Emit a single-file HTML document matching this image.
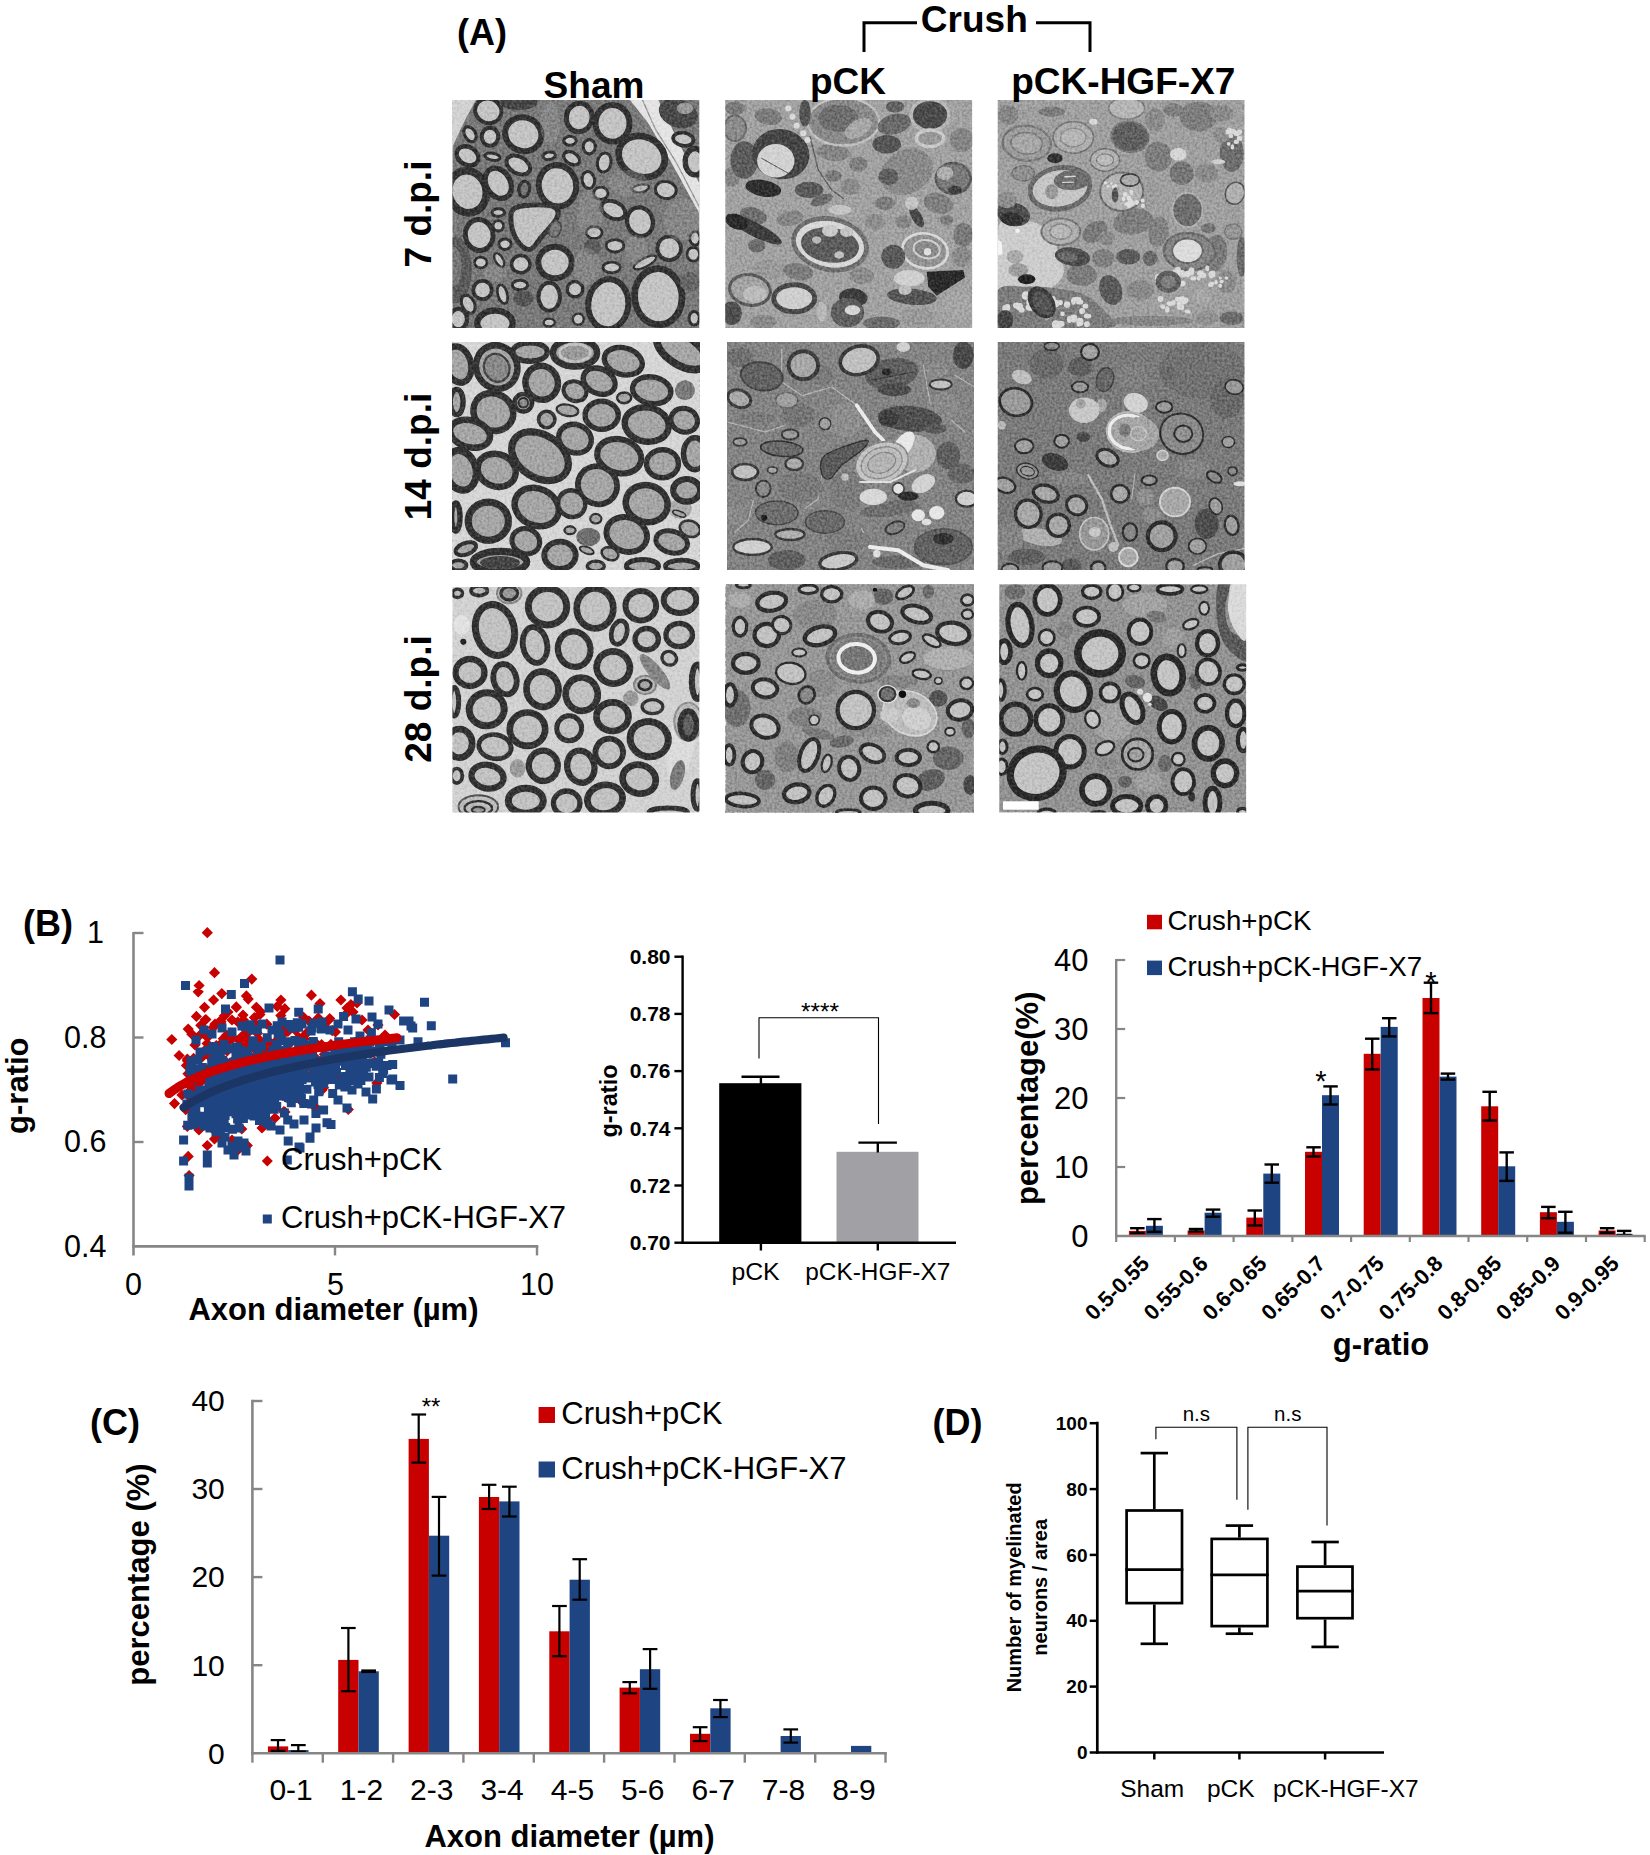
<!DOCTYPE html>
<html lang="en"><head><meta charset="utf-8"><title>Figure</title>
<style>
html,body{margin:0;padding:0;background:#fff;}
body{width:1650px;height:1855px;overflow:hidden;}
svg{display:block;font-family:"Liberation Sans", Arial, sans-serif;}
</style></head><body>
<svg width="1650" height="1855" viewBox="0 0 1650 1855">
<rect width="1650" height="1855" fill="#fff"/>
<g id="panelA">
<defs><filter id="soft" x="-5%" y="-5%" width="110%" height="110%"><feGaussianBlur stdDeviation="0.7"/></filter><filter id="grain" x="0" y="0" width="100%" height="100%" color-interpolation-filters="sRGB"><feTurbulence type="fractalNoise" baseFrequency="0.4" numOctaves="2" seed="3" result="n"/><feColorMatrix type="matrix" values="1.8 0 0 0 -0.4  1.8 0 0 0 -0.4  1.8 0 0 0 -0.4  0 0 0 0 1"/></filter></defs>
<clipPath id="cp1"><rect x="452.4" y="100.0" width="247.0" height="228.0"/></clipPath>
<g clip-path="url(#cp1)">
<rect x="452.4" y="100.0" width="247.0" height="228.0" fill="#7a7a7a"/>
<g filter="url(#soft)">
<path d="M452.5 100.0 L475.8 100.0 L465.0 120.0 L452.5 146.7Z" fill="#d2d2d2"/>
<path d="M656.7 100.0 L699.2 100.0 L699.2 190.0 L680.0 156.7Z" fill="#7a7a7a"/>
<path d="M630.0 100.0 L658.3 100.0 L680.0 145.0 L699.2 183.3 L699.2 213.3 L670.0 160.0 L648.3 123.3Z" fill="#e4e4e4"/>
<path d="M642.5 100.0 L655.0 128.3 L676.7 163.3 L699.2 206.7" fill="none" stroke="#9a9a9a" stroke-width="1.3" stroke-linecap="round" stroke-linejoin="round"/>
<ellipse cx="678.3" cy="113.3" rx="20.0" ry="14.2" fill="#4a4a4a" transform="rotate(20 678.3 113.3)"/>
<ellipse cx="685.0" cy="108.3" rx="8.3" ry="5.8" fill="#9a9a9a"/>
<ellipse cx="683.3" cy="139.2" rx="10.2" ry="6.5" fill="#c4c4c4" stroke="#303030" stroke-width="3.7" transform="rotate(10 683.3 139.2)"/>
<ellipse cx="695.0" cy="161.7" rx="9.8" ry="13.2" fill="#c4c4c4" stroke="#303030" stroke-width="5.3"/>
<ellipse cx="455.8" cy="270.0" rx="15.8" ry="33.3" fill="#5a5a5a"/>
<ellipse cx="453.3" cy="266.7" rx="8.3" ry="20.0" fill="#777"/>
<ellipse cx="523.3" cy="134.2" rx="18.3" ry="16.7" fill="#c4c4c4" stroke="#303030" stroke-width="6.0" transform="rotate(20 523.3 134.2)"/>
<ellipse cx="612.5" cy="123.3" rx="17.0" ry="18.3" fill="#c4c4c4" stroke="#303030" stroke-width="6.0"/>
<ellipse cx="641.7" cy="156.7" rx="23.7" ry="20.0" fill="#c4c4c4" stroke="#303030" stroke-width="6.7" transform="rotate(25 641.7 156.7)"/>
<ellipse cx="557.5" cy="185.8" rx="18.7" ry="20.7" fill="#c4c4c4" stroke="#303030" stroke-width="6.0" transform="rotate(-10 557.5 185.8)"/>
<ellipse cx="467.5" cy="191.7" rx="18.7" ry="21.2" fill="#c4c4c4" stroke="#303030" stroke-width="7.7" transform="rotate(-15 467.5 191.7)"/>
<path d="M513.3 209.2C516.9 205.6 526.4 205.3 533.3 205.0C540.3 204.7 551.1 205.3 555.0 207.5C558.9 209.7 558.9 213.5 556.7 218.3C554.4 223.2 546.0 231.5 541.7 236.7C537.4 241.8 534.4 247.9 530.8 249.2C527.2 250.4 523.2 247.9 520.0 244.2C516.8 240.4 512.8 232.5 511.7 226.7C510.6 220.8 509.7 212.8 513.3 209.2Z" fill="#c2c2c2" stroke="#343434" stroke-width="5.0" stroke-linejoin="round"/>
<ellipse cx="555.0" cy="262.5" rx="16.7" ry="15.7" fill="#c4c4c4" stroke="#303030" stroke-width="6.0"/>
<ellipse cx="608.3" cy="304.2" rx="20.0" ry="25.0" fill="#c4c4c4" stroke="#303030" stroke-width="6.0" transform="rotate(5 608.3 304.2)"/>
<ellipse cx="658.3" cy="296.7" rx="23.7" ry="28.0" fill="#c4c4c4" stroke="#303030" stroke-width="6.7" transform="rotate(-5 658.3 296.7)"/>
<ellipse cx="479.2" cy="235.0" rx="13.8" ry="15.5" fill="#c4c4c4" stroke="#303030" stroke-width="5.0" transform="rotate(-10 479.2 235.0)"/>
<ellipse cx="579.2" cy="117.5" rx="12.8" ry="14.2" fill="#c4c4c4" stroke="#303030" stroke-width="5.0" transform="rotate(10 579.2 117.5)"/>
<ellipse cx="640.0" cy="221.7" rx="12.8" ry="14.5" fill="#c4c4c4" stroke="#303030" stroke-width="4.3" transform="rotate(-20 640.0 221.7)"/>
<ellipse cx="669.2" cy="248.3" rx="11.8" ry="11.8" fill="#c4c4c4" stroke="#303030" stroke-width="3.7"/>
<ellipse cx="495.0" cy="323.3" rx="17.7" ry="12.7" fill="#c4c4c4" stroke="#303030" stroke-width="6.3"/>
<ellipse cx="458.3" cy="319.2" rx="8.7" ry="10.3" fill="#c4c4c4" stroke="#303030" stroke-width="4.3"/>
<ellipse cx="488.3" cy="110.8" rx="13.3" ry="12.2" fill="#c4c4c4" stroke="#303030" stroke-width="4.0" transform="rotate(20 488.3 110.8)"/>
<ellipse cx="518.3" cy="102.5" rx="19.2" ry="7.5" fill="#454545"/>
<ellipse cx="470.0" cy="134.2" rx="5.4" ry="8.1" fill="#c4c4c4" stroke="#303030" stroke-width="3.2" transform="rotate(-30 470.0 134.2)"/>
<ellipse cx="490.0" cy="136.7" rx="8.3" ry="9.0" fill="#c4c4c4" stroke="#303030" stroke-width="4.0"/>
<ellipse cx="467.5" cy="155.8" rx="11.5" ry="8.8" fill="#c4c4c4" stroke="#303030" stroke-width="4.3" transform="rotate(30 467.5 155.8)"/>
<ellipse cx="492.5" cy="156.7" rx="7.8" ry="3.5" fill="#c4c4c4" stroke="#303030" stroke-width="3.0" transform="rotate(10 492.5 156.7)"/>
<ellipse cx="518.3" cy="165.0" rx="12.7" ry="8.3" fill="#c4c4c4" stroke="#303030" stroke-width="4.0" transform="rotate(30 518.3 165.0)"/>
<ellipse cx="498.3" cy="183.3" rx="12.0" ry="16.0" fill="#c4c4c4" stroke="#303030" stroke-width="5.3" transform="rotate(-30 498.3 183.3)"/>
<ellipse cx="524.2" cy="189.2" rx="5.4" ry="7.8" fill="#777" stroke="#303030" stroke-width="3.2" transform="rotate(10 524.2 189.2)"/>
<ellipse cx="549.2" cy="155.8" rx="6.2" ry="3.8" fill="#c4c4c4" stroke="#303030" stroke-width="3.0" transform="rotate(-10 549.2 155.8)"/>
<ellipse cx="570.0" cy="140.8" rx="6.2" ry="4.5" fill="#c4c4c4" stroke="#303030" stroke-width="3.0"/>
<ellipse cx="571.7" cy="158.3" rx="8.7" ry="5.7" fill="#c4c4c4" stroke="#303030" stroke-width="3.3" transform="rotate(30 571.7 158.3)"/>
<ellipse cx="589.2" cy="146.7" rx="6.1" ry="7.1" fill="#c4c4c4" stroke="#303030" stroke-width="3.2"/>
<ellipse cx="604.2" cy="162.5" rx="6.8" ry="9.5" fill="#c4c4c4" stroke="#303030" stroke-width="3.0" transform="rotate(10 604.2 162.5)"/>
<ellipse cx="588.3" cy="180.0" rx="6.2" ry="8.5" fill="#c4c4c4" stroke="#303030" stroke-width="3.0" transform="rotate(-10 588.3 180.0)"/>
<ellipse cx="600.8" cy="193.3" rx="7.2" ry="6.1" fill="#c4c4c4" stroke="#303030" stroke-width="2.8"/>
<ellipse cx="613.3" cy="210.0" rx="12.7" ry="8.3" fill="#c4c4c4" stroke="#303030" stroke-width="4.0" transform="rotate(25 613.3 210.0)"/>
<ellipse cx="640.8" cy="188.3" rx="8.2" ry="3.8" fill="#c4c4c4" stroke="#303030" stroke-width="2.3" transform="rotate(-10 640.8 188.3)"/>
<ellipse cx="665.8" cy="190.0" rx="10.5" ry="8.5" fill="#c4c4c4" stroke="#303030" stroke-width="3.0" transform="rotate(10 665.8 190.0)"/>
<ellipse cx="498.3" cy="212.5" rx="6.2" ry="3.8" fill="#c4c4c4" stroke="#303030" stroke-width="3.0"/>
<ellipse cx="498.3" cy="225.8" rx="5.2" ry="5.2" fill="#c4c4c4" stroke="#303030" stroke-width="2.8"/>
<ellipse cx="505.0" cy="244.2" rx="6.2" ry="5.2" fill="#c4c4c4" stroke="#303030" stroke-width="3.0"/>
<ellipse cx="594.2" cy="232.5" rx="7.9" ry="6.2" fill="#c4c4c4" stroke="#303030" stroke-width="2.8"/>
<ellipse cx="615.0" cy="245.8" rx="8.9" ry="6.2" fill="#c4c4c4" stroke="#303030" stroke-width="2.8"/>
<ellipse cx="592.5" cy="246.7" rx="8.7" ry="8.0" fill="#5c5c5c"/>
<ellipse cx="555.0" cy="229.2" rx="6.7" ry="9.3" fill="#4a4a4a" transform="rotate(20 555.0 229.2)"/>
<ellipse cx="555.0" cy="229.2" rx="5.0" ry="7.7" fill="#7a7a7a" transform="rotate(20 555.0 229.2)"/>
<ellipse cx="480.8" cy="262.5" rx="6.3" ry="5.3" fill="#c4c4c4" stroke="#303030" stroke-width="2.7"/>
<ellipse cx="499.2" cy="260.0" rx="3.8" ry="7.5" fill="#c4c4c4" stroke="#303030" stroke-width="2.3" transform="rotate(-30 499.2 260.0)"/>
<ellipse cx="520.8" cy="264.2" rx="9.2" ry="8.6" fill="#c4c4c4" stroke="#303030" stroke-width="3.5"/>
<ellipse cx="611.7" cy="267.5" rx="8.7" ry="5.3" fill="#c4c4c4" stroke="#303030" stroke-width="2.7"/>
<ellipse cx="645.0" cy="262.5" rx="12.5" ry="4.2" fill="#c4c4c4" stroke="#303030" stroke-width="2.3" transform="rotate(-28 645.0 262.5)"/>
<ellipse cx="482.5" cy="290.0" rx="9.2" ry="9.2" fill="#c4c4c4" stroke="#303030" stroke-width="3.7"/>
<ellipse cx="502.5" cy="294.2" rx="4.7" ry="9.7" fill="#c4c4c4" stroke="#303030" stroke-width="2.7" transform="rotate(-15 502.5 294.2)"/>
<ellipse cx="520.0" cy="285.0" rx="7.8" ry="4.8" fill="#c4c4c4" stroke="#303030" stroke-width="3.0"/>
<ellipse cx="523.3" cy="298.3" rx="10.0" ry="8.3" fill="#555"/>
<ellipse cx="549.2" cy="296.7" rx="10.7" ry="14.0" fill="#c4c4c4" stroke="#303030" stroke-width="4.0"/>
<ellipse cx="575.0" cy="289.2" rx="7.7" ry="7.7" fill="#c4c4c4" stroke="#303030" stroke-width="3.3"/>
<ellipse cx="468.3" cy="304.2" rx="6.2" ry="9.5" fill="#c4c4c4" stroke="#303030" stroke-width="3.0" transform="rotate(-25 468.3 304.2)"/>
<ellipse cx="578.3" cy="319.2" rx="5.5" ry="5.5" fill="#c4c4c4" stroke="#303030" stroke-width="2.3"/>
<ellipse cx="549.2" cy="322.5" rx="5.5" ry="3.8" fill="#c4c4c4" stroke="#303030" stroke-width="2.3"/>
<ellipse cx="695.0" cy="238.3" rx="5.2" ry="6.9" fill="#c4c4c4" stroke="#303030" stroke-width="2.8"/>
<ellipse cx="693.3" cy="254.2" rx="6.2" ry="6.9" fill="#c4c4c4" stroke="#303030" stroke-width="2.8"/>
<ellipse cx="694.2" cy="318.3" rx="5.2" ry="6.8" fill="#c4c4c4" stroke="#303030" stroke-width="3.0"/>
<ellipse cx="690.0" cy="281.7" rx="10.0" ry="10.0" fill="#666"/>
<ellipse cx="550.0" cy="123.3" rx="10.0" ry="21.7" fill="#a0a0a0" fill-opacity="0.35"/>
<ellipse cx="590.0" cy="213.3" rx="13.3" ry="21.7" fill="#a0a0a0" fill-opacity="0.35"/>
<ellipse cx="586.7" cy="266.7" rx="13.3" ry="18.3" fill="#a0a0a0" fill-opacity="0.35"/>
<ellipse cx="628.3" cy="183.3" rx="20.0" ry="13.3" fill="#a0a0a0" fill-opacity="0.35"/>
<ellipse cx="681.7" cy="220.0" rx="18.3" ry="21.7" fill="#a0a0a0" fill-opacity="0.35"/>
<ellipse cx="636.7" cy="250.0" rx="11.7" ry="15.0" fill="#a0a0a0" fill-opacity="0.35"/>
<ellipse cx="495.0" cy="273.3" rx="11.7" ry="8.3" fill="#a0a0a0" fill-opacity="0.35"/>
</g>
<rect x="452.4" y="100.0" width="247.0" height="228.0" filter="url(#grain)" style="mix-blend-mode:soft-light" opacity="0.4"/>
</g>
<clipPath id="cp2"><rect x="725.2" y="100.0" width="247.0" height="228.0"/></clipPath>
<g clip-path="url(#cp2)">
<rect x="725.2" y="100.0" width="247.0" height="228.0" fill="#a2a2a2"/>
<g filter="url(#soft)">
<ellipse cx="768.3" cy="116.7" rx="13.7" ry="8.3" fill="#7c7c7c" transform="rotate(10 768.3 116.7)"/>
<ellipse cx="735.0" cy="108.3" rx="10.0" ry="6.7" fill="#7a7a7a"/>
<ellipse cx="833.3" cy="152.5" rx="16.7" ry="8.3" fill="#858585" transform="rotate(5 833.3 152.5)"/>
<ellipse cx="858.3" cy="164.2" rx="9.3" ry="7.5" fill="#808080"/>
<ellipse cx="833.3" cy="175.8" rx="8.3" ry="5.8" fill="#7a7a7a"/>
<ellipse cx="850.0" cy="186.7" rx="10.0" ry="8.3" fill="#8a8a8a"/>
<ellipse cx="790.0" cy="218.3" rx="13.7" ry="7.5" fill="#868686" transform="rotate(-10 790.0 218.3)"/>
<ellipse cx="753.3" cy="215.8" rx="13.7" ry="8.3" fill="#6e6e6e" transform="rotate(15 753.3 215.8)"/>
<ellipse cx="875.0" cy="221.7" rx="10.3" ry="8.3" fill="#8e8e8e"/>
<ellipse cx="885.0" cy="203.3" rx="10.3" ry="6.7" fill="#7e7e7e"/>
<ellipse cx="903.3" cy="221.7" rx="8.3" ry="6.7" fill="#868686"/>
<ellipse cx="938.3" cy="203.3" rx="15.0" ry="10.0" fill="#808080" transform="rotate(15 938.3 203.3)"/>
<ellipse cx="946.7" cy="220.0" rx="6.7" ry="5.0" fill="#7c7c7c"/>
<ellipse cx="963.3" cy="235.0" rx="10.0" ry="12.0" fill="#7a7a7a"/>
<ellipse cx="756.7" cy="245.8" rx="8.7" ry="6.7" fill="#6c6c6c"/>
<ellipse cx="768.3" cy="269.2" rx="16.7" ry="9.2" fill="#9a9a9a" transform="rotate(5 768.3 269.2)"/>
<ellipse cx="798.3" cy="271.7" rx="15.0" ry="8.3" fill="#7c7c7c" transform="rotate(10 798.3 271.7)"/>
<ellipse cx="861.7" cy="275.8" rx="12.0" ry="8.3" fill="#8c8c8c"/>
<ellipse cx="918.3" cy="317.5" rx="16.7" ry="10.0" fill="#9a9a9a"/>
<ellipse cx="958.3" cy="305.0" rx="13.3" ry="13.3" fill="#a6a6a6"/>
<ellipse cx="895.0" cy="106.7" rx="9.3" ry="5.8" fill="#646464"/>
<ellipse cx="961.7" cy="140.0" rx="12.0" ry="12.0" fill="#858585"/>
<ellipse cx="881.7" cy="323.3" rx="18.3" ry="6.7" fill="#6c6c6c"/>
<ellipse cx="731.7" cy="313.3" rx="10.3" ry="11.7" fill="#505050"/>
<ellipse cx="763.3" cy="321.7" rx="13.3" ry="6.7" fill="#8a8a8a"/>
<ellipse cx="731.7" cy="176.7" rx="8.3" ry="10.0" fill="#858585"/>
<ellipse cx="821.7" cy="200.0" rx="11.7" ry="5.0" fill="#6c6c6c" transform="rotate(-20 821.7 200.0)"/>
<ellipse cx="961.7" cy="256.7" rx="10.0" ry="10.0" fill="#8a8a8a"/>
<ellipse cx="735.0" cy="128.3" rx="11.0" ry="12.7" fill="#8c8c8c" stroke="#6c6c6c" stroke-width="2.0"/>
<ellipse cx="843.3" cy="121.7" rx="35.8" ry="23.8" fill="#8a8a8a" stroke="#c2c2c2" stroke-width="2.3"/>
<ellipse cx="838.3" cy="118.3" rx="20.0" ry="13.3" fill="#6e6e6e"/>
<ellipse cx="858.3" cy="128.3" rx="15.0" ry="8.3" fill="#a8a8a8" transform="rotate(-30 858.3 128.3)"/>
<ellipse cx="805.0" cy="113.3" rx="5.8" ry="13.3" fill="#555"/>
<ellipse cx="930.0" cy="115.0" rx="19.0" ry="15.7" fill="#4c4c4c" stroke="#b8b8b8" stroke-width="3.7"/>
<ellipse cx="894.2" cy="124.2" rx="17.0" ry="10.0" fill="#6a6a6a" transform="rotate(-15 894.2 124.2)"/>
<ellipse cx="886.7" cy="144.2" rx="14.3" ry="9.3" fill="#555"/>
<ellipse cx="930.0" cy="138.3" rx="13.7" ry="8.3" fill="#9a9a9a" stroke="#cacaca" stroke-width="3.3"/>
<ellipse cx="906.7" cy="171.7" rx="27.5" ry="21.7" fill="#8a8a8a" transform="rotate(-30 906.7 171.7)"/>
<ellipse cx="888.3" cy="176.7" rx="10.0" ry="8.3" fill="#5e5e5e"/>
<ellipse cx="953.3" cy="178.3" rx="17.3" ry="15.3" fill="#7a7a7a" stroke="#5e5e5e" stroke-width="2.7"/>
<ellipse cx="945.0" cy="173.3" rx="8.3" ry="6.7" fill="#c8c8c8" fill-opacity="0.7"/>
<ellipse cx="955.0" cy="190.0" rx="6.7" ry="4.2" fill="#3c3c3c"/>
<ellipse cx="744.2" cy="160.0" rx="13.7" ry="18.7" fill="#5c5c5c"/>
<ellipse cx="780.8" cy="154.2" rx="28.7" ry="25.0" fill="#454545" transform="rotate(10 780.8 154.2)"/>
<ellipse cx="775.8" cy="160.8" rx="18.7" ry="16.7" fill="#d2d2d2"/>
<path d="M761.7 158.3 L788.3 173.3" fill="none" stroke="#555" stroke-width="1.0" stroke-linecap="round" stroke-linejoin="round"/>
<ellipse cx="763.3" cy="188.3" rx="18.0" ry="8.3" fill="#2e2e2e" transform="rotate(10 763.3 188.3)"/>
<ellipse cx="809.2" cy="190.0" rx="14.3" ry="8.3" fill="#5a5a5a"/>
<ellipse cx="754.2" cy="229.2" rx="30.8" ry="7.0" fill="#3c3c3c" transform="rotate(27 754.2 229.2)"/>
<ellipse cx="736.7" cy="221.7" rx="11.7" ry="7.5" fill="#2c2c2c" transform="rotate(20 736.7 221.7)"/>
<path d="M810.0 136.7 L818.3 170.0 L831.7 190.0 L843.3 198.3" fill="none" stroke="#5e5e5e" stroke-width="1.3" stroke-linecap="round" stroke-linejoin="round"/>
<ellipse cx="788.3" cy="108.3" rx="3.0" ry="3.0" fill="#dcdcdc"/>
<ellipse cx="792.5" cy="116.7" rx="3.0" ry="3.0" fill="#dcdcdc"/>
<ellipse cx="796.7" cy="125.8" rx="3.0" ry="3.0" fill="#dcdcdc"/>
<ellipse cx="803.3" cy="133.3" rx="3.0" ry="3.0" fill="#dcdcdc"/>
<ellipse cx="807.5" cy="140.0" rx="3.0" ry="3.0" fill="#dcdcdc"/>
<ellipse cx="830.0" cy="244.2" rx="36.8" ry="25.2" fill="#d8d8d8" stroke="#707070" stroke-width="4.7" transform="rotate(12 830.0 244.2)"/>
<ellipse cx="830.0" cy="245.0" rx="29.2" ry="17.5" fill="#5c5c5c" transform="rotate(8 830.0 245.0)"/>
<ellipse cx="830.0" cy="230.8" rx="8.0" ry="6.0" fill="#cacaca"/>
<ellipse cx="846.7" cy="232.0" rx="6.7" ry="5.0" fill="#c4c4c4"/>
<ellipse cx="839.2" cy="255.0" rx="5.0" ry="3.7" fill="#c0c0c0"/>
<ellipse cx="816.7" cy="240.0" rx="4.7" ry="3.7" fill="#b8b8b8"/>
<ellipse cx="840.0" cy="210.0" rx="11.7" ry="5.0" fill="#c4c4c4"/>
<ellipse cx="925.0" cy="250.8" rx="22.8" ry="17.3" fill="#949494" stroke="#d8d8d8" stroke-width="2.7" transform="rotate(10 925.0 250.8)"/>
<ellipse cx="926.7" cy="249.2" rx="13.2" ry="9.0" fill="#8a8a8a" stroke="#d0d0d0" stroke-width="2.0" transform="rotate(10 926.7 249.2)"/>
<ellipse cx="927.5" cy="251.7" rx="3.7" ry="3.7" fill="#e0e0e0"/>
<ellipse cx="893.3" cy="256.7" rx="12.0" ry="12.0" fill="#5a5a5a"/>
<path d="M926.7 271.7 L963.3 270.0 L965.0 277.5 L936.7 295.8 L928.3 286.7Z" fill="#2a2a2a"/>
<ellipse cx="909.2" cy="278.3" rx="15.3" ry="8.3" fill="#d0d0d0"/>
<ellipse cx="911.7" cy="296.7" rx="25.0" ry="8.0" fill="#555" transform="rotate(5 911.7 296.7)"/>
<ellipse cx="905.0" cy="290.0" rx="6.7" ry="5.0" fill="#c0c0c0"/>
<ellipse cx="916.7" cy="216.7" rx="5.0" ry="12.0" fill="#4a4a4a" transform="rotate(-30 916.7 216.7)"/>
<ellipse cx="911.7" cy="203.3" rx="6.7" ry="6.7" fill="#cfcfcf" fill-opacity="0.8"/>
<ellipse cx="794.2" cy="298.3" rx="20.5" ry="13.5" fill="#cfcfcf" stroke="#4a4a4a" stroke-width="5.0"/>
<ellipse cx="750.0" cy="290.0" rx="20.5" ry="15.2" fill="#a4a4a4" stroke="#5a5a5a" stroke-width="3.0" transform="rotate(10 750.0 290.0)"/>
<ellipse cx="755.0" cy="294.2" rx="12.0" ry="8.3" fill="#bcbcbc"/>
<ellipse cx="853.3" cy="297.5" rx="14.3" ry="9.2" fill="#3c3c3c" transform="rotate(5 853.3 297.5)"/>
<ellipse cx="847.5" cy="312.5" rx="16.7" ry="14.7" fill="#5e5e5e"/>
<ellipse cx="852.5" cy="310.3" rx="7.7" ry="5.0" fill="#d6d6d6"/>
<ellipse cx="821.7" cy="311.7" rx="5.0" ry="10.0" fill="#c8c8c8" fill-opacity="0.6"/>
</g>
<rect x="725.2" y="100.0" width="247.0" height="228.0" filter="url(#grain)" style="mix-blend-mode:soft-light" opacity="0.4"/>
</g>
<clipPath id="cp3"><rect x="997.6" y="100.0" width="247.0" height="228.0"/></clipPath>
<g clip-path="url(#cp3)">
<rect x="997.6" y="100.0" width="247.0" height="228.0" fill="#a0a0a0"/>
<g filter="url(#soft)">
<ellipse cx="1008.3" cy="115.0" rx="10.3" ry="10.0" fill="#868686"/>
<ellipse cx="1078.3" cy="108.3" rx="11.7" ry="6.7" fill="#a2a2a2"/>
<ellipse cx="1051.7" cy="111.7" rx="13.3" ry="5.0" fill="#7c7c7c"/>
<ellipse cx="1198.3" cy="116.7" rx="18.7" ry="15.0" fill="#7e7e7e"/>
<ellipse cx="1221.7" cy="113.3" rx="11.7" ry="8.3" fill="#8a8a8a"/>
<ellipse cx="1231.7" cy="153.3" rx="12.0" ry="18.7" fill="#6e6e6e"/>
<ellipse cx="1190.0" cy="141.7" rx="9.2" ry="10.0" fill="#a0a0a0"/>
<ellipse cx="1158.3" cy="156.7" rx="13.7" ry="15.0" fill="#7e7e7e"/>
<ellipse cx="1181.7" cy="173.3" rx="12.0" ry="11.7" fill="#767676"/>
<ellipse cx="1206.7" cy="173.3" rx="11.7" ry="9.2" fill="#8a8a8a"/>
<ellipse cx="1211.7" cy="206.7" rx="10.0" ry="8.3" fill="#a2a2a2"/>
<ellipse cx="1241.7" cy="256.7" rx="5.0" ry="20.0" fill="#6a6a6a"/>
<ellipse cx="1095.0" cy="231.7" rx="13.7" ry="9.7" fill="#7a7a7a" transform="rotate(-35 1095.0 231.7)"/>
<ellipse cx="1081.7" cy="275.0" rx="15.3" ry="11.0" fill="#7c7c7c"/>
<ellipse cx="1128.3" cy="256.7" rx="12.0" ry="7.7" fill="#5c5c5c"/>
<ellipse cx="1103.3" cy="258.3" rx="11.0" ry="9.3" fill="#808080"/>
<ellipse cx="1133.3" cy="221.7" rx="20.3" ry="12.7" fill="#7e7e7e" transform="rotate(-10 1133.3 221.7)"/>
<ellipse cx="1158.3" cy="231.7" rx="10.0" ry="15.3" fill="#828282" transform="rotate(10 1158.3 231.7)"/>
<ellipse cx="1150.0" cy="258.3" rx="7.5" ry="7.5" fill="#6a6a6a"/>
<ellipse cx="1140.0" cy="290.0" rx="13.7" ry="10.0" fill="#8a8a8a"/>
<ellipse cx="1215.0" cy="253.3" rx="12.0" ry="18.7" fill="#7a7a7a" transform="rotate(10 1215.0 253.3)"/>
<ellipse cx="1201.7" cy="296.7" rx="8.7" ry="7.7" fill="#a8a8a8"/>
<ellipse cx="1231.7" cy="318.3" rx="12.0" ry="6.7" fill="#6c6c6c"/>
<ellipse cx="1151.7" cy="320.8" rx="41.7" ry="5.0" fill="#868686"/>
<ellipse cx="1155.0" cy="120.0" rx="10.0" ry="11.7" fill="#8c8c8c"/>
<ellipse cx="1173.3" cy="110.0" rx="10.0" ry="6.7" fill="#808080"/>
<ellipse cx="1221.7" cy="135.0" rx="9.2" ry="7.5" fill="#8e8e8e"/>
<ellipse cx="1151.7" cy="193.3" rx="7.5" ry="11.7" fill="#9c9c9c"/>
<ellipse cx="1106.7" cy="238.3" rx="8.3" ry="7.5" fill="#8a8a8a"/>
<ellipse cx="1208.3" cy="228.3" rx="7.5" ry="5.0" fill="#777"/>
<ellipse cx="1226.7" cy="281.7" rx="10.0" ry="11.7" fill="#8c8c8c"/>
<ellipse cx="1206.7" cy="318.3" rx="11.7" ry="6.7" fill="#909090"/>
<path d="M998.0 228.3C1001.4 214.2 1011.9 222.5 1018.3 221.7C1024.8 220.8 1031.1 220.8 1036.7 223.3C1042.2 225.8 1047.8 231.1 1051.7 236.7C1055.6 242.2 1058.1 250.3 1060.0 256.7C1061.9 263.1 1065.3 269.4 1063.3 275.0C1061.4 280.6 1054.4 286.7 1048.3 290.0C1042.2 293.3 1035.1 292.2 1026.7 295.0C1018.3 297.8 1002.8 317.8 998.0 306.7C993.2 295.6 994.6 242.5 998.0 228.3Z" fill="#cdcdcd"/>
<ellipse cx="1015.0" cy="256.7" rx="8.3" ry="6.7" fill="#9a9a9a" fill-opacity="0.7"/>
<ellipse cx="1018.3" cy="270.0" rx="10.0" ry="6.7" fill="#8a8a8a" fill-opacity="0.7"/>
<path d="M998.0 290.0C1002.8 283.1 1017.2 286.9 1026.7 286.7C1036.2 286.4 1045.3 286.9 1055.0 288.3C1064.7 289.7 1076.7 291.1 1085.0 295.0C1093.3 298.9 1101.1 306.2 1105.0 311.7C1108.9 317.2 1126.2 325.3 1108.3 328.0C1090.5 330.7 1016.4 334.3 998.0 328.0C979.6 321.7 993.2 296.9 998.0 290.0Z" fill="#7c7c7c"/>
<ellipse cx="1073.7" cy="318.5" rx="3.7" ry="3.9" fill="#dadada"/>
<ellipse cx="1078.7" cy="323.6" rx="2.4" ry="3.1" fill="#dadada"/>
<ellipse cx="1087.5" cy="315.9" rx="3.8" ry="2.5" fill="#dadada"/>
<ellipse cx="1067.0" cy="304.5" rx="3.2" ry="3.3" fill="#dadada"/>
<ellipse cx="1047.2" cy="303.6" rx="2.8" ry="3.9" fill="#dadada"/>
<ellipse cx="1079.8" cy="302.0" rx="3.7" ry="2.6" fill="#dadada"/>
<ellipse cx="1073.4" cy="301.1" rx="2.3" ry="3.8" fill="#dadada"/>
<ellipse cx="1055.7" cy="303.6" rx="4.0" ry="3.8" fill="#dadada"/>
<ellipse cx="1059.2" cy="324.7" rx="3.2" ry="3.5" fill="#dadada"/>
<ellipse cx="1055.5" cy="324.2" rx="3.5" ry="3.9" fill="#dadada"/>
<ellipse cx="1085.4" cy="306.0" rx="2.9" ry="2.6" fill="#dadada"/>
<ellipse cx="1053.0" cy="299.3" rx="2.8" ry="3.3" fill="#dadada"/>
<ellipse cx="1046.8" cy="316.7" rx="2.9" ry="2.8" fill="#dadada"/>
<ellipse cx="1082.1" cy="311.1" rx="2.9" ry="3.1" fill="#dadada"/>
<ellipse cx="1077.2" cy="299.1" rx="4.0" ry="2.4" fill="#dadada"/>
<ellipse cx="1079.2" cy="321.4" rx="2.4" ry="3.6" fill="#dadada"/>
<ellipse cx="1062.5" cy="313.9" rx="2.3" ry="2.4" fill="#dadada"/>
<ellipse cx="1054.5" cy="324.6" rx="2.7" ry="3.6" fill="#dadada"/>
<ellipse cx="1087.0" cy="324.2" rx="2.9" ry="2.9" fill="#dadada"/>
<ellipse cx="1069.4" cy="319.5" rx="2.5" ry="3.6" fill="#dadada"/>
<ellipse cx="1081.2" cy="321.9" rx="2.4" ry="3.9" fill="#dadada"/>
<ellipse cx="1050.6" cy="307.2" rx="3.4" ry="3.9" fill="#dadada"/>
<ellipse cx="1061.4" cy="323.7" rx="3.2" ry="2.9" fill="#dadada"/>
<ellipse cx="1060.4" cy="302.5" rx="2.5" ry="2.6" fill="#dadada"/>
<ellipse cx="1021.7" cy="309.9" rx="2.9" ry="2.7" fill="#dadada"/>
<ellipse cx="1029.6" cy="302.2" rx="3.3" ry="3.0" fill="#dadada"/>
<ellipse cx="1019.2" cy="307.1" rx="3.4" ry="3.3" fill="#dadada"/>
<ellipse cx="1004.8" cy="308.6" rx="2.6" ry="3.5" fill="#dadada"/>
<ellipse cx="1025.7" cy="295.5" rx="3.9" ry="4.3" fill="#dadada"/>
<ellipse cx="1020.1" cy="306.5" rx="2.8" ry="3.4" fill="#dadada"/>
<ellipse cx="1007.3" cy="307.4" rx="3.1" ry="3.4" fill="#dadada"/>
<ellipse cx="1030.0" cy="307.5" rx="4.4" ry="3.4" fill="#dadada"/>
<ellipse cx="1016.4" cy="305.5" rx="3.4" ry="3.1" fill="#dadada"/>
<ellipse cx="1013.3" cy="214.2" rx="17.0" ry="11.7" fill="#4e4e4e" transform="rotate(15 1013.3 214.2)"/>
<ellipse cx="1011.7" cy="219.2" rx="11.7" ry="6.7" fill="#333" transform="rotate(10 1011.7 219.2)"/>
<ellipse cx="1006.7" cy="200.0" rx="10.0" ry="8.3" fill="#8e8e8e"/>
<ellipse cx="1026.7" cy="279.2" rx="8.7" ry="5.0" fill="#222"/>
<ellipse cx="1041.7" cy="302.5" rx="12.0" ry="17.5" fill="#3a3a3a" transform="rotate(-35 1041.7 302.5)"/>
<ellipse cx="1042.5" cy="303.3" rx="8.3" ry="13.3" fill="#555" transform="rotate(-35 1042.5 303.3)"/>
<ellipse cx="1005.0" cy="320.0" rx="8.3" ry="10.0" fill="#444"/>
<ellipse cx="1026.7" cy="143.3" rx="24.2" ry="17.5" fill="#9c9c9c" stroke="#7a7a7a" stroke-width="2.3" transform="rotate(5 1026.7 143.3)"/>
<ellipse cx="1026.7" cy="143.3" rx="15.8" ry="10.8" fill="#a8a8a8" stroke="#808080" stroke-width="1.7" transform="rotate(5 1026.7 143.3)"/>
<ellipse cx="1073.3" cy="137.5" rx="20.2" ry="15.8" fill="#aeaeae" stroke="#787878" stroke-width="1.7"/>
<ellipse cx="1073.3" cy="137.5" rx="12.7" ry="9.3" fill="#b6b6b6" stroke="#8a8a8a" stroke-width="1.3"/>
<ellipse cx="1130.0" cy="136.7" rx="18.7" ry="15.3" fill="#5e5e5e" stroke="#7c7c7c" stroke-width="2.0" transform="rotate(10 1130.0 136.7)"/>
<ellipse cx="1105.0" cy="160.0" rx="14.6" ry="11.2" fill="#b2b2b2" stroke="#757575" stroke-width="1.5"/>
<ellipse cx="1105.0" cy="160.0" rx="8.6" ry="6.1" fill="#bcbcbc" stroke="#858585" stroke-width="1.2"/>
<ellipse cx="1126.7" cy="108.3" rx="17.9" ry="10.9" fill="#b6b6b6" stroke="#808080" stroke-width="1.5"/>
<ellipse cx="1023.3" cy="173.3" rx="11.3" ry="7.7" fill="#909090" stroke="#757575" stroke-width="1.3"/>
<ellipse cx="1055.0" cy="158.3" rx="7.7" ry="5.0" fill="#333"/>
<ellipse cx="1060.0" cy="188.3" rx="30.0" ry="20.5" fill="#c6c6c6" stroke="#6a6a6a" stroke-width="5.0" transform="rotate(-10 1060.0 188.3)"/>
<ellipse cx="1072.5" cy="180.0" rx="18.7" ry="10.0" fill="#6e6e6e" transform="rotate(-5 1072.5 180.0)"/>
<path d="M1065.0 176.7 L1075.0 176.3" fill="none" stroke="#dcdcdc" stroke-width="1.5" stroke-linecap="round" stroke-linejoin="round"/>
<path d="M1062.5 182.5 L1073.3 182.2" fill="none" stroke="#dcdcdc" stroke-width="1.2" stroke-linecap="round" stroke-linejoin="round"/>
<ellipse cx="1051.7" cy="191.7" rx="6.7" ry="7.5" fill="#9a9a9a"/>
<ellipse cx="1121.7" cy="191.7" rx="21.5" ry="19.3" fill="#b4b4b4" stroke="#6e6e6e" stroke-width="2.0"/>
<ellipse cx="1131.4" cy="192.4" rx="1.9" ry="2.6" fill="#dedede"/>
<ellipse cx="1142.5" cy="200.4" rx="2.1" ry="1.9" fill="#dedede"/>
<ellipse cx="1125.1" cy="194.5" rx="2.4" ry="2.5" fill="#dedede"/>
<ellipse cx="1130.6" cy="203.1" rx="2.4" ry="2.3" fill="#dedede"/>
<ellipse cx="1136.6" cy="202.7" rx="1.9" ry="2.3" fill="#dedede"/>
<ellipse cx="1129.0" cy="198.1" rx="2.4" ry="2.3" fill="#dedede"/>
<ellipse cx="1129.2" cy="205.8" rx="2.2" ry="2.1" fill="#dedede"/>
<ellipse cx="1123.6" cy="199.1" rx="1.8" ry="2.2" fill="#dedede"/>
<ellipse cx="1132.6" cy="203.6" rx="2.2" ry="2.4" fill="#dedede"/>
<ellipse cx="1130.3" cy="200.7" rx="2.3" ry="2.4" fill="#dedede"/>
<ellipse cx="1130.3" cy="204.0" rx="2.5" ry="2.3" fill="#dedede"/>
<ellipse cx="1142.9" cy="205.9" rx="2.1" ry="2.1" fill="#dedede"/>
<ellipse cx="1126.7" cy="203.9" rx="2.5" ry="2.0" fill="#dedede"/>
<ellipse cx="1137.2" cy="202.0" rx="2.3" ry="1.7" fill="#dedede"/>
<ellipse cx="1130.0" cy="180.0" rx="9.5" ry="6.2" fill="#ababab" stroke="#3a3a3a" stroke-width="1.7"/>
<ellipse cx="1115.0" cy="195.0" rx="3.3" ry="7.5" fill="#555"/>
<ellipse cx="1115.4" cy="185.5" rx="1.7" ry="1.5" fill="#dedede"/>
<ellipse cx="1113.3" cy="186.8" rx="1.7" ry="1.8" fill="#dedede"/>
<ellipse cx="1105.4" cy="182.7" rx="1.5" ry="1.7" fill="#dedede"/>
<ellipse cx="1107.9" cy="186.2" rx="1.7" ry="1.2" fill="#dedede"/>
<ellipse cx="1111.3" cy="183.2" rx="1.2" ry="1.3" fill="#dedede"/>
<ellipse cx="1187.5" cy="210.0" rx="15.0" ry="17.2" fill="#6e6e6e" stroke="#b2b2b2" stroke-width="1.7"/>
<ellipse cx="1235.0" cy="193.3" rx="9.6" ry="11.2" fill="#b0b0b0" stroke="#555" stroke-width="1.5" transform="rotate(20 1235.0 193.3)"/>
<ellipse cx="1233.3" cy="231.7" rx="8.7" ry="7.7" fill="#969696" stroke="#777" stroke-width="1.3"/>
<ellipse cx="1189.2" cy="251.7" rx="25.5" ry="18.5" fill="#858585" stroke="#6c6c6c" stroke-width="2.3" transform="rotate(5 1189.2 251.7)"/>
<ellipse cx="1187.5" cy="250.8" rx="15.3" ry="12.3" fill="#dcdcdc" stroke="#6a6a6a" stroke-width="2.0"/>
<ellipse cx="1174.6" cy="271.4" rx="2.3" ry="2.0" fill="#dadada"/>
<ellipse cx="1183.0" cy="274.7" rx="2.9" ry="2.8" fill="#dadada"/>
<ellipse cx="1170.1" cy="283.4" rx="2.0" ry="2.6" fill="#dadada"/>
<ellipse cx="1172.4" cy="275.2" rx="2.1" ry="3.2" fill="#dadada"/>
<ellipse cx="1177.9" cy="268.9" rx="2.9" ry="2.1" fill="#dadada"/>
<ellipse cx="1187.6" cy="274.0" rx="2.8" ry="3.3" fill="#dadada"/>
<ellipse cx="1203.0" cy="275.3" rx="3.1" ry="2.9" fill="#dadada"/>
<ellipse cx="1177.6" cy="270.7" rx="2.8" ry="2.8" fill="#dadada"/>
<ellipse cx="1210.9" cy="284.5" rx="2.8" ry="2.5" fill="#dadada"/>
<ellipse cx="1207.3" cy="268.3" rx="2.1" ry="2.8" fill="#dadada"/>
<ellipse cx="1191.5" cy="270.7" rx="2.9" ry="3.2" fill="#dadada"/>
<ellipse cx="1178.0" cy="275.5" rx="2.3" ry="2.4" fill="#dadada"/>
<ellipse cx="1211.8" cy="274.7" rx="3.3" ry="3.3" fill="#dadada"/>
<ellipse cx="1190.4" cy="272.7" rx="3.4" ry="2.7" fill="#dadada"/>
<ellipse cx="1180.2" cy="273.7" rx="3.4" ry="2.7" fill="#dadada"/>
<ellipse cx="1172.9" cy="276.3" rx="2.2" ry="2.9" fill="#dadada"/>
<ellipse cx="1181.8" cy="273.2" rx="3.1" ry="3.2" fill="#dadada"/>
<ellipse cx="1157.4" cy="277.2" rx="2.4" ry="3.3" fill="#dadada"/>
<ellipse cx="1201.0" cy="272.4" rx="2.4" ry="2.2" fill="#dadada"/>
<ellipse cx="1212.7" cy="273.2" rx="2.8" ry="2.7" fill="#dadada"/>
<ellipse cx="1193.2" cy="278.4" rx="3.0" ry="2.2" fill="#dadada"/>
<ellipse cx="1199.8" cy="273.3" rx="2.7" ry="2.5" fill="#dadada"/>
<ellipse cx="1173.5" cy="277.2" rx="2.6" ry="2.5" fill="#dadada"/>
<ellipse cx="1198.9" cy="278.2" rx="2.0" ry="2.3" fill="#dadada"/>
<ellipse cx="1182.5" cy="283.6" rx="3.2" ry="2.8" fill="#dadada"/>
<ellipse cx="1157.5" cy="281.3" rx="2.6" ry="2.8" fill="#dadada"/>
<ellipse cx="1179.6" cy="306.8" rx="2.7" ry="3.3" fill="#dadada"/>
<ellipse cx="1169.9" cy="303.6" rx="3.2" ry="2.3" fill="#dadada"/>
<ellipse cx="1167.2" cy="309.4" rx="2.1" ry="3.2" fill="#dadada"/>
<ellipse cx="1179.2" cy="304.1" rx="2.4" ry="3.1" fill="#dadada"/>
<ellipse cx="1185.7" cy="300.2" rx="2.7" ry="2.8" fill="#dadada"/>
<ellipse cx="1173.3" cy="302.7" rx="2.2" ry="2.8" fill="#dadada"/>
<ellipse cx="1182.7" cy="299.2" rx="2.3" ry="3.1" fill="#dadada"/>
<ellipse cx="1182.1" cy="307.2" rx="2.0" ry="3.0" fill="#dadada"/>
<ellipse cx="1187.7" cy="311.6" rx="3.0" ry="2.1" fill="#dadada"/>
<ellipse cx="1183.6" cy="301.3" rx="2.9" ry="3.3" fill="#dadada"/>
<ellipse cx="1179.7" cy="300.1" rx="2.4" ry="3.3" fill="#dadada"/>
<ellipse cx="1162.8" cy="306.5" rx="2.6" ry="2.2" fill="#dadada"/>
<ellipse cx="1177.0" cy="298.9" rx="2.1" ry="2.5" fill="#dadada"/>
<ellipse cx="1160.5" cy="299.1" rx="2.8" ry="3.0" fill="#dadada"/>
<ellipse cx="1226.3" cy="278.0" rx="1.8" ry="1.7" fill="#dadada"/>
<ellipse cx="1221.7" cy="281.6" rx="2.3" ry="1.8" fill="#dadada"/>
<ellipse cx="1212.6" cy="283.6" rx="1.6" ry="2.0" fill="#dadada"/>
<ellipse cx="1220.1" cy="285.8" rx="2.0" ry="2.0" fill="#dadada"/>
<ellipse cx="1216.1" cy="282.2" rx="1.7" ry="2.2" fill="#dadada"/>
<ellipse cx="1220.3" cy="278.0" rx="1.6" ry="1.8" fill="#dadada"/>
<ellipse cx="1238.6" cy="132.5" rx="2.6" ry="2.6" fill="#dadada"/>
<ellipse cx="1228.8" cy="143.9" rx="1.9" ry="1.9" fill="#dadada"/>
<ellipse cx="1236.4" cy="133.9" rx="2.8" ry="2.4" fill="#dadada"/>
<ellipse cx="1232.3" cy="146.9" rx="1.8" ry="2.7" fill="#dadada"/>
<ellipse cx="1228.3" cy="131.9" rx="2.9" ry="2.6" fill="#dadada"/>
<ellipse cx="1230.8" cy="131.0" rx="3.0" ry="2.6" fill="#dadada"/>
<ellipse cx="1239.8" cy="131.6" rx="2.5" ry="2.2" fill="#dadada"/>
<ellipse cx="1231.0" cy="136.1" rx="2.5" ry="2.2" fill="#dadada"/>
<ellipse cx="1233.3" cy="131.5" rx="2.8" ry="2.6" fill="#dadada"/>
<ellipse cx="1239.6" cy="138.4" rx="2.8" ry="2.4" fill="#dadada"/>
<ellipse cx="1236.4" cy="141.7" rx="2.7" ry="2.2" fill="#dadada"/>
<ellipse cx="1229.0" cy="129.1" rx="2.0" ry="1.8" fill="#dadada"/>
<ellipse cx="1168.3" cy="281.7" rx="12.7" ry="11.0" fill="#5e5e5e"/>
<ellipse cx="1168.3" cy="281.7" rx="7.5" ry="6.3" fill="#808080"/>
<ellipse cx="1110.8" cy="290.0" rx="11.0" ry="15.3" fill="#5a5a5a" transform="rotate(-20 1110.8 290.0)"/>
<ellipse cx="1072.5" cy="256.7" rx="17.7" ry="9.2" fill="#4e4e4e" transform="rotate(8 1072.5 256.7)"/>
<ellipse cx="1068.3" cy="256.7" rx="10.0" ry="5.0" fill="#6a6a6a" transform="rotate(8 1068.3 256.7)"/>
<ellipse cx="1060.8" cy="231.7" rx="19.3" ry="13.3" fill="#b0b0b0" stroke="#7a7a7a" stroke-width="2.0"/>
<ellipse cx="1060.8" cy="231.7" rx="10.9" ry="7.6" fill="#b8b8b8" stroke="#8a8a8a" stroke-width="1.5"/>
<ellipse cx="1178.3" cy="154.2" rx="8.3" ry="6.3" fill="#d6d6d6"/>
<ellipse cx="1218.3" cy="161.7" rx="7.0" ry="2.5" fill="#d0d0d0"/>
<ellipse cx="1093.3" cy="121.7" rx="4.2" ry="3.0" fill="#d8d8d8"/>
<ellipse cx="1017.5" cy="230.8" rx="2.3" ry="2.3" fill="#f0f0f0"/>
<path d="M998.0 240.0 L1001.7 241.7 L1002.5 254.2 L998.0 255.0Z" fill="#f5f5f5"/>
</g>
<rect x="997.6" y="100.0" width="247.0" height="228.0" filter="url(#grain)" style="mix-blend-mode:soft-light" opacity="0.4"/>
</g>
<clipPath id="cp4"><rect x="452.4" y="342.0" width="247.0" height="228.0"/></clipPath>
<g clip-path="url(#cp4)">
<rect x="452.4" y="342.0" width="247.0" height="228.0" fill="#d6d6d6"/>
<g filter="url(#soft)">
<ellipse cx="685.0" cy="390.3" rx="10.0" ry="10.0" fill="#7a7a7a"/>
<ellipse cx="588.3" cy="537.0" rx="12.0" ry="9.2" fill="#6e6e6e"/>
<ellipse cx="680.0" cy="508.7" rx="11.7" ry="10.0" fill="#9a9a9a" fill-opacity="0.7"/>
<ellipse cx="458.3" cy="364.5" rx="12.7" ry="18.5" fill="#a6a6a6" stroke="#303030" stroke-width="6.3" transform="rotate(-15 458.3 364.5)"/>
<ellipse cx="496.7" cy="367.0" rx="20.4" ry="22.1" fill="#a6a6a6" stroke="#303030" stroke-width="6.5" transform="rotate(-25 496.7 367.0)"/>
<ellipse cx="530.0" cy="352.0" rx="17.3" ry="9.3" fill="#a6a6a6" stroke="#303030" stroke-width="5.4"/>
<ellipse cx="575.0" cy="352.8" rx="22.1" ry="13.8" fill="#a6a6a6" stroke="#303030" stroke-width="6.5"/>
<ellipse cx="623.3" cy="361.2" rx="19.3" ry="13.3" fill="#a6a6a6" stroke="#303030" stroke-width="5.4" transform="rotate(15 623.3 361.2)"/>
<ellipse cx="681.7" cy="350.3" rx="27.9" ry="14.6" fill="#a6a6a6" stroke="#303030" stroke-width="7.6" transform="rotate(32 681.7 350.3)"/>
<ellipse cx="541.7" cy="382.8" rx="16.1" ry="17.1" fill="#a6a6a6" stroke="#303030" stroke-width="6.5" transform="rotate(-20 541.7 382.8)"/>
<ellipse cx="575.0" cy="391.2" rx="11.7" ry="9.7" fill="#a6a6a6" stroke="#303030" stroke-width="4.0" transform="rotate(20 575.0 391.2)"/>
<ellipse cx="599.2" cy="381.2" rx="16.6" ry="12.3" fill="#a6a6a6" stroke="#303030" stroke-width="5.4" transform="rotate(25 599.2 381.2)"/>
<ellipse cx="651.7" cy="390.3" rx="19.3" ry="13.3" fill="#a6a6a6" stroke="#303030" stroke-width="5.4" transform="rotate(10 651.7 390.3)"/>
<ellipse cx="624.2" cy="397.8" rx="7.1" ry="5.4" fill="#a6a6a6" stroke="#303030" stroke-width="2.5"/>
<ellipse cx="456.7" cy="402.0" rx="6.5" ry="12.6" fill="#a6a6a6" stroke="#303030" stroke-width="5.4"/>
<ellipse cx="493.3" cy="412.0" rx="20.4" ry="18.4" fill="#a6a6a6" stroke="#303030" stroke-width="6.5" transform="rotate(30 493.3 412.0)"/>
<ellipse cx="523.3" cy="402.8" rx="8.8" ry="8.8" fill="#a6a6a6" stroke="#303030" stroke-width="4.5"/>
<ellipse cx="546.7" cy="419.5" rx="8.2" ry="8.2" fill="#a6a6a6" stroke="#303030" stroke-width="3.6"/>
<ellipse cx="567.5" cy="410.3" rx="10.9" ry="5.6" fill="#a6a6a6" stroke="#303030" stroke-width="2.2" transform="rotate(10 567.5 410.3)"/>
<ellipse cx="601.7" cy="415.3" rx="16.6" ry="14.0" fill="#a6a6a6" stroke="#303030" stroke-width="5.4"/>
<ellipse cx="646.7" cy="424.5" rx="22.1" ry="17.1" fill="#a6a6a6" stroke="#303030" stroke-width="6.5" transform="rotate(10 646.7 424.5)"/>
<ellipse cx="684.2" cy="420.3" rx="13.5" ry="11.8" fill="#a6a6a6" stroke="#303030" stroke-width="5.0" transform="rotate(20 684.2 420.3)"/>
<ellipse cx="470.0" cy="433.7" rx="20.4" ry="13.4" fill="#a6a6a6" stroke="#303030" stroke-width="6.5" transform="rotate(15 470.0 433.7)"/>
<ellipse cx="540.0" cy="456.2" rx="30.6" ry="21.4" fill="#a6a6a6" stroke="#303030" stroke-width="7.2" transform="rotate(32 540.0 456.2)"/>
<ellipse cx="575.0" cy="438.7" rx="16.6" ry="14.0" fill="#a6a6a6" stroke="#303030" stroke-width="5.4" transform="rotate(20 575.0 438.7)"/>
<ellipse cx="619.2" cy="456.2" rx="22.3" ry="16.9" fill="#a6a6a6" stroke="#303030" stroke-width="6.1" transform="rotate(15 619.2 456.2)"/>
<ellipse cx="662.5" cy="463.7" rx="16.0" ry="14.0" fill="#a6a6a6" stroke="#303030" stroke-width="5.4"/>
<ellipse cx="695.0" cy="453.7" rx="11.5" ry="16.0" fill="#a6a6a6" stroke="#303030" stroke-width="5.4"/>
<ellipse cx="460.8" cy="470.3" rx="15.1" ry="20.1" fill="#a6a6a6" stroke="#303030" stroke-width="7.2" transform="rotate(-15 460.8 470.3)"/>
<ellipse cx="496.7" cy="470.3" rx="19.4" ry="16.1" fill="#a6a6a6" stroke="#303030" stroke-width="6.5" transform="rotate(20 496.7 470.3)"/>
<ellipse cx="597.5" cy="485.3" rx="19.8" ry="18.8" fill="#a6a6a6" stroke="#303030" stroke-width="5.8" transform="rotate(30 597.5 485.3)"/>
<ellipse cx="686.7" cy="490.3" rx="13.6" ry="11.3" fill="#a6a6a6" stroke="#303030" stroke-width="6.1"/>
<ellipse cx="646.7" cy="503.7" rx="21.1" ry="18.4" fill="#a6a6a6" stroke="#303030" stroke-width="6.5" transform="rotate(15 646.7 503.7)"/>
<ellipse cx="536.7" cy="507.0" rx="22.8" ry="18.4" fill="#a6a6a6" stroke="#303030" stroke-width="6.5" transform="rotate(25 536.7 507.0)"/>
<ellipse cx="571.7" cy="503.7" rx="13.8" ry="13.1" fill="#a6a6a6" stroke="#303030" stroke-width="4.5" transform="rotate(35 571.7 503.7)"/>
<ellipse cx="488.3" cy="521.2" rx="20.1" ry="19.1" fill="#a6a6a6" stroke="#303030" stroke-width="7.2"/>
<ellipse cx="455.8" cy="517.0" rx="4.3" ry="14.0" fill="#a6a6a6" stroke="#303030" stroke-width="5.4"/>
<ellipse cx="595.8" cy="518.7" rx="5.6" ry="4.8" fill="#a6a6a6" stroke="#303030" stroke-width="2.2"/>
<ellipse cx="570.0" cy="530.3" rx="5.6" ry="3.9" fill="#a6a6a6" stroke="#303030" stroke-width="2.2"/>
<ellipse cx="626.7" cy="534.5" rx="20.7" ry="17.0" fill="#a6a6a6" stroke="#303030" stroke-width="5.9" transform="rotate(20 626.7 534.5)"/>
<ellipse cx="525.8" cy="541.2" rx="14.1" ry="12.5" fill="#a6a6a6" stroke="#303030" stroke-width="5.0" transform="rotate(20 525.8 541.2)"/>
<ellipse cx="671.7" cy="542.0" rx="16.1" ry="10.8" fill="#a6a6a6" stroke="#303030" stroke-width="5.0" transform="rotate(15 671.7 542.0)"/>
<ellipse cx="690.0" cy="528.7" rx="10.4" ry="7.9" fill="#a6a6a6" stroke="#303030" stroke-width="2.5" transform="rotate(20 690.0 528.7)"/>
<ellipse cx="679.2" cy="513.7" rx="6.8" ry="2.6" fill="#a6a6a6" stroke="#303030" stroke-width="1.4" transform="rotate(20 679.2 513.7)"/>
<ellipse cx="465.8" cy="548.7" rx="10.7" ry="5.7" fill="#a6a6a6" stroke="#303030" stroke-width="4.0" transform="rotate(-20 465.8 548.7)"/>
<ellipse cx="560.0" cy="555.3" rx="15.7" ry="13.7" fill="#a6a6a6" stroke="#303030" stroke-width="5.9"/>
<ellipse cx="500.0" cy="562.0" rx="26.7" ry="10.6" fill="#a6a6a6" stroke="#303030" stroke-width="7.2"/>
<ellipse cx="586.7" cy="550.3" rx="7.4" ry="3.3" fill="#a6a6a6" stroke="#303030" stroke-width="1.8" transform="rotate(20 586.7 550.3)"/>
<ellipse cx="610.0" cy="553.7" rx="8.7" ry="6.2" fill="#a6a6a6" stroke="#303030" stroke-width="2.5" transform="rotate(20 610.0 553.7)"/>
<ellipse cx="595.8" cy="566.2" rx="8.4" ry="5.0" fill="#a6a6a6" stroke="#303030" stroke-width="3.2"/>
<ellipse cx="642.5" cy="566.2" rx="16.1" ry="6.8" fill="#a6a6a6" stroke="#303030" stroke-width="5.0"/>
<ellipse cx="681.7" cy="566.2" rx="16.3" ry="6.0" fill="#a6a6a6" stroke="#303030" stroke-width="4.7"/>
<ellipse cx="458.3" cy="565.3" rx="8.2" ry="4.9" fill="#a6a6a6" stroke="#303030" stroke-width="3.6"/>
<ellipse cx="496.7" cy="367.8" rx="12.5" ry="14.2" fill="#8a8a8a" stroke="#444" stroke-width="2.3" transform="rotate(-25 496.7 367.8)"/>
<ellipse cx="496.7" cy="367.8" rx="15.8" ry="17.5" fill="#c8c8c8" fill-opacity="0.0001" transform="rotate(-25 496.7 367.8)"/>
<ellipse cx="575.0" cy="352.8" rx="15.3" ry="8.7" fill="#9a9a9a" stroke="#c4c4c4" stroke-width="2.7"/>
<ellipse cx="523.3" cy="402.8" rx="4.8" ry="4.8" fill="#8c8c8c" stroke="#303030" stroke-width="2.0"/>
<ellipse cx="500.0" cy="562.8" rx="20.0" ry="6.7" fill="#444"/>
</g>
<rect x="452.4" y="342.0" width="247.0" height="228.0" filter="url(#grain)" style="mix-blend-mode:soft-light" opacity="0.4"/>
</g>
<clipPath id="cp5"><rect x="727.0" y="342.0" width="247.0" height="228.0"/></clipPath>
<g clip-path="url(#cp5)">
<rect x="727.0" y="342.0" width="247.0" height="228.0" fill="#848484"/>
<g filter="url(#soft)">
<path d="M727.5 422.0 L765.0 432.0 L785.0 425.3" fill="none" stroke="#b4b4b4" stroke-width="1.2" stroke-linecap="round" stroke-linejoin="round"/>
<path d="M753.3 500.3 L748.3 520.3 L735.0 532.0" fill="none" stroke="#b4b4b4" stroke-width="1.2" stroke-linecap="round" stroke-linejoin="round"/>
<path d="M803.3 395.3 L831.7 387.0 L856.7 405.3" fill="none" stroke="#b4b4b4" stroke-width="1.2" stroke-linecap="round" stroke-linejoin="round"/>
<path d="M821.7 475.3 L818.3 498.7 L805.0 508.7" fill="none" stroke="#b4b4b4" stroke-width="1.2" stroke-linecap="round" stroke-linejoin="round"/>
<path d="M923.3 365.3 L930.0 402.0 L965.0 432.0" fill="none" stroke="#b4b4b4" stroke-width="1.2" stroke-linecap="round" stroke-linejoin="round"/>
<path d="M870.0 547.0 L861.7 528.7" fill="none" stroke="#b4b4b4" stroke-width="1.2" stroke-linecap="round" stroke-linejoin="round"/>
<path d="M781.7 348.7 L781.7 382.0 L801.7 395.3" fill="none" stroke="#b4b4b4" stroke-width="1.2" stroke-linecap="round" stroke-linejoin="round"/>
<path d="M955.0 375.3 L974.2 387.0" fill="none" stroke="#b4b4b4" stroke-width="1.2" stroke-linecap="round" stroke-linejoin="round"/>
<ellipse cx="800.0" cy="487.0" rx="22.5" ry="15.0" fill="#7a7a7a"/>
<ellipse cx="786.7" cy="560.3" rx="18.7" ry="10.3" fill="#5e5e5e"/>
<ellipse cx="963.3" cy="355.3" rx="10.3" ry="13.7" fill="#4a4a4a"/>
<ellipse cx="961.7" cy="473.7" rx="13.7" ry="10.0" fill="#666"/>
<ellipse cx="948.3" cy="455.3" rx="12.0" ry="13.7" fill="#5e5e5e"/>
<ellipse cx="845.0" cy="420.3" rx="18.7" ry="16.7" fill="#8e8e8e"/>
<ellipse cx="798.3" cy="415.3" rx="16.7" ry="11.7" fill="#747474"/>
<ellipse cx="945.0" cy="407.0" rx="15.0" ry="15.0" fill="#8a8a8a"/>
<ellipse cx="936.7" cy="370.3" rx="11.7" ry="6.7" fill="#8c8c8c"/>
<ellipse cx="848.3" cy="490.3" rx="18.3" ry="20.0" fill="#7c7c7c"/>
<ellipse cx="890.0" cy="508.7" rx="30.0" ry="7.5" fill="#707070" transform="rotate(-8 890.0 508.7)"/>
<ellipse cx="848.3" cy="540.3" rx="23.3" ry="10.0" fill="#7e7e7e"/>
<ellipse cx="735.0" cy="515.3" rx="10.0" ry="10.0" fill="#8a8a8a"/>
<ellipse cx="821.7" cy="375.3" rx="11.7" ry="10.0" fill="#7a7a7a"/>
<ellipse cx="755.0" cy="418.7" rx="20.0" ry="6.7" fill="#7c7c7c"/>
<ellipse cx="898.3" cy="562.0" rx="26.7" ry="6.7" fill="#6a6a6a"/>
<ellipse cx="740.0" cy="357.0" rx="13.3" ry="10.0" fill="#707070"/>
<ellipse cx="761.7" cy="376.2" rx="21.0" ry="14.0" fill="#626262" stroke="#444" stroke-width="2.0" transform="rotate(10 761.7 376.2)"/>
<ellipse cx="891.7" cy="373.7" rx="27.0" ry="15.3" fill="#5e5e5e" transform="rotate(-10 891.7 373.7)"/>
<ellipse cx="894.2" cy="389.5" rx="16.7" ry="6.7" fill="#4e4e4e"/>
<ellipse cx="886.7" cy="372.0" rx="5.0" ry="3.7" fill="#2a2a2a"/>
<path d="M870.0 380.3 L913.3 372.0" fill="none" stroke="#3c3c3c" stroke-width="1.2" stroke-linecap="round" stroke-linejoin="round"/>
<ellipse cx="910.0" cy="418.7" rx="32.0" ry="12.7" fill="#505050" transform="rotate(5 910.0 418.7)"/>
<ellipse cx="888.3" cy="418.7" rx="10.0" ry="8.3" fill="#3c3c3c"/>
<ellipse cx="935.0" cy="428.7" rx="11.7" ry="5.0" fill="#5a5a5a"/>
<path d="M825.0 455.3C832.2 449.8 858.6 441.4 865.0 440.3C871.4 439.2 867.2 444.5 863.3 448.7C859.4 452.8 847.2 460.3 841.7 465.3C836.1 470.3 833.3 477.3 830.0 478.7C826.7 480.1 822.5 477.6 821.7 473.7C820.8 469.8 817.8 460.9 825.0 455.3Z" fill="#5a5a5a" stroke="#333" stroke-width="1.3" stroke-linejoin="round"/>
<ellipse cx="943.3" cy="547.0" rx="28.7" ry="17.7" fill="#646464" stroke="#555" stroke-width="2.0"/>
<ellipse cx="943.3" cy="538.7" rx="10.3" ry="6.0" fill="#333"/>
<ellipse cx="776.7" cy="512.8" rx="21.2" ry="11.9" fill="#6e6e6e" stroke="#444" stroke-width="1.5"/>
<ellipse cx="764.2" cy="517.8" rx="3.0" ry="3.0" fill="#1e1e1e"/>
<ellipse cx="825.0" cy="522.0" rx="19.6" ry="11.2" fill="#6a6a6a" stroke="#4a4a4a" stroke-width="1.5"/>
<ellipse cx="781.7" cy="448.7" rx="21.2" ry="7.6" fill="#6a6a6a" stroke="#333" stroke-width="1.5" transform="rotate(5 781.7 448.7)"/>
<ellipse cx="786.7" cy="400.3" rx="11.0" ry="7.7" fill="#a0a0a0" stroke="#666" stroke-width="1.3"/>
<ellipse cx="803.3" cy="365.3" rx="14.7" ry="14.0" fill="#a8a8a8" stroke="#3a3a3a" stroke-width="4.0"/>
<ellipse cx="859.2" cy="360.3" rx="19.2" ry="14.0" fill="#c0c0c0" stroke="#3a3a3a" stroke-width="3.7" transform="rotate(-15 859.2 360.3)"/>
<ellipse cx="739.2" cy="398.7" rx="11.8" ry="8.5" fill="#aaaaaa" stroke="#3a3a3a" stroke-width="3.0" transform="rotate(20 739.2 398.7)"/>
<ellipse cx="940.8" cy="384.5" rx="11.0" ry="5.0" fill="#c0c0c0" stroke="#3a3a3a" stroke-width="2.0"/>
<ellipse cx="790.0" cy="434.5" rx="8.3" ry="5.0" fill="#999" stroke="#3a3a3a" stroke-width="2.0"/>
<ellipse cx="740.0" cy="442.0" rx="6.8" ry="3.8" fill="#999" stroke="#3a3a3a" stroke-width="1.7"/>
<ellipse cx="745.0" cy="472.0" rx="13.0" ry="8.0" fill="#c0c0c0" stroke="#3a3a3a" stroke-width="2.7"/>
<ellipse cx="794.2" cy="463.7" rx="8.8" ry="6.5" fill="#aaa" stroke="#3a3a3a" stroke-width="2.3"/>
<ellipse cx="772.5" cy="470.3" rx="5.0" ry="3.3" fill="#aaa" stroke="#3a3a3a" stroke-width="1.7"/>
<ellipse cx="763.3" cy="488.7" rx="7.3" ry="8.3" fill="#8a8a8a" stroke="#3a3a3a" stroke-width="2.0"/>
<ellipse cx="752.5" cy="547.0" rx="19.2" ry="8.0" fill="#d0d0d0" stroke="#3a3a3a" stroke-width="2.3"/>
<ellipse cx="790.0" cy="534.5" rx="14.7" ry="5.5" fill="#b0b0b0" stroke="#3a3a3a" stroke-width="2.3"/>
<ellipse cx="838.3" cy="561.2" rx="18.7" ry="8.3" fill="#c8c8c8" stroke="#3a3a3a" stroke-width="3.3" transform="rotate(-10 838.3 561.2)"/>
<ellipse cx="966.7" cy="498.7" rx="10.8" ry="8.0" fill="#d0d0d0" stroke="#3a3a3a" stroke-width="2.3"/>
<ellipse cx="895.0" cy="527.8" rx="10.0" ry="5.7" fill="#808080" stroke="#3a3a3a" stroke-width="2.0" transform="rotate(-20 895.0 527.8)"/>
<ellipse cx="825.0" cy="423.7" rx="5.9" ry="5.9" fill="#a0a0a0" stroke="#3a3a3a" stroke-width="1.5"/>
<ellipse cx="915.0" cy="453.7" rx="20.8" ry="18.7" fill="#b0b0b0"/>
<path d="M856.7 405.3 L875.0 432.0 L883.3 440.3" fill="none" stroke="#ececec" stroke-width="3.7" stroke-linecap="round" stroke-linejoin="round"/>
<ellipse cx="903.3" cy="445.3" rx="8.3" ry="15.8" fill="#e8e8e8" transform="rotate(35 903.3 445.3)"/>
<ellipse cx="881.7" cy="462.8" rx="27.2" ry="20.2" fill="#c4c4c4" stroke="#8a8a8a" stroke-width="1.7" transform="rotate(-20 881.7 462.8)"/>
<ellipse cx="881.7" cy="462.8" rx="21.0" ry="15.2" fill="#bcbcbc" stroke="#909090" stroke-width="1.3" transform="rotate(-20 881.7 462.8)"/>
<ellipse cx="881.7" cy="462.8" rx="14.4" ry="9.8" fill="#b4b4b4" stroke="#8a8a8a" stroke-width="1.2" transform="rotate(-20 881.7 462.8)"/>
<path d="M860.0 482.0 L890.0 482.0 L915.0 470.3" fill="none" stroke="#e0e0e0" stroke-width="2.0" stroke-linecap="round" stroke-linejoin="round"/>
<ellipse cx="873.3" cy="497.0" rx="13.7" ry="8.3" fill="#d8d8d8"/>
<ellipse cx="923.3" cy="483.7" rx="12.7" ry="8.3" fill="#d2d2d2" transform="rotate(-30 923.3 483.7)"/>
<ellipse cx="898.3" cy="488.7" rx="5.8" ry="5.8" fill="#e4e4e4" stroke="#444" stroke-width="1.7"/>
<ellipse cx="908.3" cy="496.2" rx="10.3" ry="4.7" fill="#2e2e2e"/>
<ellipse cx="918.3" cy="515.3" rx="6.7" ry="6.0" fill="#e6e6e6"/>
<ellipse cx="936.7" cy="512.8" rx="7.7" ry="6.7" fill="#e6e6e6"/>
<ellipse cx="926.7" cy="522.0" rx="5.0" ry="3.3" fill="#e0e0e0"/>
<ellipse cx="845.0" cy="477.0" rx="3.7" ry="3.7" fill="#c0c0c0"/>
<path d="M870.0 547.0 L898.3 550.3 L923.3 565.3 L948.3 570.3" fill="none" stroke="#ececec" stroke-width="4.0" stroke-linecap="round" stroke-linejoin="round"/>
<ellipse cx="876.7" cy="553.7" rx="3.7" ry="3.7" fill="#e0e0e0"/>
<ellipse cx="903.3" cy="347.0" rx="6.7" ry="5.0" fill="#d0d0d0"/>
</g>
<rect x="727.0" y="342.0" width="247.0" height="228.0" filter="url(#grain)" style="mix-blend-mode:soft-light" opacity="0.4"/>
</g>
<clipPath id="cp6"><rect x="997.6" y="342.0" width="247.0" height="228.0"/></clipPath>
<g clip-path="url(#cp6)">
<rect x="997.6" y="342.0" width="247.0" height="228.0" fill="#7b7b7b"/>
<g filter="url(#soft)">
<ellipse cx="1201.7" cy="370.3" rx="43.3" ry="28.3" fill="#727272"/>
<ellipse cx="1226.7" cy="398.7" rx="16.7" ry="20.0" fill="#696969"/>
<ellipse cx="1046.7" cy="363.7" rx="17.0" ry="15.3" fill="#6a6a6a"/>
<ellipse cx="1080.0" cy="367.0" rx="11.7" ry="10.0" fill="#5e5e5e"/>
<ellipse cx="1083.3" cy="437.0" rx="6.7" ry="5.0" fill="#4a4a4a"/>
<ellipse cx="1206.7" cy="523.7" rx="12.0" ry="15.3" fill="#4e4e4e"/>
<ellipse cx="1055.0" cy="462.0" rx="13.7" ry="8.3" fill="#3e3e3e" transform="rotate(20 1055.0 462.0)"/>
<ellipse cx="1021.7" cy="377.0" rx="10.3" ry="6.7" fill="#c0c0c0" transform="rotate(20 1021.7 377.0)"/>
<ellipse cx="1040.0" cy="537.0" rx="22.5" ry="8.3" fill="#b0b0b0" transform="rotate(10 1040.0 537.0)"/>
<ellipse cx="1131.7" cy="375.3" rx="16.7" ry="13.3" fill="#808080"/>
<ellipse cx="1010.0" cy="540.3" rx="13.3" ry="18.3" fill="#858585"/>
<ellipse cx="1026.7" cy="557.0" rx="18.3" ry="8.3" fill="#5e5e5e"/>
<ellipse cx="1151.7" cy="515.3" rx="10.0" ry="8.3" fill="#8c8c8c"/>
<ellipse cx="1145.0" cy="497.0" rx="9.2" ry="8.3" fill="#909090"/>
<ellipse cx="1068.3" cy="478.7" rx="20.0" ry="6.7" fill="#858585"/>
<ellipse cx="1193.3" cy="468.7" rx="16.7" ry="10.0" fill="#858585"/>
<ellipse cx="1240.0" cy="483.7" rx="6.7" ry="2.5" fill="#e0e0e0"/>
<ellipse cx="1001.7" cy="425.3" rx="4.2" ry="4.2" fill="#b8b8b8"/>
<ellipse cx="1101.7" cy="405.3" rx="5.0" ry="6.7" fill="#a8a8a8"/>
<ellipse cx="1168.3" cy="373.7" rx="6.7" ry="8.3" fill="#6a6a6a"/>
<ellipse cx="1071.7" cy="565.3" rx="10.0" ry="6.7" fill="#5a5a5a"/>
<ellipse cx="1105.0" cy="379.5" rx="8.6" ry="11.9" fill="#686868" stroke="#444" stroke-width="1.5" transform="rotate(15 1105.0 379.5)"/>
<path d="M1088.3 475.3 L1101.7 498.7 L1110.0 523.7 L1118.3 545.3" fill="none" stroke="#c0c0c0" stroke-width="2.3" stroke-linecap="round" stroke-linejoin="round"/>
<path d="M1135.0 473.7 L1131.7 498.7" fill="none" stroke="#b0b0b0" stroke-width="1.3" stroke-linecap="round" stroke-linejoin="round"/>
<path d="M1193.3 565.3 L1218.3 553.7 L1244.2 548.7" fill="none" stroke="#b8b8b8" stroke-width="1.3" stroke-linecap="round" stroke-linejoin="round"/>
<ellipse cx="1084.2" cy="410.3" rx="15.3" ry="12.7" fill="#c8c8c8"/>
<ellipse cx="1080.8" cy="403.7" rx="4.7" ry="4.7" fill="#a0a0a0"/>
<ellipse cx="1135.8" cy="402.8" rx="12.3" ry="9.7" fill="#d2d2d2" transform="rotate(20 1135.8 402.8)"/>
<ellipse cx="1130.0" cy="432.0" rx="23.3" ry="20.0" fill="#9a9a9a" stroke="#b8b8b8" stroke-width="1.7" transform="rotate(10 1130.0 432.0)"/>
<ellipse cx="1129.2" cy="432.0" rx="20.0" ry="16.7" fill="#a6a6a6" stroke="#ededed" stroke-width="3.3" transform="rotate(10 1129.2 432.0)"/>
<ellipse cx="1140.0" cy="433.7" rx="19.2" ry="16.7" fill="#a6a6a6" transform="rotate(10 1140.0 433.7)"/>
<ellipse cx="1138.3" cy="433.7" rx="8.0" ry="7.0" fill="#aaaaaa" stroke="#c8c8c8" stroke-width="1.3"/>
<ellipse cx="1125.0" cy="430.3" rx="5.8" ry="6.7" fill="#7a7a7a"/>
<ellipse cx="1162.5" cy="455.3" rx="5.5" ry="5.0" fill="#aaa" stroke="#d0d0d0" stroke-width="1.7"/>
<ellipse cx="1175.0" cy="502.0" rx="15.0" ry="14.3" fill="#a8a8a8" stroke="#d2d2d2" stroke-width="2.0"/>
<ellipse cx="1094.2" cy="533.7" rx="14.5" ry="16.2" fill="#989898" stroke="#c2c2c2" stroke-width="1.7"/>
<ellipse cx="1095.0" cy="532.0" rx="6.0" ry="5.0" fill="#c8c8c8"/>
<ellipse cx="1128.3" cy="557.0" rx="9.3" ry="9.3" fill="#aaa" stroke="#d8d8d8" stroke-width="2.0"/>
<ellipse cx="1113.3" cy="547.0" rx="5.0" ry="5.0" fill="#c0c0c0"/>
<ellipse cx="1015.8" cy="402.0" rx="16.3" ry="13.7" fill="#9a9a9a" stroke="#2e2e2e" stroke-width="2.7" transform="rotate(15 1015.8 402.0)"/>
<ellipse cx="1090.0" cy="352.0" rx="8.9" ry="8.1" fill="#a2a2a2" stroke="#2e2e2e" stroke-width="2.2"/>
<ellipse cx="1051.7" cy="346.2" rx="7.5" ry="4.2" fill="#888" stroke="#2e2e2e" stroke-width="1.7"/>
<ellipse cx="1080.0" cy="387.0" rx="8.2" ry="5.4" fill="#999" stroke="#2e2e2e" stroke-width="1.8"/>
<ellipse cx="1164.2" cy="407.0" rx="8.3" ry="5.7" fill="#999" stroke="#2e2e2e" stroke-width="2.0"/>
<ellipse cx="1234.2" cy="387.0" rx="9.2" ry="7.2" fill="#999" stroke="#2e2e2e" stroke-width="1.7" transform="rotate(10 1234.2 387.0)"/>
<ellipse cx="1181.7" cy="433.7" rx="21.7" ry="20.0" fill="#8a8a8a" stroke="#2e2e2e" stroke-width="2.0" transform="rotate(20 1181.7 433.7)"/>
<ellipse cx="1183.3" cy="433.7" rx="9.0" ry="8.2" fill="#929292" stroke="#2e2e2e" stroke-width="2.0"/>
<ellipse cx="1228.3" cy="442.0" rx="6.2" ry="5.6" fill="#a0a0a0" stroke="#2e2e2e" stroke-width="1.5"/>
<ellipse cx="1024.2" cy="446.2" rx="9.3" ry="7.0" fill="#a0a0a0" stroke="#2e2e2e" stroke-width="2.0"/>
<ellipse cx="1061.7" cy="441.2" rx="7.3" ry="6.5" fill="#a0a0a0" stroke="#2e2e2e" stroke-width="2.0"/>
<ellipse cx="1107.5" cy="457.8" rx="11.2" ry="7.7" fill="#a8a8a8" stroke="#2e2e2e" stroke-width="3.0" transform="rotate(25 1107.5 457.8)"/>
<ellipse cx="1027.5" cy="471.2" rx="11.0" ry="7.7" fill="#909090" stroke="#2e2e2e" stroke-width="1.3" transform="rotate(15 1027.5 471.2)"/>
<ellipse cx="1027.5" cy="471.2" rx="7.0" ry="4.5" fill="#9a9a9a" stroke="#2e2e2e" stroke-width="1.0" transform="rotate(15 1027.5 471.2)"/>
<ellipse cx="1149.2" cy="480.3" rx="7.6" ry="4.8" fill="#999" stroke="#2e2e2e" stroke-width="2.2"/>
<ellipse cx="1214.2" cy="477.0" rx="8.2" ry="4.8" fill="#8a8a8a" stroke="#2e2e2e" stroke-width="2.0" transform="rotate(30 1214.2 477.0)"/>
<ellipse cx="1232.5" cy="471.2" rx="4.5" ry="4.2" fill="#888" stroke="#2e2e2e" stroke-width="1.7"/>
<ellipse cx="1005.0" cy="485.3" rx="10.5" ry="7.2" fill="#a0a0a0" stroke="#2e2e2e" stroke-width="2.3" transform="rotate(20 1005.0 485.3)"/>
<ellipse cx="1045.8" cy="493.7" rx="12.7" ry="8.3" fill="#a8a8a8" stroke="#2e2e2e" stroke-width="3.3" transform="rotate(15 1045.8 493.7)"/>
<ellipse cx="1120.0" cy="493.7" rx="9.0" ry="8.7" fill="#a8a8a8" stroke="#2e2e2e" stroke-width="2.7"/>
<ellipse cx="1076.7" cy="505.3" rx="10.2" ry="9.3" fill="#a8a8a8" stroke="#2e2e2e" stroke-width="3.0" transform="rotate(25 1076.7 505.3)"/>
<ellipse cx="1215.8" cy="506.2" rx="6.2" ry="8.3" fill="#a0a0a0" stroke="#2e2e2e" stroke-width="1.7" transform="rotate(-20 1215.8 506.2)"/>
<ellipse cx="1028.3" cy="513.7" rx="12.7" ry="13.7" fill="#a8a8a8" stroke="#2e2e2e" stroke-width="3.3" transform="rotate(-15 1028.3 513.7)"/>
<ellipse cx="1058.3" cy="525.3" rx="11.0" ry="11.0" fill="#a8a8a8" stroke="#2e2e2e" stroke-width="3.3" transform="rotate(20 1058.3 525.3)"/>
<ellipse cx="1130.0" cy="532.0" rx="7.2" ry="8.8" fill="#888" stroke="#2e2e2e" stroke-width="2.3"/>
<ellipse cx="1161.7" cy="536.2" rx="13.9" ry="13.9" fill="#a0a0a0" stroke="#2e2e2e" stroke-width="4.2"/>
<ellipse cx="1231.7" cy="525.3" rx="6.8" ry="9.7" fill="#a0a0a0" stroke="#2e2e2e" stroke-width="2.3" transform="rotate(-10 1231.7 525.3)"/>
<ellipse cx="1197.5" cy="546.2" rx="8.8" ry="7.8" fill="#a0a0a0" stroke="#2e2e2e" stroke-width="1.7"/>
<ellipse cx="1233.3" cy="564.5" rx="13.5" ry="12.5" fill="#a0a0a0" stroke="#2e2e2e" stroke-width="3.7"/>
<ellipse cx="1175.0" cy="566.2" rx="8.8" ry="7.2" fill="#a0a0a0" stroke="#2e2e2e" stroke-width="2.3"/>
<ellipse cx="1098.3" cy="567.8" rx="7.2" ry="6.3" fill="#a0a0a0" stroke="#2e2e2e" stroke-width="2.3"/>
<ellipse cx="1052.5" cy="567.8" rx="10.0" ry="6.5" fill="#999" stroke="#2e2e2e" stroke-width="2.0"/>
<ellipse cx="1010.0" cy="569.5" rx="8.3" ry="5.7" fill="#999" stroke="#2e2e2e" stroke-width="2.0"/>
<ellipse cx="1205.0" cy="569.5" rx="7.3" ry="2.3" fill="#999" stroke="#2e2e2e" stroke-width="2.0"/>
</g>
<rect x="997.6" y="342.0" width="247.0" height="228.0" filter="url(#grain)" style="mix-blend-mode:soft-light" opacity="0.4"/>
</g>
<clipPath id="cp7"><rect x="452.4" y="587.0" width="247.0" height="225.5"/></clipPath>
<g clip-path="url(#cp7)">
<rect x="452.4" y="587.0" width="247.0" height="225.5" fill="#d2d2d2"/>
<g filter="url(#soft)">
<ellipse cx="681.7" cy="741.7" rx="13.3" ry="41.7" fill="#dcdcdc" transform="rotate(10 681.7 741.7)"/>
<ellipse cx="655.0" cy="671.7" rx="22.5" ry="6.7" fill="#858585" transform="rotate(50 655.0 671.7)"/>
<ellipse cx="677.5" cy="775.0" rx="6.7" ry="15.3" fill="#7a7a7a" transform="rotate(15 677.5 775.0)"/>
<ellipse cx="630.8" cy="698.3" rx="7.7" ry="7.7" fill="#9a9a9a"/>
<ellipse cx="517.5" cy="768.3" rx="7.7" ry="9.3" fill="#9c9c9c"/>
<ellipse cx="461.7" cy="625.0" rx="8.3" ry="10.0" fill="#e2e2e2"/>
<ellipse cx="463.3" cy="641.7" rx="3.0" ry="3.0" fill="#222"/>
<ellipse cx="509.2" cy="593.3" rx="12.3" ry="10.0" fill="#bdbdbd" stroke="#8a8a8a" stroke-width="2.0"/>
<ellipse cx="645.0" cy="685.0" rx="11.0" ry="9.3" fill="#b4b4b4" stroke="#8a8a8a" stroke-width="2.0"/>
<ellipse cx="688.3" cy="721.7" rx="14.0" ry="19.0" fill="#bdbdbd" stroke="#909090" stroke-width="2.0"/>
<ellipse cx="457.5" cy="593.3" rx="5.0" ry="4.2" fill="#bbb" stroke="#323232" stroke-width="3.3"/>
<ellipse cx="479.2" cy="590.8" rx="8.2" ry="4.8" fill="#bbb" stroke="#323232" stroke-width="3.7"/>
<ellipse cx="509.2" cy="593.3" rx="8.3" ry="6.7" fill="#999" stroke="#323232" stroke-width="3.3"/>
<ellipse cx="547.5" cy="606.7" rx="19.2" ry="18.2" fill="#c2c2c2" stroke="#323232" stroke-width="7.0"/>
<ellipse cx="595.0" cy="608.3" rx="18.3" ry="20.0" fill="#c2c2c2" stroke="#323232" stroke-width="6.7"/>
<ellipse cx="640.8" cy="605.8" rx="15.3" ry="14.7" fill="#c2c2c2" stroke="#323232" stroke-width="6.0"/>
<ellipse cx="680.0" cy="600.0" rx="16.3" ry="13.0" fill="#c2c2c2" stroke="#323232" stroke-width="6.0"/>
<ellipse cx="495.0" cy="630.0" rx="19.2" ry="25.8" fill="#c2c2c2" stroke="#323232" stroke-width="7.0" transform="rotate(-15 495.0 630.0)"/>
<ellipse cx="535.0" cy="645.0" rx="12.1" ry="18.1" fill="#c2c2c2" stroke="#323232" stroke-width="5.8" transform="rotate(-10 535.0 645.0)"/>
<ellipse cx="574.2" cy="649.2" rx="16.2" ry="17.8" fill="#c2c2c2" stroke="#323232" stroke-width="6.3" transform="rotate(-15 574.2 649.2)"/>
<ellipse cx="619.2" cy="632.5" rx="7.7" ry="12.0" fill="#c2c2c2" stroke="#323232" stroke-width="4.7" transform="rotate(15 619.2 632.5)"/>
<ellipse cx="646.7" cy="639.2" rx="11.7" ry="10.7" fill="#c2c2c2" stroke="#323232" stroke-width="5.3"/>
<ellipse cx="679.2" cy="635.0" rx="13.3" ry="11.7" fill="#c2c2c2" stroke="#323232" stroke-width="5.3"/>
<ellipse cx="669.2" cy="658.3" rx="7.5" ry="6.7" fill="#c2c2c2" stroke="#323232" stroke-width="3.3" transform="rotate(30 669.2 658.3)"/>
<ellipse cx="613.3" cy="667.5" rx="16.7" ry="16.0" fill="#c2c2c2" stroke="#323232" stroke-width="6.7" transform="rotate(20 613.3 667.5)"/>
<ellipse cx="470.0" cy="672.5" rx="14.5" ry="13.5" fill="#c2c2c2" stroke="#323232" stroke-width="6.3"/>
<ellipse cx="505.0" cy="679.2" rx="11.4" ry="15.4" fill="#c2c2c2" stroke="#323232" stroke-width="5.8" transform="rotate(-15 505.0 679.2)"/>
<ellipse cx="542.5" cy="689.2" rx="16.0" ry="17.7" fill="#c2c2c2" stroke="#323232" stroke-width="6.7" transform="rotate(-10 542.5 689.2)"/>
<ellipse cx="581.7" cy="694.2" rx="16.0" ry="16.7" fill="#c2c2c2" stroke="#323232" stroke-width="6.7" transform="rotate(-15 581.7 694.2)"/>
<ellipse cx="645.0" cy="685.0" rx="6.2" ry="5.0" fill="#aaa" stroke="#323232" stroke-width="2.7"/>
<ellipse cx="652.5" cy="706.7" rx="10.3" ry="7.0" fill="#c2c2c2" stroke="#323232" stroke-width="3.3"/>
<ellipse cx="697.5" cy="681.7" rx="5.7" ry="17.3" fill="#c2c2c2" stroke="#323232" stroke-width="6.0"/>
<ellipse cx="486.7" cy="709.2" rx="17.5" ry="16.5" fill="#c2c2c2" stroke="#323232" stroke-width="7.0" transform="rotate(-10 486.7 709.2)"/>
<ellipse cx="454.2" cy="701.7" rx="4.5" ry="14.2" fill="#c2c2c2" stroke="#323232" stroke-width="5.0"/>
<ellipse cx="612.5" cy="716.7" rx="16.0" ry="14.3" fill="#c2c2c2" stroke="#323232" stroke-width="6.7"/>
<ellipse cx="527.5" cy="729.2" rx="17.7" ry="16.7" fill="#c2c2c2" stroke="#323232" stroke-width="6.7"/>
<ellipse cx="569.2" cy="728.3" rx="12.5" ry="12.5" fill="#c2c2c2" stroke="#323232" stroke-width="5.0"/>
<ellipse cx="688.3" cy="725.0" rx="8.2" ry="13.8" fill="#606060" stroke="#323232" stroke-width="5.7"/>
<ellipse cx="649.2" cy="739.2" rx="19.2" ry="17.5" fill="#c2c2c2" stroke="#323232" stroke-width="7.0" transform="rotate(15 649.2 739.2)"/>
<ellipse cx="459.2" cy="743.3" rx="13.0" ry="14.3" fill="#c2c2c2" stroke="#323232" stroke-width="6.7"/>
<ellipse cx="495.0" cy="746.7" rx="16.3" ry="12.0" fill="#c2c2c2" stroke="#323232" stroke-width="4.7" transform="rotate(10 495.0 746.7)"/>
<ellipse cx="609.2" cy="752.5" rx="13.8" ry="13.8" fill="#c2c2c2" stroke="#323232" stroke-width="5.8" transform="rotate(25 609.2 752.5)"/>
<ellipse cx="543.3" cy="765.8" rx="14.5" ry="15.2" fill="#c2c2c2" stroke="#323232" stroke-width="6.3" transform="rotate(-10 543.3 765.8)"/>
<ellipse cx="580.8" cy="766.7" rx="13.5" ry="16.2" fill="#c2c2c2" stroke="#323232" stroke-width="6.3" transform="rotate(-15 580.8 766.7)"/>
<ellipse cx="487.5" cy="776.7" rx="16.2" ry="11.8" fill="#c2c2c2" stroke="#323232" stroke-width="6.3" transform="rotate(10 487.5 776.7)"/>
<ellipse cx="639.2" cy="779.2" rx="16.7" ry="14.3" fill="#c2c2c2" stroke="#323232" stroke-width="6.7" transform="rotate(15 639.2 779.2)"/>
<ellipse cx="456.7" cy="775.8" rx="5.7" ry="7.3" fill="#c2c2c2" stroke="#323232" stroke-width="3.7"/>
<ellipse cx="525.8" cy="800.8" rx="17.5" ry="12.5" fill="#c2c2c2" stroke="#323232" stroke-width="7.0"/>
<ellipse cx="566.7" cy="803.3" rx="13.3" ry="12.3" fill="#c2c2c2" stroke="#323232" stroke-width="5.3"/>
<ellipse cx="605.0" cy="799.2" rx="17.7" ry="14.3" fill="#c2c2c2" stroke="#323232" stroke-width="6.7" transform="rotate(-10 605.0 799.2)"/>
<ellipse cx="668.3" cy="812.5" rx="19.2" ry="4.5" fill="#c2c2c2" stroke="#323232" stroke-width="5.0"/>
<ellipse cx="697.5" cy="795.0" rx="4.5" ry="14.2" fill="#c2c2c2" stroke="#323232" stroke-width="5.0"/>
<ellipse cx="478.3" cy="806.7" rx="19.8" ry="11.5" fill="#bdbdbd" stroke="#555" stroke-width="2.0"/>
<ellipse cx="478.3" cy="808.3" rx="13.8" ry="7.2" fill="#bdbdbd" stroke="#333" stroke-width="2.3"/>
<ellipse cx="478.3" cy="810.0" rx="6.5" ry="3.2" fill="#999" stroke="#333" stroke-width="2.0"/>
</g>
<rect x="452.4" y="587.0" width="247.0" height="225.5" filter="url(#grain)" style="mix-blend-mode:soft-light" opacity="0.4"/>
</g>
<clipPath id="cp8"><rect x="725.8" y="584.2" width="248" height="228.3"/></clipPath>
<g clip-path="url(#cp8)">
<rect x="725.8" y="584.2" width="248" height="228.3" fill="#989898"/>
<g filter="url(#soft)">
<ellipse cx="815.0" cy="615.0" rx="22.0" ry="15.3" fill="#8a8a8a"/>
<ellipse cx="821.7" cy="683.3" rx="15.3" ry="13.7" fill="#8c8c8c"/>
<ellipse cx="736.7" cy="708.3" rx="13.7" ry="18.7" fill="#707070"/>
<ellipse cx="786.7" cy="756.7" rx="12.0" ry="15.3" fill="#808080"/>
<ellipse cx="841.7" cy="741.7" rx="12.0" ry="5.8" fill="#6a6a6a" transform="rotate(-10 841.7 741.7)"/>
<ellipse cx="765.0" cy="780.0" rx="10.3" ry="10.0" fill="#666"/>
<ellipse cx="930.0" cy="780.0" rx="15.3" ry="10.0" fill="#5e5e5e" transform="rotate(-20 930.0 780.0)"/>
<ellipse cx="948.3" cy="758.3" rx="15.3" ry="11.7" fill="#666"/>
<ellipse cx="938.3" cy="698.3" rx="9.3" ry="8.3" fill="#555"/>
<ellipse cx="883.3" cy="596.7" rx="10.3" ry="8.3" fill="#666"/>
<ellipse cx="928.3" cy="591.7" rx="5.8" ry="6.7" fill="#6a6a6a"/>
<ellipse cx="970.0" cy="785.0" rx="6.7" ry="10.0" fill="#4a4a4a"/>
<ellipse cx="968.3" cy="728.3" rx="6.7" ry="10.3" fill="#666"/>
<ellipse cx="805.0" cy="716.7" rx="16.7" ry="10.0" fill="#808080"/>
<ellipse cx="818.3" cy="733.3" rx="16.7" ry="5.0" fill="#7a7a7a" transform="rotate(15 818.3 733.3)"/>
<ellipse cx="948.3" cy="658.3" rx="25.0" ry="11.7" fill="#b0b0b0"/>
<ellipse cx="861.7" cy="600.0" rx="13.3" ry="10.0" fill="#acacac"/>
<ellipse cx="740.0" cy="600.0" rx="11.7" ry="8.3" fill="#acacac"/>
<ellipse cx="898.3" cy="681.7" rx="20.0" ry="6.7" fill="#858585"/>
<ellipse cx="865.0" cy="730.0" rx="26.7" ry="6.7" fill="#8e8e8e"/>
<ellipse cx="875.0" cy="589.7" rx="2.3" ry="2.0" fill="#111"/>
<ellipse cx="858.3" cy="658.3" rx="33.0" ry="25.3" fill="#727272" transform="rotate(5 858.3 658.3)"/>
<ellipse cx="858.3" cy="658.3" rx="28.3" ry="20.8" fill="#7e7e7e" stroke="#8e8e8e" stroke-width="1.7" transform="rotate(5 858.3 658.3)"/>
<ellipse cx="856.7" cy="658.3" rx="18.3" ry="14.3" fill="#777777" stroke="#efefef" stroke-width="4.0" transform="rotate(5 856.7 658.3)"/>
<ellipse cx="910.0" cy="713.3" rx="27.8" ry="21.2" fill="#bdbdbd" stroke="#d6d6d6" stroke-width="1.7" transform="rotate(25 910.0 713.3)"/>
<ellipse cx="916.7" cy="718.3" rx="15.0" ry="11.7" fill="#cfcfcf" transform="rotate(20 916.7 718.3)"/>
<ellipse cx="890.0" cy="715.0" rx="10.0" ry="7.7" fill="#cacaca"/>
<ellipse cx="913.3" cy="703.3" rx="6.7" ry="5.0" fill="#8a8a8a"/>
<ellipse cx="887.5" cy="694.2" rx="9.7" ry="8.7" fill="#6a6a6a" stroke="#e0e0e0" stroke-width="1.3"/>
<ellipse cx="887.5" cy="694.2" rx="7.8" ry="7.0" fill="#707070" stroke="#333" stroke-width="1.7"/>
<ellipse cx="902.5" cy="694.2" rx="3.7" ry="3.7" fill="#0e0e0e"/>
<ellipse cx="771.7" cy="601.7" rx="14.6" ry="8.9" fill="#c2c2c2" stroke="#2e2e2e" stroke-width="4.2" transform="rotate(-10 771.7 601.7)"/>
<ellipse cx="808.3" cy="589.2" rx="9.3" ry="4.3" fill="#c2c2c2" stroke="#2e2e2e" stroke-width="3.0"/>
<ellipse cx="831.7" cy="594.2" rx="10.0" ry="7.7" fill="#c2c2c2" stroke="#2e2e2e" stroke-width="3.3"/>
<ellipse cx="905.0" cy="592.5" rx="9.5" ry="5.3" fill="#c2c2c2" stroke="#2e2e2e" stroke-width="2.7" transform="rotate(-30 905.0 592.5)"/>
<ellipse cx="967.5" cy="600.0" rx="6.2" ry="5.3" fill="#c2c2c2" stroke="#2e2e2e" stroke-width="2.7"/>
<ellipse cx="967.5" cy="614.2" rx="5.5" ry="4.7" fill="#c2c2c2" stroke="#2e2e2e" stroke-width="2.3"/>
<ellipse cx="916.7" cy="614.2" rx="14.7" ry="8.0" fill="#c2c2c2" stroke="#2e2e2e" stroke-width="4.0" transform="rotate(15 916.7 614.2)"/>
<ellipse cx="880.0" cy="621.7" rx="12.3" ry="9.7" fill="#c2c2c2" stroke="#2e2e2e" stroke-width="4.0" transform="rotate(20 880.0 621.7)"/>
<ellipse cx="953.3" cy="633.3" rx="16.2" ry="10.5" fill="#c2c2c2" stroke="#2e2e2e" stroke-width="4.3" transform="rotate(10 953.3 633.3)"/>
<ellipse cx="740.0" cy="626.7" rx="6.7" ry="9.3" fill="#c2c2c2" stroke="#2e2e2e" stroke-width="3.3"/>
<ellipse cx="766.7" cy="635.0" rx="12.2" ry="11.2" fill="#c2c2c2" stroke="#2e2e2e" stroke-width="4.2"/>
<ellipse cx="781.7" cy="625.0" rx="9.3" ry="8.5" fill="#c2c2c2" stroke="#2e2e2e" stroke-width="3.0" transform="rotate(20 781.7 625.0)"/>
<ellipse cx="820.0" cy="635.8" rx="15.5" ry="8.8" fill="#c2c2c2" stroke="#2e2e2e" stroke-width="4.3" transform="rotate(-15 820.0 635.8)"/>
<ellipse cx="900.0" cy="637.5" rx="10.5" ry="6.0" fill="#c2c2c2" stroke="#2e2e2e" stroke-width="3.0" transform="rotate(-10 900.0 637.5)"/>
<ellipse cx="931.7" cy="640.8" rx="9.7" ry="4.7" fill="#c2c2c2" stroke="#2e2e2e" stroke-width="2.3" transform="rotate(30 931.7 640.8)"/>
<ellipse cx="799.2" cy="652.5" rx="7.0" ry="4.0" fill="#c2c2c2" stroke="#2e2e2e" stroke-width="2.0"/>
<ellipse cx="907.5" cy="657.5" rx="8.0" ry="4.7" fill="#c2c2c2" stroke="#2e2e2e" stroke-width="2.3" transform="rotate(-25 907.5 657.5)"/>
<ellipse cx="745.8" cy="663.3" rx="12.8" ry="9.5" fill="#c2c2c2" stroke="#2e2e2e" stroke-width="4.3"/>
<ellipse cx="790.8" cy="673.3" rx="14.8" ry="10.5" fill="#c2c2c2" stroke="#2e2e2e" stroke-width="2.3" transform="rotate(10 790.8 673.3)"/>
<ellipse cx="921.7" cy="674.2" rx="9.2" ry="4.7" fill="#c2c2c2" stroke="#2e2e2e" stroke-width="2.3" transform="rotate(10 921.7 674.2)"/>
<ellipse cx="938.3" cy="680.8" rx="3.8" ry="3.3" fill="#c2c2c2" stroke="#2e2e2e" stroke-width="1.7"/>
<ellipse cx="966.7" cy="683.3" rx="6.3" ry="5.8" fill="#c2c2c2" stroke="#2e2e2e" stroke-width="2.3"/>
<ellipse cx="765.0" cy="688.3" rx="12.3" ry="9.0" fill="#c2c2c2" stroke="#2e2e2e" stroke-width="4.0" transform="rotate(10 765.0 688.3)"/>
<ellipse cx="855.8" cy="710.0" rx="18.2" ry="18.2" fill="#c2c2c2" stroke="#2e2e2e" stroke-width="4.3"/>
<ellipse cx="960.0" cy="710.0" rx="12.3" ry="9.7" fill="#c2c2c2" stroke="#2e2e2e" stroke-width="4.0" transform="rotate(-10 960.0 710.0)"/>
<ellipse cx="765.0" cy="726.7" rx="14.0" ry="10.7" fill="#c2c2c2" stroke="#2e2e2e" stroke-width="4.0" transform="rotate(20 765.0 726.7)"/>
<ellipse cx="814.2" cy="720.0" rx="5.0" ry="5.0" fill="#c2c2c2" stroke="#2e2e2e" stroke-width="1.7"/>
<ellipse cx="730.0" cy="695.0" rx="6.0" ry="10.7" fill="#c2c2c2" stroke="#2e2e2e" stroke-width="4.0"/>
<ellipse cx="809.2" cy="755.0" rx="8.8" ry="16.7" fill="#c2c2c2" stroke="#2e2e2e" stroke-width="4.0" transform="rotate(20 809.2 755.0)"/>
<ellipse cx="826.7" cy="763.3" rx="4.7" ry="8.8" fill="#c2c2c2" stroke="#2e2e2e" stroke-width="2.3" transform="rotate(15 826.7 763.3)"/>
<ellipse cx="872.5" cy="753.3" rx="12.5" ry="8.2" fill="#c2c2c2" stroke="#2e2e2e" stroke-width="3.7" transform="rotate(25 872.5 753.3)"/>
<ellipse cx="908.3" cy="757.5" rx="11.7" ry="7.7" fill="#c2c2c2" stroke="#2e2e2e" stroke-width="4.0"/>
<ellipse cx="933.3" cy="746.7" rx="5.8" ry="5.5" fill="#c2c2c2" stroke="#2e2e2e" stroke-width="2.3"/>
<ellipse cx="849.2" cy="768.3" rx="10.0" ry="11.7" fill="#c2c2c2" stroke="#2e2e2e" stroke-width="4.0" transform="rotate(-15 849.2 768.3)"/>
<ellipse cx="752.5" cy="761.7" rx="9.7" ry="10.7" fill="#c2c2c2" stroke="#2e2e2e" stroke-width="4.0" transform="rotate(20 752.5 761.7)"/>
<ellipse cx="729.2" cy="755.0" rx="5.2" ry="9.8" fill="#c2c2c2" stroke="#2e2e2e" stroke-width="3.7"/>
<ellipse cx="907.5" cy="785.8" rx="13.0" ry="10.7" fill="#c2c2c2" stroke="#2e2e2e" stroke-width="4.0" transform="rotate(10 907.5 785.8)"/>
<ellipse cx="796.7" cy="793.3" rx="12.8" ry="8.8" fill="#c2c2c2" stroke="#2e2e2e" stroke-width="4.3" transform="rotate(-10 796.7 793.3)"/>
<ellipse cx="825.8" cy="795.8" rx="8.3" ry="11.0" fill="#c2c2c2" stroke="#2e2e2e" stroke-width="3.3" transform="rotate(30 825.8 795.8)"/>
<ellipse cx="742.5" cy="800.0" rx="16.5" ry="6.5" fill="#c2c2c2" stroke="#2e2e2e" stroke-width="3.7" transform="rotate(5 742.5 800.0)"/>
<ellipse cx="873.3" cy="798.3" rx="12.3" ry="10.7" fill="#c2c2c2" stroke="#2e2e2e" stroke-width="4.0"/>
<ellipse cx="931.7" cy="810.8" rx="16.2" ry="7.5" fill="#c2c2c2" stroke="#2e2e2e" stroke-width="5.0"/>
<ellipse cx="950.0" cy="731.7" rx="4.8" ry="4.0" fill="#c2c2c2" stroke="#2e2e2e" stroke-width="2.0"/>
<ellipse cx="848.3" cy="812.5" rx="12.0" ry="2.8" fill="#c2c2c2" stroke="#2e2e2e" stroke-width="2.7"/>
<ellipse cx="743.3" cy="585.0" rx="7.0" ry="2.8" fill="#c2c2c2" stroke="#2e2e2e" stroke-width="2.7"/>
<ellipse cx="806.7" cy="695.0" rx="7.8" ry="8.7" fill="#888" stroke="#2e2e2e" stroke-width="2.7" transform="rotate(30 806.7 695.0)"/>
</g>
<rect x="725.8" y="584.2" width="248" height="228.3" filter="url(#grain)" style="mix-blend-mode:soft-light" opacity="0.4"/>
</g>
<clipPath id="cp9"><rect x="999.2" y="584.2" width="247" height="228.3"/></clipPath>
<g clip-path="url(#cp9)">
<rect x="999.2" y="584.2" width="247" height="228.3" fill="#939393"/>
<g filter="url(#soft)">
<ellipse cx="1113.3" cy="721.7" rx="20.3" ry="18.7" fill="#aaaaaa" fill-opacity="0.7"/>
<ellipse cx="1145.0" cy="605.0" rx="22.0" ry="12.0" fill="#aaaaaa" fill-opacity="0.7"/>
<ellipse cx="1135.0" cy="681.7" rx="10.3" ry="6.7" fill="#666" transform="rotate(10 1135.0 681.7)"/>
<ellipse cx="1158.3" cy="703.3" rx="10.3" ry="6.7" fill="#4a4a4a" transform="rotate(30 1158.3 703.3)"/>
<ellipse cx="1165.0" cy="763.3" rx="6.7" ry="8.7" fill="#6a6a6a"/>
<ellipse cx="1156.7" cy="616.7" rx="10.3" ry="5.8" fill="#777" transform="rotate(10 1156.7 616.7)"/>
<ellipse cx="1125.0" cy="781.7" rx="7.0" ry="6.0" fill="#666"/>
<ellipse cx="1015.0" cy="591.7" rx="10.3" ry="7.7" fill="#6e6e6e"/>
<ellipse cx="1191.7" cy="796.7" rx="3.3" ry="4.7" fill="#333"/>
<ellipse cx="1148.3" cy="781.7" rx="13.3" ry="10.0" fill="#a8a8a8" fill-opacity="0.6"/>
<ellipse cx="1173.3" cy="638.3" rx="10.0" ry="10.0" fill="#a6a6a6" fill-opacity="0.6"/>
<ellipse cx="1065.0" cy="630.0" rx="8.3" ry="8.3" fill="#858585"/>
<ellipse cx="1195.0" cy="681.7" rx="5.8" ry="8.3" fill="#666" transform="rotate(-20 1195.0 681.7)"/>
<ellipse cx="1106.7" cy="763.3" rx="10.0" ry="5.8" fill="#8a8a8a"/>
<ellipse cx="1147.5" cy="697.5" rx="4.7" ry="4.7" fill="#e2e2e2"/>
<ellipse cx="1140.0" cy="691.7" rx="3.0" ry="3.0" fill="#dcdcdc"/>
<ellipse cx="1150.0" cy="704.2" rx="1.7" ry="1.7" fill="#dcdcdc"/>
<path d="M1218.3 584.2C1220.6 578.8 1228.9 580.1 1230.0 584.2C1231.1 588.2 1225.0 600.7 1225.0 608.3C1225.0 616.0 1226.5 624.4 1230.0 630.0C1233.5 635.6 1243.5 636.4 1246.2 641.7C1248.9 646.9 1249.7 661.1 1246.2 661.7C1242.6 662.2 1229.9 652.5 1225.0 645.0C1220.1 637.5 1217.8 626.8 1216.7 616.7C1215.6 606.5 1216.1 589.6 1218.3 584.2Z" fill="#5a5a5a"/>
<path d="M1231.7 584.2C1234.5 582.4 1243.8 575.1 1246.2 584.2C1248.6 593.2 1248.0 630.7 1246.2 638.3C1244.3 646.0 1238.0 634.4 1235.0 630.0C1232.0 625.6 1229.3 617.5 1228.3 611.7C1227.4 605.8 1228.6 599.6 1229.2 595.0C1229.7 590.4 1228.8 586.0 1231.7 584.2Z" fill="#dadada"/>
<ellipse cx="1020.0" cy="625.0" rx="11.7" ry="20.7" fill="#c4c4c4" stroke="#2c2c2c" stroke-width="5.3" transform="rotate(-10 1020.0 625.0)"/>
<ellipse cx="1047.5" cy="600.0" rx="12.7" ry="14.3" fill="#c4c4c4" stroke="#2c2c2c" stroke-width="4.7"/>
<ellipse cx="1091.7" cy="591.7" rx="9.2" ry="6.7" fill="#c4c4c4" stroke="#2c2c2c" stroke-width="3.3"/>
<ellipse cx="1115.0" cy="591.7" rx="7.8" ry="8.7" fill="#c4c4c4" stroke="#2c2c2c" stroke-width="2.7"/>
<ellipse cx="1134.2" cy="587.5" rx="6.3" ry="3.8" fill="#c4c4c4" stroke="#2c2c2c" stroke-width="2.3"/>
<ellipse cx="1170.0" cy="589.2" rx="12.5" ry="4.8" fill="#c4c4c4" stroke="#2c2c2c" stroke-width="3.7"/>
<ellipse cx="1199.2" cy="589.2" rx="8.0" ry="3.8" fill="#c4c4c4" stroke="#2c2c2c" stroke-width="2.3"/>
<ellipse cx="1086.7" cy="616.7" rx="12.5" ry="9.2" fill="#c4c4c4" stroke="#2c2c2c" stroke-width="3.7"/>
<ellipse cx="1204.2" cy="608.3" rx="4.8" ry="6.5" fill="#c4c4c4" stroke="#2c2c2c" stroke-width="2.0"/>
<ellipse cx="1190.8" cy="624.2" rx="8.0" ry="4.7" fill="#c4c4c4" stroke="#2c2c2c" stroke-width="2.3" transform="rotate(-20 1190.8 624.2)"/>
<ellipse cx="1140.0" cy="631.7" rx="11.3" ry="12.3" fill="#c4c4c4" stroke="#2c2c2c" stroke-width="4.0"/>
<ellipse cx="1046.7" cy="637.5" rx="7.8" ry="7.8" fill="#c4c4c4" stroke="#2c2c2c" stroke-width="2.7"/>
<ellipse cx="1207.5" cy="643.3" rx="10.5" ry="12.2" fill="#c4c4c4" stroke="#2c2c2c" stroke-width="4.3"/>
<ellipse cx="1100.0" cy="653.3" rx="22.2" ry="20.5" fill="#c4c4c4" stroke="#2c2c2c" stroke-width="7.7"/>
<ellipse cx="1004.2" cy="651.7" rx="6.3" ry="11.0" fill="#c4c4c4" stroke="#2c2c2c" stroke-width="4.7"/>
<ellipse cx="1049.2" cy="663.3" rx="11.7" ry="12.3" fill="#c4c4c4" stroke="#2c2c2c" stroke-width="5.3"/>
<ellipse cx="1141.7" cy="660.8" rx="7.8" ry="7.0" fill="#c4c4c4" stroke="#2c2c2c" stroke-width="2.7"/>
<ellipse cx="1181.7" cy="650.8" rx="4.0" ry="6.5" fill="#c4c4c4" stroke="#2c2c2c" stroke-width="2.0"/>
<ellipse cx="1168.3" cy="675.0" rx="14.3" ry="18.3" fill="#c4c4c4" stroke="#2c2c2c" stroke-width="6.7" transform="rotate(-10 1168.3 675.0)"/>
<ellipse cx="1208.3" cy="671.7" rx="11.5" ry="12.5" fill="#c4c4c4" stroke="#2c2c2c" stroke-width="3.7" transform="rotate(-20 1208.3 671.7)"/>
<ellipse cx="1021.7" cy="670.8" rx="4.7" ry="8.8" fill="#c4c4c4" stroke="#2c2c2c" stroke-width="2.3"/>
<ellipse cx="1234.2" cy="684.2" rx="10.0" ry="9.3" fill="#c4c4c4" stroke="#2c2c2c" stroke-width="3.3"/>
<ellipse cx="1242.5" cy="667.5" rx="5.2" ry="2.7" fill="#c4c4c4" stroke="#2c2c2c" stroke-width="3.0"/>
<ellipse cx="1073.3" cy="691.7" rx="16.2" ry="18.5" fill="#c4c4c4" stroke="#2c2c2c" stroke-width="6.3" transform="rotate(-20 1073.3 691.7)"/>
<ellipse cx="1110.0" cy="692.5" rx="9.5" ry="9.2" fill="#c4c4c4" stroke="#2c2c2c" stroke-width="3.7"/>
<ellipse cx="1035.0" cy="694.2" rx="7.8" ry="6.2" fill="#c4c4c4" stroke="#2c2c2c" stroke-width="2.7"/>
<ellipse cx="1000.8" cy="690.0" rx="4.2" ry="9.8" fill="#c4c4c4" stroke="#2c2c2c" stroke-width="3.7"/>
<ellipse cx="1132.5" cy="708.3" rx="9.2" ry="15.2" fill="#c4c4c4" stroke="#2c2c2c" stroke-width="5.0" transform="rotate(-25 1132.5 708.3)"/>
<ellipse cx="1205.0" cy="703.3" rx="9.5" ry="8.5" fill="#c4c4c4" stroke="#2c2c2c" stroke-width="3.7"/>
<ellipse cx="1235.8" cy="713.3" rx="8.8" ry="12.8" fill="#c4c4c4" stroke="#2c2c2c" stroke-width="4.3"/>
<ellipse cx="1049.2" cy="720.0" rx="13.5" ry="14.2" fill="#c4c4c4" stroke="#2c2c2c" stroke-width="5.0"/>
<ellipse cx="1092.5" cy="719.2" rx="7.2" ry="8.8" fill="#c4c4c4" stroke="#2c2c2c" stroke-width="2.3" transform="rotate(-20 1092.5 719.2)"/>
<ellipse cx="1171.7" cy="726.7" rx="12.5" ry="15.2" fill="#c4c4c4" stroke="#2c2c2c" stroke-width="5.0"/>
<ellipse cx="1208.3" cy="743.3" rx="13.8" ry="15.5" fill="#c4c4c4" stroke="#2c2c2c" stroke-width="5.7"/>
<ellipse cx="1243.3" cy="740.0" rx="5.5" ry="11.2" fill="#c4c4c4" stroke="#2c2c2c" stroke-width="4.3"/>
<ellipse cx="1070.0" cy="751.7" rx="14.2" ry="15.2" fill="#c4c4c4" stroke="#2c2c2c" stroke-width="5.0"/>
<ellipse cx="1105.0" cy="748.3" rx="9.7" ry="6.3" fill="#c4c4c4" stroke="#2c2c2c" stroke-width="2.3" transform="rotate(-25 1105.0 748.3)"/>
<ellipse cx="1178.3" cy="759.2" rx="6.3" ry="6.3" fill="#c4c4c4" stroke="#2c2c2c" stroke-width="2.3"/>
<ellipse cx="1002.5" cy="746.7" rx="4.5" ry="6.8" fill="#c4c4c4" stroke="#2c2c2c" stroke-width="3.0"/>
<ellipse cx="1001.7" cy="766.7" rx="5.5" ry="7.7" fill="#c4c4c4" stroke="#2c2c2c" stroke-width="3.0"/>
<ellipse cx="1036.7" cy="773.3" rx="26.7" ry="24.0" fill="#c4c4c4" stroke="#2c2c2c" stroke-width="7.3" transform="rotate(-20 1036.7 773.3)"/>
<ellipse cx="1225.0" cy="773.3" rx="11.7" ry="12.3" fill="#c4c4c4" stroke="#2c2c2c" stroke-width="5.3"/>
<ellipse cx="1183.3" cy="781.7" rx="10.8" ry="12.5" fill="#c4c4c4" stroke="#2c2c2c" stroke-width="3.7"/>
<ellipse cx="1095.8" cy="790.0" rx="13.8" ry="13.8" fill="#c4c4c4" stroke="#2c2c2c" stroke-width="5.7"/>
<ellipse cx="1126.7" cy="805.8" rx="14.2" ry="9.2" fill="#c4c4c4" stroke="#2c2c2c" stroke-width="5.0"/>
<ellipse cx="1156.7" cy="805.8" rx="9.3" ry="9.3" fill="#c4c4c4" stroke="#2c2c2c" stroke-width="4.7"/>
<ellipse cx="1212.5" cy="802.5" rx="7.5" ry="14.2" fill="#c4c4c4" stroke="#2c2c2c" stroke-width="5.0"/>
<ellipse cx="1046.7" cy="812.5" rx="8.3" ry="3.3" fill="#c4c4c4" stroke="#2c2c2c" stroke-width="3.3"/>
<ellipse cx="1098.3" cy="813.3" rx="6.8" ry="1.8" fill="#c4c4c4" stroke="#2c2c2c" stroke-width="3.0"/>
<ellipse cx="1242.5" cy="811.7" rx="5.0" ry="3.3" fill="#c4c4c4" stroke="#2c2c2c" stroke-width="3.3"/>
<ellipse cx="1015.8" cy="719.2" rx="15.0" ry="15.0" fill="#9a9a9a" stroke="#2c2c2c" stroke-width="5.3"/>
<ellipse cx="1137.5" cy="754.2" rx="15.3" ry="15.3" fill="#a8a8a8" stroke="#2c2c2c" stroke-width="2.7"/>
<ellipse cx="1135.8" cy="754.7" rx="7.7" ry="6.7" fill="#a0a0a0" stroke="#2c2c2c" stroke-width="2.0"/>
</g>
<rect x="999.2" y="584.2" width="247" height="228.3" filter="url(#grain)" style="mix-blend-mode:soft-light" opacity="0.4"/>
<rect x="1003" y="801.3" width="35.7" height="8.4" fill="#fff"/>
</g>
<text x="457.0" y="45.3" font-size="36" font-weight="bold" text-anchor="start" fill="#000">(A)</text>
<text x="594.0" y="98.3" font-size="37" font-weight="bold" text-anchor="middle" fill="#000">Sham</text>
<text x="848.0" y="94.0" font-size="37" font-weight="bold" text-anchor="middle" fill="#000">pCK</text>
<text x="1123.3" y="94.0" font-size="37" font-weight="bold" text-anchor="middle" fill="#000">pCK-HGF-X7</text>
<text x="974.3" y="31.6" font-size="37" font-weight="bold" text-anchor="middle" fill="#000">Crush</text>
<path d="M864 52 V22.8 H917 M1036 22.8 H1090 V52" fill="none" stroke="#000" stroke-width="3"/>
<text x="430.7" y="214.0" font-size="37" font-weight="bold" text-anchor="middle" fill="#000" transform="rotate(-90 430.7 214.0)">7 d.p.i</text>
<text x="430.7" y="456.5" font-size="37" font-weight="bold" text-anchor="middle" fill="#000" transform="rotate(-90 430.7 456.5)">14 d.p.i</text>
<text x="430.7" y="699.0" font-size="37" font-weight="bold" text-anchor="middle" fill="#000" transform="rotate(-90 430.7 699.0)">28 d.p.i</text>
</g>
<g id="scatter">
<path d="M225.2 1056.1l5.6 5.6l-5.6 5.6l-5.6 -5.6zM247.5 1047.9l5.6 5.6l-5.6 5.6l-5.6 -5.6zM185.5 1102.2l5.6 5.6l-5.6 5.6l-5.6 -5.6zM209.5 1072.7l5.6 5.6l-5.6 5.6l-5.6 -5.6zM206.5 1027.3l5.6 5.6l-5.6 5.6l-5.6 -5.6zM254.4 1012.0l5.6 5.6l-5.6 5.6l-5.6 -5.6zM298.4 1052.6l5.6 5.6l-5.6 5.6l-5.6 -5.6zM191.5 1083.7l5.6 5.6l-5.6 5.6l-5.6 -5.6zM264.1 1043.5l5.6 5.6l-5.6 5.6l-5.6 -5.6zM202.4 1066.9l5.6 5.6l-5.6 5.6l-5.6 -5.6zM274.6 1037.1l5.6 5.6l-5.6 5.6l-5.6 -5.6zM236.5 1087.6l5.6 5.6l-5.6 5.6l-5.6 -5.6zM377.0 1035.6l5.6 5.6l-5.6 5.6l-5.6 -5.6zM262.0 1083.5l5.6 5.6l-5.6 5.6l-5.6 -5.6zM275.4 1061.3l5.6 5.6l-5.6 5.6l-5.6 -5.6zM215.9 1063.0l5.6 5.6l-5.6 5.6l-5.6 -5.6zM195.6 1107.0l5.6 5.6l-5.6 5.6l-5.6 -5.6zM314.7 1051.3l5.6 5.6l-5.6 5.6l-5.6 -5.6zM304.2 1033.4l5.6 5.6l-5.6 5.6l-5.6 -5.6zM256.3 1023.1l5.6 5.6l-5.6 5.6l-5.6 -5.6zM235.6 1093.2l5.6 5.6l-5.6 5.6l-5.6 -5.6zM291.1 1060.4l5.6 5.6l-5.6 5.6l-5.6 -5.6zM215.4 1091.1l5.6 5.6l-5.6 5.6l-5.6 -5.6zM213.3 1069.2l5.6 5.6l-5.6 5.6l-5.6 -5.6zM206.0 1030.4l5.6 5.6l-5.6 5.6l-5.6 -5.6zM191.6 1105.0l5.6 5.6l-5.6 5.6l-5.6 -5.6zM287.8 1067.3l5.6 5.6l-5.6 5.6l-5.6 -5.6zM213.1 1022.0l5.6 5.6l-5.6 5.6l-5.6 -5.6zM210.4 1069.3l5.6 5.6l-5.6 5.6l-5.6 -5.6zM253.7 1081.5l5.6 5.6l-5.6 5.6l-5.6 -5.6zM187.4 1055.2l5.6 5.6l-5.6 5.6l-5.6 -5.6zM246.0 1078.6l5.6 5.6l-5.6 5.6l-5.6 -5.6zM260.3 1086.2l5.6 5.6l-5.6 5.6l-5.6 -5.6zM227.4 1036.2l5.6 5.6l-5.6 5.6l-5.6 -5.6zM215.2 1060.5l5.6 5.6l-5.6 5.6l-5.6 -5.6zM198.5 1077.8l5.6 5.6l-5.6 5.6l-5.6 -5.6zM255.0 1053.4l5.6 5.6l-5.6 5.6l-5.6 -5.6zM229.3 1082.5l5.6 5.6l-5.6 5.6l-5.6 -5.6zM236.6 1067.9l5.6 5.6l-5.6 5.6l-5.6 -5.6zM224.7 1067.4l5.6 5.6l-5.6 5.6l-5.6 -5.6zM283.8 1106.1l5.6 5.6l-5.6 5.6l-5.6 -5.6zM245.3 1064.6l5.6 5.6l-5.6 5.6l-5.6 -5.6zM246.4 990.3l5.6 5.6l-5.6 5.6l-5.6 -5.6zM213.3 1053.7l5.6 5.6l-5.6 5.6l-5.6 -5.6zM256.4 1045.2l5.6 5.6l-5.6 5.6l-5.6 -5.6zM201.7 1084.7l5.6 5.6l-5.6 5.6l-5.6 -5.6zM229.8 1079.3l5.6 5.6l-5.6 5.6l-5.6 -5.6zM190.6 1078.1l5.6 5.6l-5.6 5.6l-5.6 -5.6zM348.3 1103.8l5.6 5.6l-5.6 5.6l-5.6 -5.6zM329.7 1012.9l5.6 5.6l-5.6 5.6l-5.6 -5.6zM214.3 1070.4l5.6 5.6l-5.6 5.6l-5.6 -5.6zM319.9 1057.1l5.6 5.6l-5.6 5.6l-5.6 -5.6zM337.5 1069.7l5.6 5.6l-5.6 5.6l-5.6 -5.6zM295.0 1063.7l5.6 5.6l-5.6 5.6l-5.6 -5.6zM187.9 1099.7l5.6 5.6l-5.6 5.6l-5.6 -5.6zM269.5 1046.3l5.6 5.6l-5.6 5.6l-5.6 -5.6zM209.3 1102.8l5.6 5.6l-5.6 5.6l-5.6 -5.6zM216.3 1039.9l5.6 5.6l-5.6 5.6l-5.6 -5.6zM284.8 1003.1l5.6 5.6l-5.6 5.6l-5.6 -5.6zM286.4 1067.0l5.6 5.6l-5.6 5.6l-5.6 -5.6zM215.0 1066.7l5.6 5.6l-5.6 5.6l-5.6 -5.6zM210.9 1098.1l5.6 5.6l-5.6 5.6l-5.6 -5.6zM220.6 1017.9l5.6 5.6l-5.6 5.6l-5.6 -5.6zM242.6 1030.7l5.6 5.6l-5.6 5.6l-5.6 -5.6zM244.5 1042.0l5.6 5.6l-5.6 5.6l-5.6 -5.6zM198.7 1076.6l5.6 5.6l-5.6 5.6l-5.6 -5.6zM298.8 1031.8l5.6 5.6l-5.6 5.6l-5.6 -5.6zM268.0 1076.7l5.6 5.6l-5.6 5.6l-5.6 -5.6zM185.5 1077.5l5.6 5.6l-5.6 5.6l-5.6 -5.6zM305.1 1063.5l5.6 5.6l-5.6 5.6l-5.6 -5.6zM268.0 1073.0l5.6 5.6l-5.6 5.6l-5.6 -5.6zM264.7 1038.0l5.6 5.6l-5.6 5.6l-5.6 -5.6zM245.9 1027.6l5.6 5.6l-5.6 5.6l-5.6 -5.6zM213.4 1074.1l5.6 5.6l-5.6 5.6l-5.6 -5.6zM311.4 989.6l5.6 5.6l-5.6 5.6l-5.6 -5.6zM284.0 1026.8l5.6 5.6l-5.6 5.6l-5.6 -5.6zM195.7 1088.3l5.6 5.6l-5.6 5.6l-5.6 -5.6zM260.4 1060.3l5.6 5.6l-5.6 5.6l-5.6 -5.6zM225.9 1106.6l5.6 5.6l-5.6 5.6l-5.6 -5.6zM200.1 1067.5l5.6 5.6l-5.6 5.6l-5.6 -5.6zM244.4 1063.3l5.6 5.6l-5.6 5.6l-5.6 -5.6zM251.3 1074.4l5.6 5.6l-5.6 5.6l-5.6 -5.6zM193.6 1052.8l5.6 5.6l-5.6 5.6l-5.6 -5.6zM203.4 1048.9l5.6 5.6l-5.6 5.6l-5.6 -5.6zM221.1 1016.2l5.6 5.6l-5.6 5.6l-5.6 -5.6zM288.6 1071.7l5.6 5.6l-5.6 5.6l-5.6 -5.6zM265.6 1058.4l5.6 5.6l-5.6 5.6l-5.6 -5.6zM276.0 1053.7l5.6 5.6l-5.6 5.6l-5.6 -5.6zM323.6 1082.1l5.6 5.6l-5.6 5.6l-5.6 -5.6zM236.2 1082.1l5.6 5.6l-5.6 5.6l-5.6 -5.6zM330.9 1038.8l5.6 5.6l-5.6 5.6l-5.6 -5.6zM245.5 1068.5l5.6 5.6l-5.6 5.6l-5.6 -5.6zM207.6 1082.8l5.6 5.6l-5.6 5.6l-5.6 -5.6zM220.6 1068.0l5.6 5.6l-5.6 5.6l-5.6 -5.6zM280.5 1033.4l5.6 5.6l-5.6 5.6l-5.6 -5.6zM229.2 1060.3l5.6 5.6l-5.6 5.6l-5.6 -5.6zM300.4 1055.0l5.6 5.6l-5.6 5.6l-5.6 -5.6zM306.3 1069.2l5.6 5.6l-5.6 5.6l-5.6 -5.6zM239.6 1035.1l5.6 5.6l-5.6 5.6l-5.6 -5.6zM307.2 1061.5l5.6 5.6l-5.6 5.6l-5.6 -5.6zM230.0 1072.1l5.6 5.6l-5.6 5.6l-5.6 -5.6zM219.0 1067.7l5.6 5.6l-5.6 5.6l-5.6 -5.6zM219.4 1056.3l5.6 5.6l-5.6 5.6l-5.6 -5.6zM198.9 1096.6l5.6 5.6l-5.6 5.6l-5.6 -5.6zM218.8 1087.1l5.6 5.6l-5.6 5.6l-5.6 -5.6zM237.8 1058.1l5.6 5.6l-5.6 5.6l-5.6 -5.6zM199.7 1089.4l5.6 5.6l-5.6 5.6l-5.6 -5.6zM195.5 1073.0l5.6 5.6l-5.6 5.6l-5.6 -5.6zM221.7 1037.3l5.6 5.6l-5.6 5.6l-5.6 -5.6zM332.2 1025.0l5.6 5.6l-5.6 5.6l-5.6 -5.6zM228.6 1074.1l5.6 5.6l-5.6 5.6l-5.6 -5.6zM316.0 1041.1l5.6 5.6l-5.6 5.6l-5.6 -5.6zM191.8 1028.6l5.6 5.6l-5.6 5.6l-5.6 -5.6zM341.1 1037.6l5.6 5.6l-5.6 5.6l-5.6 -5.6zM311.3 1043.9l5.6 5.6l-5.6 5.6l-5.6 -5.6zM201.3 1075.9l5.6 5.6l-5.6 5.6l-5.6 -5.6zM257.4 1027.7l5.6 5.6l-5.6 5.6l-5.6 -5.6zM241.4 1031.2l5.6 5.6l-5.6 5.6l-5.6 -5.6zM242.9 1051.9l5.6 5.6l-5.6 5.6l-5.6 -5.6zM274.7 1042.1l5.6 5.6l-5.6 5.6l-5.6 -5.6zM201.0 1067.9l5.6 5.6l-5.6 5.6l-5.6 -5.6zM241.4 1040.9l5.6 5.6l-5.6 5.6l-5.6 -5.6zM236.5 1061.8l5.6 5.6l-5.6 5.6l-5.6 -5.6zM257.1 1020.2l5.6 5.6l-5.6 5.6l-5.6 -5.6zM207.2 1066.7l5.6 5.6l-5.6 5.6l-5.6 -5.6zM248.6 1034.8l5.6 5.6l-5.6 5.6l-5.6 -5.6zM199.8 1053.2l5.6 5.6l-5.6 5.6l-5.6 -5.6zM266.9 1018.6l5.6 5.6l-5.6 5.6l-5.6 -5.6zM245.1 1044.3l5.6 5.6l-5.6 5.6l-5.6 -5.6zM296.6 1048.1l5.6 5.6l-5.6 5.6l-5.6 -5.6zM185.7 1104.0l5.6 5.6l-5.6 5.6l-5.6 -5.6zM236.3 1001.3l5.6 5.6l-5.6 5.6l-5.6 -5.6zM195.1 1091.0l5.6 5.6l-5.6 5.6l-5.6 -5.6zM319.6 1064.6l5.6 5.6l-5.6 5.6l-5.6 -5.6zM241.0 1085.0l5.6 5.6l-5.6 5.6l-5.6 -5.6zM236.2 1059.0l5.6 5.6l-5.6 5.6l-5.6 -5.6zM202.8 1050.8l5.6 5.6l-5.6 5.6l-5.6 -5.6zM282.9 1090.0l5.6 5.6l-5.6 5.6l-5.6 -5.6zM306.8 1027.2l5.6 5.6l-5.6 5.6l-5.6 -5.6zM222.5 1079.6l5.6 5.6l-5.6 5.6l-5.6 -5.6zM223.1 1098.7l5.6 5.6l-5.6 5.6l-5.6 -5.6zM215.6 1091.8l5.6 5.6l-5.6 5.6l-5.6 -5.6zM243.5 1014.5l5.6 5.6l-5.6 5.6l-5.6 -5.6zM376.9 1077.3l5.6 5.6l-5.6 5.6l-5.6 -5.6zM265.1 1048.6l5.6 5.6l-5.6 5.6l-5.6 -5.6zM328.9 1014.4l5.6 5.6l-5.6 5.6l-5.6 -5.6zM223.9 1073.2l5.6 5.6l-5.6 5.6l-5.6 -5.6zM238.6 1052.2l5.6 5.6l-5.6 5.6l-5.6 -5.6zM191.0 1093.0l5.6 5.6l-5.6 5.6l-5.6 -5.6zM264.3 1048.9l5.6 5.6l-5.6 5.6l-5.6 -5.6zM251.1 1061.7l5.6 5.6l-5.6 5.6l-5.6 -5.6zM242.0 1069.2l5.6 5.6l-5.6 5.6l-5.6 -5.6zM237.2 1061.8l5.6 5.6l-5.6 5.6l-5.6 -5.6zM227.8 1070.6l5.6 5.6l-5.6 5.6l-5.6 -5.6zM214.9 1019.4l5.6 5.6l-5.6 5.6l-5.6 -5.6zM287.9 1025.8l5.6 5.6l-5.6 5.6l-5.6 -5.6zM227.2 1045.3l5.6 5.6l-5.6 5.6l-5.6 -5.6zM199.6 1085.9l5.6 5.6l-5.6 5.6l-5.6 -5.6zM243.1 1067.5l5.6 5.6l-5.6 5.6l-5.6 -5.6zM218.2 1051.1l5.6 5.6l-5.6 5.6l-5.6 -5.6zM227.3 1105.6l5.6 5.6l-5.6 5.6l-5.6 -5.6zM335.5 1026.3l5.6 5.6l-5.6 5.6l-5.6 -5.6zM207.9 1031.4l5.6 5.6l-5.6 5.6l-5.6 -5.6zM315.8 1037.4l5.6 5.6l-5.6 5.6l-5.6 -5.6zM234.1 1099.6l5.6 5.6l-5.6 5.6l-5.6 -5.6zM262.7 1062.3l5.6 5.6l-5.6 5.6l-5.6 -5.6zM205.8 1043.8l5.6 5.6l-5.6 5.6l-5.6 -5.6zM247.7 1027.4l5.6 5.6l-5.6 5.6l-5.6 -5.6zM230.1 1057.3l5.6 5.6l-5.6 5.6l-5.6 -5.6zM213.9 1063.1l5.6 5.6l-5.6 5.6l-5.6 -5.6zM332.2 1041.8l5.6 5.6l-5.6 5.6l-5.6 -5.6zM241.8 1074.9l5.6 5.6l-5.6 5.6l-5.6 -5.6zM233.1 1032.1l5.6 5.6l-5.6 5.6l-5.6 -5.6zM219.9 1015.7l5.6 5.6l-5.6 5.6l-5.6 -5.6zM264.7 1063.0l5.6 5.6l-5.6 5.6l-5.6 -5.6zM242.9 1019.0l5.6 5.6l-5.6 5.6l-5.6 -5.6zM324.4 1048.6l5.6 5.6l-5.6 5.6l-5.6 -5.6zM241.8 1041.2l5.6 5.6l-5.6 5.6l-5.6 -5.6zM207.1 1038.0l5.6 5.6l-5.6 5.6l-5.6 -5.6zM200.8 1019.7l5.6 5.6l-5.6 5.6l-5.6 -5.6zM193.4 1113.3l5.6 5.6l-5.6 5.6l-5.6 -5.6zM318.3 1012.3l5.6 5.6l-5.6 5.6l-5.6 -5.6zM268.8 1035.6l5.6 5.6l-5.6 5.6l-5.6 -5.6zM215.8 1079.9l5.6 5.6l-5.6 5.6l-5.6 -5.6zM189.6 1086.3l5.6 5.6l-5.6 5.6l-5.6 -5.6zM187.3 1053.4l5.6 5.6l-5.6 5.6l-5.6 -5.6zM206.6 1072.6l5.6 5.6l-5.6 5.6l-5.6 -5.6zM207.1 1064.1l5.6 5.6l-5.6 5.6l-5.6 -5.6zM306.8 1043.0l5.6 5.6l-5.6 5.6l-5.6 -5.6zM224.2 1010.5l5.6 5.6l-5.6 5.6l-5.6 -5.6zM188.0 1068.2l5.6 5.6l-5.6 5.6l-5.6 -5.6zM205.2 1086.0l5.6 5.6l-5.6 5.6l-5.6 -5.6zM229.5 1034.9l5.6 5.6l-5.6 5.6l-5.6 -5.6zM301.0 1056.7l5.6 5.6l-5.6 5.6l-5.6 -5.6zM257.6 1043.5l5.6 5.6l-5.6 5.6l-5.6 -5.6zM273.5 1070.4l5.6 5.6l-5.6 5.6l-5.6 -5.6zM220.6 1092.7l5.6 5.6l-5.6 5.6l-5.6 -5.6zM221.6 1069.1l5.6 5.6l-5.6 5.6l-5.6 -5.6zM189.6 1068.7l5.6 5.6l-5.6 5.6l-5.6 -5.6zM208.3 1041.9l5.6 5.6l-5.6 5.6l-5.6 -5.6zM281.0 1047.7l5.6 5.6l-5.6 5.6l-5.6 -5.6zM260.4 1006.0l5.6 5.6l-5.6 5.6l-5.6 -5.6zM295.4 1024.6l5.6 5.6l-5.6 5.6l-5.6 -5.6zM272.5 1040.5l5.6 5.6l-5.6 5.6l-5.6 -5.6zM216.1 1092.9l5.6 5.6l-5.6 5.6l-5.6 -5.6zM253.2 1095.0l5.6 5.6l-5.6 5.6l-5.6 -5.6zM243.2 1069.1l5.6 5.6l-5.6 5.6l-5.6 -5.6zM230.5 1027.4l5.6 5.6l-5.6 5.6l-5.6 -5.6zM197.2 1083.1l5.6 5.6l-5.6 5.6l-5.6 -5.6zM324.8 1051.7l5.6 5.6l-5.6 5.6l-5.6 -5.6zM321.6 1039.0l5.6 5.6l-5.6 5.6l-5.6 -5.6zM267.5 1092.5l5.6 5.6l-5.6 5.6l-5.6 -5.6zM208.8 1077.3l5.6 5.6l-5.6 5.6l-5.6 -5.6zM199.2 1083.4l5.6 5.6l-5.6 5.6l-5.6 -5.6zM260.8 1073.7l5.6 5.6l-5.6 5.6l-5.6 -5.6zM263.8 1053.3l5.6 5.6l-5.6 5.6l-5.6 -5.6zM223.1 1070.7l5.6 5.6l-5.6 5.6l-5.6 -5.6zM223.3 1033.1l5.6 5.6l-5.6 5.6l-5.6 -5.6zM256.9 1072.4l5.6 5.6l-5.6 5.6l-5.6 -5.6zM231.6 1091.4l5.6 5.6l-5.6 5.6l-5.6 -5.6zM209.7 1051.2l5.6 5.6l-5.6 5.6l-5.6 -5.6zM228.1 1080.1l5.6 5.6l-5.6 5.6l-5.6 -5.6zM271.2 1101.9l5.6 5.6l-5.6 5.6l-5.6 -5.6zM210.2 1068.4l5.6 5.6l-5.6 5.6l-5.6 -5.6zM189.8 1061.2l5.6 5.6l-5.6 5.6l-5.6 -5.6zM221.3 1066.2l5.6 5.6l-5.6 5.6l-5.6 -5.6zM205.9 1013.9l5.6 5.6l-5.6 5.6l-5.6 -5.6zM191.3 1067.1l5.6 5.6l-5.6 5.6l-5.6 -5.6zM215.3 1126.0l5.6 5.6l-5.6 5.6l-5.6 -5.6zM240.7 1034.3l5.6 5.6l-5.6 5.6l-5.6 -5.6zM326.5 1068.4l5.6 5.6l-5.6 5.6l-5.6 -5.6zM283.1 1029.0l5.6 5.6l-5.6 5.6l-5.6 -5.6zM280.8 1010.0l5.6 5.6l-5.6 5.6l-5.6 -5.6zM285.1 1073.8l5.6 5.6l-5.6 5.6l-5.6 -5.6zM207.4 1044.1l5.6 5.6l-5.6 5.6l-5.6 -5.6zM205.5 1065.6l5.6 5.6l-5.6 5.6l-5.6 -5.6zM282.7 1023.4l5.6 5.6l-5.6 5.6l-5.6 -5.6zM260.0 1034.8l5.6 5.6l-5.6 5.6l-5.6 -5.6zM226.4 1029.7l5.6 5.6l-5.6 5.6l-5.6 -5.6zM234.1 1074.8l5.6 5.6l-5.6 5.6l-5.6 -5.6zM241.1 1060.7l5.6 5.6l-5.6 5.6l-5.6 -5.6zM237.8 1016.3l5.6 5.6l-5.6 5.6l-5.6 -5.6zM239.7 1075.1l5.6 5.6l-5.6 5.6l-5.6 -5.6zM193.1 1091.9l5.6 5.6l-5.6 5.6l-5.6 -5.6zM243.3 1050.0l5.6 5.6l-5.6 5.6l-5.6 -5.6zM243.4 1049.0l5.6 5.6l-5.6 5.6l-5.6 -5.6zM242.9 1069.0l5.6 5.6l-5.6 5.6l-5.6 -5.6zM226.7 1057.1l5.6 5.6l-5.6 5.6l-5.6 -5.6zM196.2 1072.7l5.6 5.6l-5.6 5.6l-5.6 -5.6zM304.2 1030.2l5.6 5.6l-5.6 5.6l-5.6 -5.6zM280.9 994.4l5.6 5.6l-5.6 5.6l-5.6 -5.6zM212.1 1065.1l5.6 5.6l-5.6 5.6l-5.6 -5.6zM243.1 1071.4l5.6 5.6l-5.6 5.6l-5.6 -5.6zM188.9 1079.1l5.6 5.6l-5.6 5.6l-5.6 -5.6zM263.2 1073.2l5.6 5.6l-5.6 5.6l-5.6 -5.6zM324.2 1019.3l5.6 5.6l-5.6 5.6l-5.6 -5.6zM263.3 1057.4l5.6 5.6l-5.6 5.6l-5.6 -5.6zM200.2 1052.4l5.6 5.6l-5.6 5.6l-5.6 -5.6zM236.2 1058.1l5.6 5.6l-5.6 5.6l-5.6 -5.6zM288.4 1039.4l5.6 5.6l-5.6 5.6l-5.6 -5.6zM207.3 927.1l5.6 5.6l-5.6 5.6l-5.6 -5.6zM214.5 967.1l5.6 5.6l-5.6 5.6l-5.6 -5.6zM251.8 973.5l5.6 5.6l-5.6 5.6l-5.6 -5.6zM199.1 979.9l5.6 5.6l-5.6 5.6l-5.6 -5.6zM198.2 986.2l5.6 5.6l-5.6 5.6l-5.6 -5.6zM221.8 988.0l5.6 5.6l-5.6 5.6l-5.6 -5.6zM213.6 994.4l5.6 5.6l-5.6 5.6l-5.6 -5.6zM248.2 993.5l5.6 5.6l-5.6 5.6l-5.6 -5.6zM204.5 1001.7l5.6 5.6l-5.6 5.6l-5.6 -5.6zM277.3 1000.8l5.6 5.6l-5.6 5.6l-5.6 -5.6zM236.4 1001.7l5.6 5.6l-5.6 5.6l-5.6 -5.6zM256.4 1001.7l5.6 5.6l-5.6 5.6l-5.6 -5.6zM260.0 1008.9l5.6 5.6l-5.6 5.6l-5.6 -5.6zM196.4 1010.8l5.6 5.6l-5.6 5.6l-5.6 -5.6zM188.2 1023.5l5.6 5.6l-5.6 5.6l-5.6 -5.6zM171.8 1033.9l5.6 5.6l-5.6 5.6l-5.6 -5.6zM179.1 1049.9l5.6 5.6l-5.6 5.6l-5.6 -5.6zM186.4 1059.9l5.6 5.6l-5.6 5.6l-5.6 -5.6zM174.5 1098.0l5.6 5.6l-5.6 5.6l-5.6 -5.6zM187.3 1120.8l5.6 5.6l-5.6 5.6l-5.6 -5.6zM207.3 1139.9l5.6 5.6l-5.6 5.6l-5.6 -5.6zM214.5 1133.4l5.6 5.6l-5.6 5.6l-5.6 -5.6zM247.3 1139.9l5.6 5.6l-5.6 5.6l-5.6 -5.6zM241.8 1123.4l5.6 5.6l-5.6 5.6l-5.6 -5.6zM188.2 1150.8l5.6 5.6l-5.6 5.6l-5.6 -5.6zM189.1 1169.9l5.6 5.6l-5.6 5.6l-5.6 -5.6zM320.0 998.0l5.6 5.6l-5.6 5.6l-5.6 -5.6zM340.9 994.4l5.6 5.6l-5.6 5.6l-5.6 -5.6zM350.9 998.9l5.6 5.6l-5.6 5.6l-5.6 -5.6zM335.5 1071.7l5.6 5.6l-5.6 5.6l-5.6 -5.6zM374.5 1056.2l5.6 5.6l-5.6 5.6l-5.6 -5.6zM314.5 1100.8l5.6 5.6l-5.6 5.6l-5.6 -5.6zM394.5 1008.9l5.6 5.6l-5.6 5.6l-5.6 -5.6zM303.6 1011.7l5.6 5.6l-5.6 5.6l-5.6 -5.6zM276.4 1022.6l5.6 5.6l-5.6 5.6l-5.6 -5.6zM309.0 1015.4l5.6 5.6l-5.6 5.6l-5.6 -5.6zM314.5 1016.2l5.6 5.6l-5.6 5.6l-5.6 -5.6zM347.0 1002.4l5.6 5.6l-5.6 5.6l-5.6 -5.6zM353.0 1006.4l5.6 5.6l-5.6 5.6l-5.6 -5.6zM357.0 997.4l5.6 5.6l-5.6 5.6l-5.6 -5.6zM345.0 1009.4l5.6 5.6l-5.6 5.6l-5.6 -5.6zM228.0 1006.4l5.6 5.6l-5.6 5.6l-5.6 -5.6zM243.0 1009.4l5.6 5.6l-5.6 5.6l-5.6 -5.6zM205.0 1014.4l5.6 5.6l-5.6 5.6l-5.6 -5.6zM215.0 1018.4l5.6 5.6l-5.6 5.6l-5.6 -5.6zM232.0 1014.4l5.6 5.6l-5.6 5.6l-5.6 -5.6zM200.0 1029.4l5.6 5.6l-5.6 5.6l-5.6 -5.6zM195.0 1039.4l5.6 5.6l-5.6 5.6l-5.6 -5.6zM190.0 1079.4l5.6 5.6l-5.6 5.6l-5.6 -5.6zM182.0 1089.4l5.6 5.6l-5.6 5.6l-5.6 -5.6zM199.0 1124.4l5.6 5.6l-5.6 5.6l-5.6 -5.6zM208.0 1114.4l5.6 5.6l-5.6 5.6l-5.6 -5.6zM220.0 1129.4l5.6 5.6l-5.6 5.6l-5.6 -5.6zM232.0 1134.4l5.6 5.6l-5.6 5.6l-5.6 -5.6zM238.0 1144.4l5.6 5.6l-5.6 5.6l-5.6 -5.6zM225.0 1119.4l5.6 5.6l-5.6 5.6l-5.6 -5.6zM262.0 1122.4l5.6 5.6l-5.6 5.6l-5.6 -5.6zM275.0 1112.4l5.6 5.6l-5.6 5.6l-5.6 -5.6zM285.0 1106.4l5.6 5.6l-5.6 5.6l-5.6 -5.6zM300.0 1094.4l5.6 5.6l-5.6 5.6l-5.6 -5.6zM322.0 1084.4l5.6 5.6l-5.6 5.6l-5.6 -5.6zM330.0 1059.4l5.6 5.6l-5.6 5.6l-5.6 -5.6zM362.0 1014.4l5.6 5.6l-5.6 5.6l-5.6 -5.6zM368.0 1024.4l5.6 5.6l-5.6 5.6l-5.6 -5.6zM378.0 1019.4l5.6 5.6l-5.6 5.6l-5.6 -5.6zM385.0 1029.4l5.6 5.6l-5.6 5.6l-5.6 -5.6z" fill="#c80000"/>
<path d="M273.1 1071.6h9v9h-9zM268.1 1074.6h9v9h-9zM260.4 1086.0h9v9h-9zM263.6 1086.2h9v9h-9zM268.0 1086.2h9v9h-9zM199.5 1085.4h9v9h-9zM308.7 1066.3h9v9h-9zM296.1 1066.7h9v9h-9zM280.7 1073.7h9v9h-9zM219.5 1039.8h9v9h-9zM278.6 1088.7h9v9h-9zM254.4 1077.6h9v9h-9zM347.4 1062.8h9v9h-9zM218.0 1068.6h9v9h-9zM332.5 1048.9h9v9h-9zM216.5 1087.4h9v9h-9zM239.2 1088.1h9v9h-9zM244.9 1092.4h9v9h-9zM204.1 1104.7h9v9h-9zM341.1 1072.0h9v9h-9zM213.4 1062.2h9v9h-9zM227.3 1068.4h9v9h-9zM188.6 1100.4h9v9h-9zM284.4 1083.8h9v9h-9zM290.9 1054.6h9v9h-9zM235.1 1068.8h9v9h-9zM232.4 1042.6h9v9h-9zM258.6 1083.1h9v9h-9zM235.8 1112.4h9v9h-9zM302.5 1053.9h9v9h-9zM187.4 1069.7h9v9h-9zM225.3 1044.2h9v9h-9zM346.1 1067.5h9v9h-9zM231.8 1056.2h9v9h-9zM218.8 1084.6h9v9h-9zM224.8 1088.5h9v9h-9zM281.8 1045.7h9v9h-9zM260.5 1055.2h9v9h-9zM290.1 1080.5h9v9h-9zM292.8 1076.8h9v9h-9zM284.2 1049.2h9v9h-9zM293.5 1068.2h9v9h-9zM314.0 1070.9h9v9h-9zM249.7 1111.6h9v9h-9zM262.9 1082.7h9v9h-9zM334.2 1037.3h9v9h-9zM231.5 1047.6h9v9h-9zM250.1 1106.7h9v9h-9zM299.5 1040.0h9v9h-9zM374.2 1058.1h9v9h-9zM270.0 1067.0h9v9h-9zM371.7 1061.7h9v9h-9zM276.7 1036.1h9v9h-9zM257.7 1090.3h9v9h-9zM225.4 1087.3h9v9h-9zM205.4 1108.6h9v9h-9zM288.8 1077.8h9v9h-9zM223.2 1100.7h9v9h-9zM214.5 1112.6h9v9h-9zM243.4 1073.4h9v9h-9zM216.0 1081.8h9v9h-9zM272.2 1039.6h9v9h-9zM194.0 1070.0h9v9h-9zM326.6 1075.0h9v9h-9zM277.0 1057.3h9v9h-9zM355.3 1061.5h9v9h-9zM273.4 1060.1h9v9h-9zM366.6 1046.9h9v9h-9zM238.8 1069.5h9v9h-9zM268.2 1050.4h9v9h-9zM193.4 1055.0h9v9h-9zM294.2 1007.8h9v9h-9zM251.7 1053.2h9v9h-9zM293.1 1055.2h9v9h-9zM340.4 1043.5h9v9h-9zM277.9 1067.9h9v9h-9zM277.5 1091.6h9v9h-9zM208.5 1090.9h9v9h-9zM241.8 1060.7h9v9h-9zM278.1 1082.2h9v9h-9zM227.2 1082.7h9v9h-9zM252.8 1025.3h9v9h-9zM298.9 1069.1h9v9h-9zM272.8 1083.4h9v9h-9zM256.7 1096.3h9v9h-9zM333.5 1056.8h9v9h-9zM310.8 1056.4h9v9h-9zM236.9 1069.6h9v9h-9zM228.1 1091.5h9v9h-9zM222.1 1059.2h9v9h-9zM272.5 1085.9h9v9h-9zM268.4 1077.2h9v9h-9zM182.4 1099.6h9v9h-9zM282.8 1080.3h9v9h-9zM368.9 1058.7h9v9h-9zM290.5 1036.1h9v9h-9zM289.3 1067.2h9v9h-9zM347.1 1041.6h9v9h-9zM226.9 1102.1h9v9h-9zM248.5 1036.2h9v9h-9zM244.0 1069.2h9v9h-9zM375.3 1042.4h9v9h-9zM285.6 1085.5h9v9h-9zM251.6 1082.4h9v9h-9zM309.3 1060.8h9v9h-9zM183.3 1089.6h9v9h-9zM259.5 1094.2h9v9h-9zM214.1 1065.8h9v9h-9zM295.0 1080.3h9v9h-9zM305.3 1047.6h9v9h-9zM273.2 1071.7h9v9h-9zM330.3 1054.1h9v9h-9zM215.6 1106.7h9v9h-9zM314.6 1086.6h9v9h-9zM345.4 1063.9h9v9h-9zM206.7 1107.9h9v9h-9zM331.1 1060.7h9v9h-9zM378.5 1037.3h9v9h-9zM297.8 1045.9h9v9h-9zM270.6 1060.6h9v9h-9zM276.8 1050.1h9v9h-9zM272.2 1089.4h9v9h-9zM257.0 1041.5h9v9h-9zM224.6 1076.7h9v9h-9zM357.2 1053.7h9v9h-9zM229.0 1086.1h9v9h-9zM246.5 1104.6h9v9h-9zM224.8 1105.3h9v9h-9zM268.6 1082.5h9v9h-9zM290.8 1066.1h9v9h-9zM191.3 1104.1h9v9h-9zM272.6 1078.8h9v9h-9zM292.8 1018.2h9v9h-9zM203.9 1107.5h9v9h-9zM248.7 1059.2h9v9h-9zM235.1 1104.1h9v9h-9zM221.8 1071.8h9v9h-9zM212.8 1074.4h9v9h-9zM219.2 1110.6h9v9h-9zM262.7 1033.3h9v9h-9zM221.4 1107.6h9v9h-9zM365.8 1059.1h9v9h-9zM235.3 1066.0h9v9h-9zM258.4 1099.6h9v9h-9zM236.8 1050.2h9v9h-9zM274.0 1083.1h9v9h-9zM307.0 1099.6h9v9h-9zM280.8 1055.7h9v9h-9zM190.5 1105.1h9v9h-9zM246.3 1092.5h9v9h-9zM207.2 1058.0h9v9h-9zM253.4 1065.2h9v9h-9zM222.4 1079.7h9v9h-9zM279.1 1050.2h9v9h-9zM251.6 1069.0h9v9h-9zM238.8 1055.6h9v9h-9zM196.3 1070.0h9v9h-9zM225.9 1091.7h9v9h-9zM247.3 1079.8h9v9h-9zM186.6 1056.5h9v9h-9zM314.2 1087.3h9v9h-9zM189.3 1119.3h9v9h-9zM264.2 1056.7h9v9h-9zM211.5 1056.7h9v9h-9zM275.5 1029.0h9v9h-9zM222.4 1072.7h9v9h-9zM366.9 1028.3h9v9h-9zM272.7 1021.3h9v9h-9zM285.7 1084.6h9v9h-9zM228.9 1096.9h9v9h-9zM248.0 1079.7h9v9h-9zM274.5 1084.0h9v9h-9zM356.4 1075.9h9v9h-9zM244.1 1091.1h9v9h-9zM263.0 1052.2h9v9h-9zM296.9 1094.1h9v9h-9zM221.1 1122.9h9v9h-9zM216.4 1100.2h9v9h-9zM206.3 1077.1h9v9h-9zM269.0 1055.3h9v9h-9zM227.2 1088.1h9v9h-9zM211.0 1097.8h9v9h-9zM279.6 1066.0h9v9h-9zM295.4 1068.0h9v9h-9zM324.7 1062.2h9v9h-9zM211.5 1104.7h9v9h-9zM257.0 1068.2h9v9h-9zM273.9 1080.2h9v9h-9zM269.1 1077.6h9v9h-9zM228.4 1058.8h9v9h-9zM330.9 1045.1h9v9h-9zM287.3 1067.5h9v9h-9zM295.6 1059.8h9v9h-9zM249.3 1099.6h9v9h-9zM300.2 1052.7h9v9h-9zM237.4 1061.7h9v9h-9zM241.0 1102.4h9v9h-9zM208.0 1066.1h9v9h-9zM353.0 1073.7h9v9h-9zM252.3 1073.2h9v9h-9zM223.8 1085.7h9v9h-9zM272.2 1101.9h9v9h-9zM264.0 1077.7h9v9h-9zM270.2 1096.7h9v9h-9zM248.8 1053.0h9v9h-9zM230.8 1074.4h9v9h-9zM319.3 1067.0h9v9h-9zM197.6 1097.8h9v9h-9zM326.6 1052.1h9v9h-9zM215.0 1068.3h9v9h-9zM233.5 1079.8h9v9h-9zM227.9 1124.7h9v9h-9zM289.4 1063.7h9v9h-9zM308.8 1036.9h9v9h-9zM228.2 1099.8h9v9h-9zM200.8 1091.9h9v9h-9zM324.2 1061.4h9v9h-9zM202.3 1091.7h9v9h-9zM213.6 1117.9h9v9h-9zM227.0 1078.9h9v9h-9zM251.5 1068.9h9v9h-9zM244.1 1086.7h9v9h-9zM213.5 1099.8h9v9h-9zM239.5 1081.8h9v9h-9zM276.4 1080.8h9v9h-9zM273.1 1063.5h9v9h-9zM287.0 1057.0h9v9h-9zM260.6 1056.7h9v9h-9zM225.3 1089.9h9v9h-9zM251.6 1074.9h9v9h-9zM259.5 1061.5h9v9h-9zM319.5 1076.1h9v9h-9zM232.4 1092.0h9v9h-9zM214.5 1125.2h9v9h-9zM213.6 1081.6h9v9h-9zM217.5 1057.2h9v9h-9zM320.0 1042.8h9v9h-9zM357.9 1057.0h9v9h-9zM365.5 1037.8h9v9h-9zM316.8 1024.4h9v9h-9zM260.6 1076.0h9v9h-9zM265.1 1050.9h9v9h-9zM279.1 1077.9h9v9h-9zM231.1 1069.6h9v9h-9zM249.8 1091.1h9v9h-9zM217.6 1106.8h9v9h-9zM257.6 1098.9h9v9h-9zM314.2 1086.6h9v9h-9zM197.8 1063.0h9v9h-9zM261.1 1108.4h9v9h-9zM252.9 1059.2h9v9h-9zM277.9 1052.5h9v9h-9zM285.0 1092.4h9v9h-9zM206.9 1070.7h9v9h-9zM313.5 1080.0h9v9h-9zM354.0 1037.1h9v9h-9zM332.0 1067.9h9v9h-9zM264.3 1083.5h9v9h-9zM251.1 1094.8h9v9h-9zM320.5 1069.1h9v9h-9zM251.9 1092.8h9v9h-9zM222.1 1066.9h9v9h-9zM262.3 1053.0h9v9h-9zM219.8 1076.5h9v9h-9zM342.2 1080.0h9v9h-9zM268.6 1045.3h9v9h-9zM205.7 1094.5h9v9h-9zM260.9 1084.5h9v9h-9zM276.6 1080.2h9v9h-9zM215.8 1049.3h9v9h-9zM309.5 1058.5h9v9h-9zM288.0 1064.3h9v9h-9zM217.7 1069.0h9v9h-9zM260.8 1054.6h9v9h-9zM237.4 1088.8h9v9h-9zM294.1 1022.8h9v9h-9zM242.8 1046.8h9v9h-9zM219.5 1085.3h9v9h-9zM243.8 1064.8h9v9h-9zM226.7 1076.8h9v9h-9zM319.8 1069.8h9v9h-9zM255.8 1055.4h9v9h-9zM241.6 1076.2h9v9h-9zM234.6 1089.5h9v9h-9zM272.5 1089.0h9v9h-9zM183.2 1120.8h9v9h-9zM205.4 1103.9h9v9h-9zM213.2 1087.2h9v9h-9zM354.9 1042.1h9v9h-9zM214.9 1113.6h9v9h-9zM262.0 1100.2h9v9h-9zM206.5 1104.2h9v9h-9zM254.8 1079.8h9v9h-9zM284.2 1048.0h9v9h-9zM226.7 1097.5h9v9h-9zM301.4 1072.9h9v9h-9zM266.0 1054.6h9v9h-9zM249.9 1070.3h9v9h-9zM207.4 1095.0h9v9h-9zM277.7 1082.3h9v9h-9zM187.4 1110.8h9v9h-9zM214.3 1045.4h9v9h-9zM272.7 1044.7h9v9h-9zM274.0 1088.8h9v9h-9zM303.5 1055.8h9v9h-9zM340.4 1051.9h9v9h-9zM219.5 1081.3h9v9h-9zM205.4 1114.6h9v9h-9zM264.7 1089.5h9v9h-9zM276.6 1047.1h9v9h-9zM234.0 1082.6h9v9h-9zM232.7 1084.4h9v9h-9zM353.5 1067.4h9v9h-9zM274.8 1076.5h9v9h-9zM279.7 1069.9h9v9h-9zM231.5 1042.7h9v9h-9zM334.8 1080.5h9v9h-9zM271.0 1058.3h9v9h-9zM238.3 1092.1h9v9h-9zM376.4 1049.8h9v9h-9zM213.2 1121.6h9v9h-9zM254.9 1070.9h9v9h-9zM204.5 1082.2h9v9h-9zM233.0 1091.3h9v9h-9zM315.0 1064.1h9v9h-9zM252.2 1093.9h9v9h-9zM320.7 1052.6h9v9h-9zM194.1 1064.3h9v9h-9zM190.2 1090.9h9v9h-9zM266.1 1078.1h9v9h-9zM212.3 1050.0h9v9h-9zM236.2 1099.1h9v9h-9zM210.6 1071.5h9v9h-9zM274.8 1075.8h9v9h-9zM256.0 1053.1h9v9h-9zM204.9 1096.2h9v9h-9zM286.8 1098.3h9v9h-9zM225.4 1073.5h9v9h-9zM230.8 1056.7h9v9h-9zM283.8 1037.2h9v9h-9zM228.4 1065.0h9v9h-9zM292.0 1061.2h9v9h-9zM187.4 1075.4h9v9h-9zM350.1 1037.2h9v9h-9zM249.9 1069.4h9v9h-9zM208.9 1120.4h9v9h-9zM299.3 1099.1h9v9h-9zM206.9 1070.7h9v9h-9zM228.3 1083.0h9v9h-9zM361.8 1062.8h9v9h-9zM223.0 1079.6h9v9h-9zM258.2 1079.0h9v9h-9zM225.6 1094.8h9v9h-9zM293.8 1059.1h9v9h-9zM348.9 1076.0h9v9h-9zM268.7 1047.9h9v9h-9zM279.9 1108.6h9v9h-9zM227.0 1062.2h9v9h-9zM259.1 1089.2h9v9h-9zM216.5 1110.9h9v9h-9zM229.3 1067.1h9v9h-9zM253.4 1049.4h9v9h-9zM206.9 1095.5h9v9h-9zM199.1 1089.7h9v9h-9zM241.9 1075.9h9v9h-9zM218.2 1055.8h9v9h-9zM276.5 1060.4h9v9h-9zM239.6 1108.8h9v9h-9zM279.4 1063.6h9v9h-9zM219.7 1117.7h9v9h-9zM220.3 1090.9h9v9h-9zM283.9 1093.1h9v9h-9zM345.9 1044.4h9v9h-9zM205.3 1076.9h9v9h-9zM209.0 1055.4h9v9h-9zM270.8 1064.7h9v9h-9zM272.3 1066.2h9v9h-9zM271.1 1081.0h9v9h-9zM339.5 1074.2h9v9h-9zM203.5 1086.8h9v9h-9zM238.9 1114.1h9v9h-9zM340.3 1048.7h9v9h-9zM235.4 1045.6h9v9h-9zM251.1 1079.8h9v9h-9zM277.1 1065.6h9v9h-9zM247.5 1091.3h9v9h-9zM362.4 1042.9h9v9h-9zM207.3 1103.2h9v9h-9zM213.8 1062.4h9v9h-9zM236.3 1088.2h9v9h-9zM271.1 1068.8h9v9h-9zM211.8 1117.1h9v9h-9zM318.4 1066.5h9v9h-9zM274.0 1071.6h9v9h-9zM284.2 1057.9h9v9h-9zM197.5 1111.7h9v9h-9zM251.9 1061.3h9v9h-9zM241.9 1103.1h9v9h-9zM231.5 1109.2h9v9h-9zM236.2 1080.6h9v9h-9zM220.4 1089.8h9v9h-9zM321.6 1063.4h9v9h-9zM239.9 1077.0h9v9h-9zM208.0 1105.8h9v9h-9zM203.8 1045.9h9v9h-9zM257.7 1059.7h9v9h-9zM200.5 1117.2h9v9h-9zM212.2 1089.7h9v9h-9zM199.6 1086.6h9v9h-9zM216.6 1098.7h9v9h-9zM374.9 1072.9h9v9h-9zM307.8 1057.8h9v9h-9zM217.9 1045.3h9v9h-9zM219.2 1078.2h9v9h-9zM325.8 1042.5h9v9h-9zM236.4 1101.0h9v9h-9zM242.7 1066.5h9v9h-9zM248.7 1064.4h9v9h-9zM281.1 1074.5h9v9h-9zM236.9 1058.5h9v9h-9zM287.5 1054.0h9v9h-9zM206.2 1092.2h9v9h-9zM349.1 1054.1h9v9h-9zM291.4 1083.8h9v9h-9zM275.7 1070.5h9v9h-9zM195.0 1086.3h9v9h-9zM323.5 1058.4h9v9h-9zM219.2 1084.7h9v9h-9zM284.5 1020.0h9v9h-9zM363.0 1046.2h9v9h-9zM306.1 1049.7h9v9h-9zM264.3 1084.8h9v9h-9zM225.0 1071.7h9v9h-9zM268.0 1079.8h9v9h-9zM256.9 1105.2h9v9h-9zM192.6 1067.0h9v9h-9zM293.6 1055.0h9v9h-9zM295.5 1089.2h9v9h-9zM294.1 1039.7h9v9h-9zM297.6 1075.1h9v9h-9zM311.4 1072.1h9v9h-9zM273.7 1028.9h9v9h-9zM188.1 1120.2h9v9h-9zM267.4 1084.3h9v9h-9zM250.4 1068.7h9v9h-9zM242.9 1075.4h9v9h-9zM296.7 1055.4h9v9h-9zM209.1 1043.3h9v9h-9zM235.0 1084.0h9v9h-9zM279.4 1078.3h9v9h-9zM251.1 1093.4h9v9h-9zM257.5 1109.6h9v9h-9zM281.2 1072.5h9v9h-9zM263.7 1119.0h9v9h-9zM284.0 1064.6h9v9h-9zM226.5 1107.2h9v9h-9zM234.8 1079.2h9v9h-9zM308.0 1048.1h9v9h-9zM225.8 1072.3h9v9h-9zM215.0 1071.9h9v9h-9zM252.0 1071.9h9v9h-9zM299.9 1041.0h9v9h-9zM232.6 1107.6h9v9h-9zM282.7 1056.3h9v9h-9zM254.6 1104.8h9v9h-9zM263.3 1095.5h9v9h-9zM295.2 1053.6h9v9h-9zM247.4 1110.6h9v9h-9zM255.0 1116.0h9v9h-9zM262.8 1075.7h9v9h-9zM311.0 1077.5h9v9h-9zM340.4 1082.5h9v9h-9zM201.9 1068.6h9v9h-9zM218.1 1088.8h9v9h-9zM245.7 1020.2h9v9h-9zM283.2 1115.5h9v9h-9zM241.3 1081.5h9v9h-9zM276.0 1058.9h9v9h-9zM252.2 1063.8h9v9h-9zM240.3 1095.7h9v9h-9zM204.0 1107.8h9v9h-9zM277.6 1075.9h9v9h-9zM232.1 1088.7h9v9h-9zM363.4 1049.5h9v9h-9zM213.8 1098.7h9v9h-9zM239.3 1052.0h9v9h-9zM242.6 1076.1h9v9h-9zM230.0 1066.6h9v9h-9zM297.1 1045.0h9v9h-9zM302.4 1084.8h9v9h-9zM222.0 1083.4h9v9h-9zM289.5 1075.8h9v9h-9zM254.2 1107.1h9v9h-9zM244.3 1058.4h9v9h-9zM309.0 1018.7h9v9h-9zM240.5 1088.7h9v9h-9zM255.6 1059.3h9v9h-9zM241.7 1049.0h9v9h-9zM288.4 1073.1h9v9h-9zM215.4 1052.6h9v9h-9zM309.2 1095.6h9v9h-9zM289.0 1079.8h9v9h-9zM234.6 1123.5h9v9h-9zM292.0 1067.3h9v9h-9zM227.0 1088.1h9v9h-9zM230.8 1102.0h9v9h-9zM251.5 1056.1h9v9h-9zM206.6 1120.2h9v9h-9zM297.1 1037.4h9v9h-9zM254.9 1052.0h9v9h-9zM261.4 1080.8h9v9h-9zM285.6 1093.7h9v9h-9zM206.2 1080.3h9v9h-9zM254.6 1059.1h9v9h-9zM264.8 1096.1h9v9h-9zM235.6 1073.2h9v9h-9zM311.4 1108.9h9v9h-9zM303.5 1061.2h9v9h-9zM287.7 1083.3h9v9h-9zM302.6 1073.6h9v9h-9zM230.8 1090.1h9v9h-9zM269.6 1104.8h9v9h-9zM229.5 1096.5h9v9h-9zM260.3 1063.6h9v9h-9zM312.7 1058.9h9v9h-9zM288.4 1087.4h9v9h-9zM240.9 1022.3h9v9h-9zM225.1 1090.9h9v9h-9zM233.1 1114.6h9v9h-9zM253.0 1104.6h9v9h-9zM208.6 1042.1h9v9h-9zM199.3 1098.3h9v9h-9zM268.9 1083.4h9v9h-9zM293.3 1073.9h9v9h-9zM264.4 1062.3h9v9h-9zM289.2 1094.0h9v9h-9zM194.1 1111.7h9v9h-9zM265.6 1099.8h9v9h-9zM260.3 1052.5h9v9h-9zM220.6 1110.9h9v9h-9zM319.2 1079.1h9v9h-9zM248.0 1041.4h9v9h-9zM200.8 1085.7h9v9h-9zM246.7 1076.7h9v9h-9zM256.0 1066.7h9v9h-9zM240.3 1092.0h9v9h-9zM215.3 1108.0h9v9h-9zM348.1 1044.7h9v9h-9zM321.5 1058.0h9v9h-9zM277.1 1056.5h9v9h-9zM232.9 1071.5h9v9h-9zM206.0 1101.4h9v9h-9zM210.2 1058.3h9v9h-9zM375.0 1038.5h9v9h-9zM215.8 1123.4h9v9h-9zM238.2 1095.8h9v9h-9zM328.2 1066.7h9v9h-9zM212.9 1100.3h9v9h-9zM219.7 1099.6h9v9h-9zM306.6 1026.6h9v9h-9zM275.5 955.5h9v9h-9zM181.0 981.0h9v9h-9zM240.0 979.1h9v9h-9zM226.8 990.0h9v9h-9zM221.0 1004.5h9v9h-9zM264.5 1003.5h9v9h-9zM313.7 1004.5h9v9h-9zM347.9 987.3h9v9h-9zM353.7 994.5h9v9h-9zM364.5 996.5h9v9h-9zM384.5 1005.5h9v9h-9zM399.1 1016.5h9v9h-9zM406.5 1021.5h9v9h-9zM404.5 1016.5h9v9h-9zM408.2 1023.5h9v9h-9zM179.1 1135.5h9v9h-9zM179.1 1156.5h9v9h-9zM202.8 1150.5h9v9h-9zM202.8 1158.5h9v9h-9zM184.5 1173.5h9v9h-9zM184.5 1181.5h9v9h-9zM283.7 1136.5h9v9h-9zM305.5 1132.5h9v9h-9zM294.5 1142.5h9v9h-9zM282.8 1155.5h9v9h-9zM266.5 1121.5h9v9h-9zM322.5 1118.2h9v9h-9zM326.5 1120.0h9v9h-9zM342.5 1103.5h9v9h-9zM368.2 1094.5h9v9h-9zM371.9 1084.5h9v9h-9zM395.5 1081.0h9v9h-9zM388.2 1074.5h9v9h-9zM359.1 1067.3h9v9h-9zM364.5 1072.5h9v9h-9zM379.1 1065.5h9v9h-9zM388.2 1060.0h9v9h-9zM382.5 1061.0h9v9h-9zM341.0 1061.0h9v9h-9zM317.3 1105.5h9v9h-9zM328.2 1089.1h9v9h-9zM319.1 1105.5h9v9h-9zM420.0 997.7h9v9h-9zM426.8 1021.3h9v9h-9zM448.2 1074.5h9v9h-9zM501.0 1038.2h9v9h-9zM413.5 1037.3h9v9h-9zM339.1 1011.9h9v9h-9zM351.5 1014.5h9v9h-9zM367.5 1012.5h9v9h-9zM373.5 1019.5h9v9h-9zM357.3 1065.5h9v9h-9zM378.2 1069.1h9v9h-9zM386.5 1075.5h9v9h-9zM217.5 1138.5h9v9h-9zM223.5 1145.5h9v9h-9zM229.5 1150.5h9v9h-9zM235.5 1142.5h9v9h-9zM241.5 1146.5h9v9h-9zM227.5 1141.5h9v9h-9zM233.5 1136.5h9v9h-9zM220.5 1132.5h9v9h-9zM239.5 1138.5h9v9h-9zM211.5 1127.5h9v9h-9zM205.5 1123.5h9v9h-9zM193.5 1117.5h9v9h-9zM187.5 1113.5h9v9h-9zM199.5 1121.5h9v9h-9zM295.5 1143.5h9v9h-9zM305.5 1133.7h9v9h-9zM311.5 1123.5h9v9h-9zM299.5 1115.5h9v9h-9zM289.5 1119.5h9v9h-9zM275.5 1125.5h9v9h-9zM261.5 1117.5h9v9h-9zM333.5 1095.5h9v9h-9zM347.5 1085.5h9v9h-9zM335.5 1077.5h9v9h-9zM353.5 1079.5h9v9h-9zM361.5 1087.5h9v9h-9zM325.5 1025.5h9v9h-9zM333.5 1019.5h9v9h-9zM343.5 1025.5h9v9h-9zM355.5 1031.5h9v9h-9zM365.5 1035.5h9v9h-9zM375.5 1041.5h9v9h-9zM387.5 1039.5h9v9h-9zM395.5 1035.5h9v9h-9zM317.5 1017.5h9v9h-9zM307.5 1023.5h9v9h-9zM297.5 1019.5h9v9h-9zM287.5 1023.5h9v9h-9zM277.5 1017.5h9v9h-9zM267.5 1025.5h9v9h-9zM257.5 1019.5h9v9h-9zM247.5 1025.5h9v9h-9zM237.5 1021.5h9v9h-9zM227.5 1027.5h9v9h-9zM217.5 1023.5h9v9h-9zM207.5 1029.5h9v9h-9zM199.5 1025.5h9v9h-9zM191.5 1035.5h9v9h-9zM195.5 1047.5h9v9h-9zM187.5 1057.5h9v9h-9zM191.5 1070.5h9v9h-9zM185.5 1065.5h9v9h-9z" fill="#1f4482"/>
<path d="M169.0 1093.5 L173.0 1090.6 L177.0 1087.9 L181.0 1085.4 L185.0 1083.2 L189.0 1081.1 L193.0 1079.2 L197.0 1077.4 L201.0 1075.7 L205.0 1074.1 L209.0 1072.5 L213.0 1071.1 L217.0 1069.7 L221.0 1068.4 L225.0 1067.2 L229.0 1066.0 L233.0 1064.9 L237.0 1063.8 L241.0 1062.7 L245.0 1061.7 L249.0 1060.7 L253.0 1059.8 L257.0 1058.9 L261.0 1058.0 L265.0 1057.1 L269.0 1056.3 L273.0 1055.5 L277.0 1054.7 L281.0 1053.9 L285.0 1053.2 L289.0 1052.5 L293.0 1051.8 L297.0 1051.1 L301.0 1050.4 L305.0 1049.7 L309.0 1049.1 L313.0 1048.5 L317.0 1047.9 L321.0 1047.3 L325.0 1046.7 L329.0 1046.1 L333.0 1045.5 L337.0 1045.0 L341.0 1044.4 L345.0 1043.9 L349.0 1043.4 L353.0 1042.9 L357.0 1042.4 L361.0 1041.9 L365.0 1041.4 L369.0 1040.9 L373.0 1040.5 L377.0 1040.0 L381.0 1039.5 L385.0 1039.1 L389.0 1038.7 L393.0 1038.2 L397.0 1037.8" fill="none" stroke="#cd0000" stroke-width="9" stroke-linecap="round" stroke-linejoin="round"/>
<path d="M183.6 1107.5 L187.6 1104.8 L191.6 1102.3 L195.6 1100.0 L199.6 1097.8 L203.6 1095.8 L207.6 1093.8 L211.6 1092.0 L215.6 1090.3 L219.6 1088.6 L223.6 1087.0 L227.6 1085.5 L231.6 1084.1 L235.6 1082.7 L239.6 1081.3 L243.6 1080.0 L247.6 1078.8 L251.6 1077.6 L255.6 1076.4 L259.6 1075.3 L263.6 1074.2 L267.6 1073.1 L271.6 1072.1 L275.6 1071.1 L279.6 1070.2 L283.6 1069.2 L287.6 1068.3 L291.6 1067.4 L295.6 1066.5 L299.6 1065.7 L303.6 1064.8 L307.6 1064.0 L311.6 1063.2 L315.6 1062.5 L319.6 1061.7 L323.6 1061.0 L327.6 1060.2 L331.6 1059.5 L335.6 1058.8 L339.6 1058.1 L343.6 1057.5 L347.6 1056.8 L351.6 1056.2 L355.6 1055.5 L359.6 1054.9 L363.6 1054.3 L367.6 1053.7 L371.6 1053.1 L375.6 1052.5 L379.6 1052.0 L383.6 1051.4 L387.6 1050.8 L391.6 1050.3 L395.6 1049.8 L399.6 1049.2 L403.6 1048.7 L407.6 1048.2 L411.6 1047.7 L415.6 1047.2 L419.6 1046.7 L423.6 1046.2 L427.6 1045.7 L431.6 1045.3 L435.6 1044.8 L439.6 1044.3 L443.6 1043.9 L447.6 1043.4 L451.6 1043.0 L455.6 1042.6 L459.6 1042.1 L463.6 1041.7 L467.6 1041.3 L471.6 1040.9 L475.6 1040.5 L479.6 1040.1 L483.6 1039.7 L487.6 1039.3 L491.6 1038.9 L495.6 1038.5 L499.6 1038.1 L503.6 1037.7" fill="none" stroke="#1b3664" stroke-width="8.2" stroke-linecap="round" stroke-linejoin="round"/>
<line x1="133.5" y1="932.0" x2="133.5" y2="1255.4" stroke="#868686" stroke-width="2.6" stroke-linecap="butt"/>
<line x1="132.2" y1="1246.4" x2="538.3" y2="1246.4" stroke="#868686" stroke-width="2.6" stroke-linecap="butt"/>
<line x1="133.5" y1="933.0" x2="143.5" y2="933.0" stroke="#868686" stroke-width="2.4" stroke-linecap="butt"/>
<line x1="133.5" y1="1037.5" x2="143.5" y2="1037.5" stroke="#868686" stroke-width="2.4" stroke-linecap="butt"/>
<line x1="133.5" y1="1142.0" x2="143.5" y2="1142.0" stroke="#868686" stroke-width="2.4" stroke-linecap="butt"/>
<line x1="335.0" y1="1246.4" x2="335.0" y2="1255.4" stroke="#868686" stroke-width="2.4" stroke-linecap="butt"/>
<line x1="537.0" y1="1246.4" x2="537.0" y2="1255.4" stroke="#868686" stroke-width="2.4" stroke-linecap="butt"/>
<text x="23.0" y="935.5" font-size="36" font-weight="bold" text-anchor="start" fill="#000">(B)</text>
<text x="104.0" y="943.3" font-size="30.5" text-anchor="end" fill="#000">1</text>
<text x="106.5" y="1047.8" font-size="30.5" text-anchor="end" fill="#000">0.8</text>
<text x="106.5" y="1152.3" font-size="30.5" text-anchor="end" fill="#000">0.6</text>
<text x="106.5" y="1256.7" font-size="30.5" text-anchor="end" fill="#000">0.4</text>
<text x="133.5" y="1295.2" font-size="30.5" text-anchor="middle" fill="#000">0</text>
<text x="335.5" y="1295.2" font-size="30.5" text-anchor="middle" fill="#000">5</text>
<text x="537.0" y="1295.2" font-size="30.5" text-anchor="middle" fill="#000">10</text>
<text x="333.5" y="1320.2" font-size="31" font-weight="bold" text-anchor="middle" fill="#000">Axon diameter (µm)</text>
<text x="28.4" y="1085.7" font-size="31" font-weight="bold" text-anchor="middle" fill="#000" transform="rotate(-90 28.4 1085.7)">g-ratio</text>
<rect x="-3.9" y="-3.9" width="7.8" height="7.8" fill="#c80000" transform="translate(267.3 1161) rotate(45)"/>
<rect x="262.8" y="1214.5" width="9.0" height="9.0" fill="#1f4482"/>
<text x="281.0" y="1170.0" font-size="31" text-anchor="start" fill="#000">Crush+pCK</text>
<text x="281.0" y="1227.5" font-size="31" text-anchor="start" fill="#000">Crush+pCK-HGF-X7</text>
</g>
<g id="bar2">
<rect x="719.2" y="1083.2" width="82.2" height="159.5" fill="#000"/>
<rect x="836.5" y="1151.8" width="82.0" height="90.9" fill="#a1a0a5"/>
<line x1="760.9" y1="1076.7" x2="760.9" y2="1084.0" stroke="#000" stroke-width="2.4" stroke-linecap="butt"/>
<line x1="741.5" y1="1076.7" x2="779.5" y2="1076.7" stroke="#000" stroke-width="2.4" stroke-linecap="butt"/>
<line x1="877.8" y1="1142.6" x2="877.8" y2="1152.5" stroke="#000" stroke-width="2.4" stroke-linecap="butt"/>
<line x1="858.4" y1="1142.6" x2="896.9" y2="1142.6" stroke="#000" stroke-width="2.4" stroke-linecap="butt"/>
<line x1="682.6" y1="955.6" x2="682.6" y2="1243.9" stroke="#000" stroke-width="2.4" stroke-linecap="butt"/>
<line x1="681.4" y1="1242.7" x2="956.0" y2="1242.7" stroke="#000" stroke-width="2.4" stroke-linecap="butt"/>
<line x1="674.4" y1="956.7" x2="682.6" y2="956.7" stroke="#000" stroke-width="2.4" stroke-linecap="butt"/>
<text x="670.5" y="964.0" font-size="21" font-weight="bold" text-anchor="end" fill="#000">0.80</text>
<line x1="674.4" y1="1013.9" x2="682.6" y2="1013.9" stroke="#000" stroke-width="2.4" stroke-linecap="butt"/>
<text x="670.5" y="1021.2" font-size="21" font-weight="bold" text-anchor="end" fill="#000">0.78</text>
<line x1="674.4" y1="1071.1" x2="682.6" y2="1071.1" stroke="#000" stroke-width="2.4" stroke-linecap="butt"/>
<text x="670.5" y="1078.4" font-size="21" font-weight="bold" text-anchor="end" fill="#000">0.76</text>
<line x1="674.4" y1="1128.3" x2="682.6" y2="1128.3" stroke="#000" stroke-width="2.4" stroke-linecap="butt"/>
<text x="670.5" y="1135.6" font-size="21" font-weight="bold" text-anchor="end" fill="#000">0.74</text>
<line x1="674.4" y1="1185.5" x2="682.6" y2="1185.5" stroke="#000" stroke-width="2.4" stroke-linecap="butt"/>
<text x="670.5" y="1192.8" font-size="21" font-weight="bold" text-anchor="end" fill="#000">0.72</text>
<line x1="674.4" y1="1242.7" x2="682.6" y2="1242.7" stroke="#000" stroke-width="2.4" stroke-linecap="butt"/>
<text x="670.5" y="1250.0" font-size="21" font-weight="bold" text-anchor="end" fill="#000">0.70</text>
<line x1="760.9" y1="1242.7" x2="760.9" y2="1250.5" stroke="#000" stroke-width="2.4" stroke-linecap="butt"/>
<line x1="877.8" y1="1242.7" x2="877.8" y2="1250.5" stroke="#000" stroke-width="2.4" stroke-linecap="butt"/>
<path d="M759 1058.5 V1017.8 H878.5 V1124" fill="none" stroke="#000" stroke-width="1.1"/>
<text x="820.0" y="1019.5" font-size="24.5" text-anchor="middle" fill="#000">****</text>
<text x="755.5" y="1280.3" font-size="24.8" text-anchor="middle" fill="#000">pCK</text>
<text x="877.8" y="1280.3" font-size="24.4" text-anchor="middle" fill="#000">pCK-HGF-X7</text>
<text x="617.0" y="1101.0" font-size="23.5" font-weight="bold" text-anchor="middle" fill="#000" transform="rotate(-90 617.0 1101.0)">g-ratio</text>
</g>
<g id="hist1">
<rect x="1128.9" y="1230.9" width="17.0" height="5.1" fill="#c80000"/>
<rect x="1145.9" y="1225.8" width="17.0" height="10.2" fill="#1f4482"/>
<line x1="1137.4" y1="1228.2" x2="1137.4" y2="1233.0" stroke="#000" stroke-width="2.4" stroke-linecap="butt"/>
<line x1="1130.1" y1="1228.2" x2="1144.6" y2="1228.2" stroke="#000" stroke-width="2.4" stroke-linecap="butt"/>
<line x1="1130.1" y1="1233.0" x2="1144.6" y2="1233.0" stroke="#000" stroke-width="2.4" stroke-linecap="butt"/>
<line x1="1154.4" y1="1219.1" x2="1154.4" y2="1231.8" stroke="#000" stroke-width="2.4" stroke-linecap="butt"/>
<line x1="1147.1" y1="1219.1" x2="1161.6" y2="1219.1" stroke="#000" stroke-width="2.4" stroke-linecap="butt"/>
<line x1="1147.1" y1="1231.8" x2="1161.6" y2="1231.8" stroke="#000" stroke-width="2.4" stroke-linecap="butt"/>
<rect x="1187.6" y="1230.5" width="17.0" height="5.5" fill="#c80000"/>
<rect x="1204.6" y="1212.7" width="17.0" height="23.3" fill="#1f4482"/>
<line x1="1196.1" y1="1229.0" x2="1196.1" y2="1231.5" stroke="#000" stroke-width="2.4" stroke-linecap="butt"/>
<line x1="1188.8" y1="1229.0" x2="1203.3" y2="1229.0" stroke="#000" stroke-width="2.4" stroke-linecap="butt"/>
<line x1="1188.8" y1="1231.5" x2="1203.3" y2="1231.5" stroke="#000" stroke-width="2.4" stroke-linecap="butt"/>
<line x1="1213.1" y1="1209.6" x2="1213.1" y2="1216.7" stroke="#000" stroke-width="2.4" stroke-linecap="butt"/>
<line x1="1205.8" y1="1209.6" x2="1220.3" y2="1209.6" stroke="#000" stroke-width="2.4" stroke-linecap="butt"/>
<line x1="1205.8" y1="1216.7" x2="1220.3" y2="1216.7" stroke="#000" stroke-width="2.4" stroke-linecap="butt"/>
<rect x="1246.3" y="1217.6" width="17.0" height="18.4" fill="#c80000"/>
<rect x="1263.3" y="1173.6" width="17.0" height="62.4" fill="#1f4482"/>
<line x1="1254.8" y1="1210.5" x2="1254.8" y2="1225.5" stroke="#000" stroke-width="2.4" stroke-linecap="butt"/>
<line x1="1247.5" y1="1210.5" x2="1262.0" y2="1210.5" stroke="#000" stroke-width="2.4" stroke-linecap="butt"/>
<line x1="1247.5" y1="1225.5" x2="1262.0" y2="1225.5" stroke="#000" stroke-width="2.4" stroke-linecap="butt"/>
<line x1="1271.8" y1="1164.5" x2="1271.8" y2="1182.7" stroke="#000" stroke-width="2.4" stroke-linecap="butt"/>
<line x1="1264.5" y1="1164.5" x2="1279.0" y2="1164.5" stroke="#000" stroke-width="2.4" stroke-linecap="butt"/>
<line x1="1264.5" y1="1182.7" x2="1279.0" y2="1182.7" stroke="#000" stroke-width="2.4" stroke-linecap="butt"/>
<rect x="1305.0" y="1151.8" width="17.0" height="84.2" fill="#c80000"/>
<rect x="1322.0" y="1095.2" width="17.0" height="140.8" fill="#1f4482"/>
<line x1="1313.5" y1="1147.3" x2="1313.5" y2="1156.4" stroke="#000" stroke-width="2.4" stroke-linecap="butt"/>
<line x1="1306.3" y1="1147.3" x2="1320.8" y2="1147.3" stroke="#000" stroke-width="2.4" stroke-linecap="butt"/>
<line x1="1306.3" y1="1156.4" x2="1320.8" y2="1156.4" stroke="#000" stroke-width="2.4" stroke-linecap="butt"/>
<line x1="1330.5" y1="1086.4" x2="1330.5" y2="1104.5" stroke="#000" stroke-width="2.4" stroke-linecap="butt"/>
<line x1="1323.3" y1="1086.4" x2="1337.8" y2="1086.4" stroke="#000" stroke-width="2.4" stroke-linecap="butt"/>
<line x1="1323.3" y1="1104.5" x2="1337.8" y2="1104.5" stroke="#000" stroke-width="2.4" stroke-linecap="butt"/>
<rect x="1363.7" y="1053.8" width="17.0" height="182.2" fill="#c80000"/>
<rect x="1380.7" y="1026.9" width="17.0" height="209.1" fill="#1f4482"/>
<line x1="1372.2" y1="1038.7" x2="1372.2" y2="1069.5" stroke="#000" stroke-width="2.4" stroke-linecap="butt"/>
<line x1="1365.0" y1="1038.7" x2="1379.5" y2="1038.7" stroke="#000" stroke-width="2.4" stroke-linecap="butt"/>
<line x1="1365.0" y1="1069.5" x2="1379.5" y2="1069.5" stroke="#000" stroke-width="2.4" stroke-linecap="butt"/>
<line x1="1389.2" y1="1018.2" x2="1389.2" y2="1036.4" stroke="#000" stroke-width="2.4" stroke-linecap="butt"/>
<line x1="1382.0" y1="1018.2" x2="1396.5" y2="1018.2" stroke="#000" stroke-width="2.4" stroke-linecap="butt"/>
<line x1="1382.0" y1="1036.4" x2="1396.5" y2="1036.4" stroke="#000" stroke-width="2.4" stroke-linecap="butt"/>
<rect x="1422.5" y="998.0" width="17.0" height="238.1" fill="#c80000"/>
<rect x="1439.5" y="1076.6" width="17.0" height="159.4" fill="#1f4482"/>
<line x1="1431.0" y1="982.7" x2="1431.0" y2="1013.1" stroke="#000" stroke-width="2.4" stroke-linecap="butt"/>
<line x1="1423.7" y1="982.7" x2="1438.2" y2="982.7" stroke="#000" stroke-width="2.4" stroke-linecap="butt"/>
<line x1="1423.7" y1="1013.1" x2="1438.2" y2="1013.1" stroke="#000" stroke-width="2.4" stroke-linecap="butt"/>
<line x1="1448.0" y1="1073.6" x2="1448.0" y2="1079.6" stroke="#000" stroke-width="2.4" stroke-linecap="butt"/>
<line x1="1440.7" y1="1073.6" x2="1455.2" y2="1073.6" stroke="#000" stroke-width="2.4" stroke-linecap="butt"/>
<line x1="1440.7" y1="1079.6" x2="1455.2" y2="1079.6" stroke="#000" stroke-width="2.4" stroke-linecap="butt"/>
<rect x="1481.2" y="1106.3" width="17.0" height="129.7" fill="#c80000"/>
<rect x="1498.2" y="1166.3" width="17.0" height="69.7" fill="#1f4482"/>
<line x1="1489.7" y1="1091.8" x2="1489.7" y2="1120.5" stroke="#000" stroke-width="2.4" stroke-linecap="butt"/>
<line x1="1482.4" y1="1091.8" x2="1496.9" y2="1091.8" stroke="#000" stroke-width="2.4" stroke-linecap="butt"/>
<line x1="1482.4" y1="1120.5" x2="1496.9" y2="1120.5" stroke="#000" stroke-width="2.4" stroke-linecap="butt"/>
<line x1="1506.7" y1="1152.4" x2="1506.7" y2="1180.9" stroke="#000" stroke-width="2.4" stroke-linecap="butt"/>
<line x1="1499.4" y1="1152.4" x2="1513.9" y2="1152.4" stroke="#000" stroke-width="2.4" stroke-linecap="butt"/>
<line x1="1499.4" y1="1180.9" x2="1513.9" y2="1180.9" stroke="#000" stroke-width="2.4" stroke-linecap="butt"/>
<rect x="1539.9" y="1212.2" width="17.0" height="23.8" fill="#c80000"/>
<rect x="1556.9" y="1221.8" width="17.0" height="14.2" fill="#1f4482"/>
<line x1="1548.4" y1="1206.9" x2="1548.4" y2="1218.2" stroke="#000" stroke-width="2.4" stroke-linecap="butt"/>
<line x1="1541.1" y1="1206.9" x2="1555.6" y2="1206.9" stroke="#000" stroke-width="2.4" stroke-linecap="butt"/>
<line x1="1541.1" y1="1218.2" x2="1555.6" y2="1218.2" stroke="#000" stroke-width="2.4" stroke-linecap="butt"/>
<line x1="1565.4" y1="1211.8" x2="1565.4" y2="1232.7" stroke="#000" stroke-width="2.4" stroke-linecap="butt"/>
<line x1="1558.1" y1="1211.8" x2="1572.6" y2="1211.8" stroke="#000" stroke-width="2.4" stroke-linecap="butt"/>
<line x1="1558.1" y1="1232.7" x2="1572.6" y2="1232.7" stroke="#000" stroke-width="2.4" stroke-linecap="butt"/>
<rect x="1598.6" y="1230.5" width="17.0" height="5.5" fill="#c80000"/>
<rect x="1615.6" y="1233.9" width="17.0" height="2.1" fill="#1f4482"/>
<line x1="1607.1" y1="1228.2" x2="1607.1" y2="1232.7" stroke="#000" stroke-width="2.4" stroke-linecap="butt"/>
<line x1="1599.9" y1="1228.2" x2="1614.4" y2="1228.2" stroke="#000" stroke-width="2.4" stroke-linecap="butt"/>
<line x1="1599.9" y1="1232.7" x2="1614.4" y2="1232.7" stroke="#000" stroke-width="2.4" stroke-linecap="butt"/>
<line x1="1624.1" y1="1230.9" x2="1624.1" y2="1235.0" stroke="#000" stroke-width="2.4" stroke-linecap="butt"/>
<line x1="1616.9" y1="1230.9" x2="1631.4" y2="1230.9" stroke="#000" stroke-width="2.4" stroke-linecap="butt"/>
<line x1="1616.9" y1="1235.0" x2="1631.4" y2="1235.0" stroke="#000" stroke-width="2.4" stroke-linecap="butt"/>
<line x1="1116.2" y1="959.0" x2="1116.2" y2="1237.2" stroke="#868686" stroke-width="2.4" stroke-linecap="butt"/>
<line x1="1115.0" y1="1236.0" x2="1645.7" y2="1236.0" stroke="#868686" stroke-width="2.4" stroke-linecap="butt"/>
<line x1="1116.2" y1="960.0" x2="1125.2" y2="960.0" stroke="#868686" stroke-width="2.2" stroke-linecap="butt"/>
<text x="1088.5" y="970.7" font-size="31" text-anchor="end" fill="#000">40</text>
<line x1="1116.2" y1="1029.0" x2="1125.2" y2="1029.0" stroke="#868686" stroke-width="2.2" stroke-linecap="butt"/>
<text x="1088.5" y="1039.7" font-size="31" text-anchor="end" fill="#000">30</text>
<line x1="1116.2" y1="1098.0" x2="1125.2" y2="1098.0" stroke="#868686" stroke-width="2.2" stroke-linecap="butt"/>
<text x="1088.5" y="1108.7" font-size="31" text-anchor="end" fill="#000">20</text>
<line x1="1116.2" y1="1167.0" x2="1125.2" y2="1167.0" stroke="#868686" stroke-width="2.2" stroke-linecap="butt"/>
<text x="1088.5" y="1177.7" font-size="31" text-anchor="end" fill="#000">10</text>
<text x="1088.5" y="1246.7" font-size="31" text-anchor="end" fill="#000">0</text>
<line x1="1116.2" y1="1236.0" x2="1116.2" y2="1242.0" stroke="#868686" stroke-width="2.2" stroke-linecap="butt"/>
<line x1="1174.9" y1="1236.0" x2="1174.9" y2="1242.0" stroke="#868686" stroke-width="2.2" stroke-linecap="butt"/>
<line x1="1233.6" y1="1236.0" x2="1233.6" y2="1242.0" stroke="#868686" stroke-width="2.2" stroke-linecap="butt"/>
<line x1="1292.4" y1="1236.0" x2="1292.4" y2="1242.0" stroke="#868686" stroke-width="2.2" stroke-linecap="butt"/>
<line x1="1351.1" y1="1236.0" x2="1351.1" y2="1242.0" stroke="#868686" stroke-width="2.2" stroke-linecap="butt"/>
<line x1="1409.8" y1="1236.0" x2="1409.8" y2="1242.0" stroke="#868686" stroke-width="2.2" stroke-linecap="butt"/>
<line x1="1468.5" y1="1236.0" x2="1468.5" y2="1242.0" stroke="#868686" stroke-width="2.2" stroke-linecap="butt"/>
<line x1="1527.2" y1="1236.0" x2="1527.2" y2="1242.0" stroke="#868686" stroke-width="2.2" stroke-linecap="butt"/>
<line x1="1586.0" y1="1236.0" x2="1586.0" y2="1242.0" stroke="#868686" stroke-width="2.2" stroke-linecap="butt"/>
<line x1="1644.7" y1="1236.0" x2="1644.7" y2="1242.0" stroke="#868686" stroke-width="2.2" stroke-linecap="butt"/>
<text x="1150.6" y="1265.0" font-size="21.8" font-weight="bold" text-anchor="end" fill="#000" transform="rotate(-45 1150.6 1265.0)">0.5-0.55</text>
<text x="1209.3" y="1265.0" font-size="21.8" font-weight="bold" text-anchor="end" fill="#000" transform="rotate(-45 1209.3 1265.0)">0.55-0.6</text>
<text x="1268.0" y="1265.0" font-size="21.8" font-weight="bold" text-anchor="end" fill="#000" transform="rotate(-45 1268.0 1265.0)">0.6-0.65</text>
<text x="1326.7" y="1265.0" font-size="21.8" font-weight="bold" text-anchor="end" fill="#000" transform="rotate(-45 1326.7 1265.0)">0.65-0.7</text>
<text x="1385.4" y="1265.0" font-size="21.8" font-weight="bold" text-anchor="end" fill="#000" transform="rotate(-45 1385.4 1265.0)">0.7-0.75</text>
<text x="1444.2" y="1265.0" font-size="21.8" font-weight="bold" text-anchor="end" fill="#000" transform="rotate(-45 1444.2 1265.0)">0.75-0.8</text>
<text x="1502.9" y="1265.0" font-size="21.8" font-weight="bold" text-anchor="end" fill="#000" transform="rotate(-45 1502.9 1265.0)">0.8-0.85</text>
<text x="1561.6" y="1265.0" font-size="21.8" font-weight="bold" text-anchor="end" fill="#000" transform="rotate(-45 1561.6 1265.0)">0.85-0.9</text>
<text x="1620.3" y="1265.0" font-size="21.8" font-weight="bold" text-anchor="end" fill="#000" transform="rotate(-45 1620.3 1265.0)">0.9-0.95</text>
<text x="1321.0" y="1091.0" font-size="29" text-anchor="middle" fill="#000">*</text>
<text x="1431.0" y="992.0" font-size="29" text-anchor="middle" fill="#000">*</text>
<rect x="1147.0" y="914.8" width="15.0" height="14.5" fill="#c80000"/>
<rect x="1147.0" y="960.6" width="15.0" height="14.5" fill="#1f4482"/>
<text x="1167.5" y="930.0" font-size="27.7" text-anchor="start" fill="#000">Crush+pCK</text>
<text x="1167.5" y="975.8" font-size="27.7" text-anchor="start" fill="#000">Crush+pCK-HGF-X7</text>
<text x="1381.0" y="1355.2" font-size="31" font-weight="bold" text-anchor="middle" fill="#000">g-ratio</text>
<text x="1038.5" y="1098.3" font-size="31" font-weight="bold" text-anchor="middle" fill="#000" transform="rotate(-90 1038.5 1098.3)">percentage(%)</text>
</g>
<g id="hist2">
<rect x="267.9" y="1746.4" width="20.3" height="6.8" fill="#c80000"/>
<rect x="288.2" y="1750.1" width="20.3" height="3.1" fill="#1f4482"/>
<line x1="278.0" y1="1740.1" x2="278.0" y2="1750.9" stroke="#000" stroke-width="2.2" stroke-linecap="butt"/>
<line x1="270.7" y1="1740.1" x2="285.4" y2="1740.1" stroke="#000" stroke-width="2.2" stroke-linecap="butt"/>
<line x1="270.7" y1="1750.9" x2="285.4" y2="1750.9" stroke="#000" stroke-width="2.2" stroke-linecap="butt"/>
<line x1="298.3" y1="1745.1" x2="298.3" y2="1751.5" stroke="#000" stroke-width="2.2" stroke-linecap="butt"/>
<line x1="291.0" y1="1745.1" x2="305.7" y2="1745.1" stroke="#000" stroke-width="2.2" stroke-linecap="butt"/>
<line x1="291.0" y1="1751.5" x2="305.7" y2="1751.5" stroke="#000" stroke-width="2.2" stroke-linecap="butt"/>
<rect x="338.2" y="1659.9" width="20.3" height="93.3" fill="#c80000"/>
<rect x="358.5" y="1671.3" width="20.3" height="81.9" fill="#1f4482"/>
<line x1="348.4" y1="1628.0" x2="348.4" y2="1691.2" stroke="#000" stroke-width="2.2" stroke-linecap="butt"/>
<line x1="341.0" y1="1628.0" x2="355.7" y2="1628.0" stroke="#000" stroke-width="2.2" stroke-linecap="butt"/>
<line x1="341.0" y1="1691.2" x2="355.7" y2="1691.2" stroke="#000" stroke-width="2.2" stroke-linecap="butt"/>
<line x1="368.7" y1="1670.5" x2="368.7" y2="1672.0" stroke="#000" stroke-width="2.2" stroke-linecap="butt"/>
<line x1="361.3" y1="1670.5" x2="376.0" y2="1670.5" stroke="#000" stroke-width="2.2" stroke-linecap="butt"/>
<line x1="361.3" y1="1672.0" x2="376.0" y2="1672.0" stroke="#000" stroke-width="2.2" stroke-linecap="butt"/>
<rect x="408.6" y="1438.9" width="20.3" height="314.3" fill="#c80000"/>
<rect x="428.9" y="1535.7" width="20.3" height="217.5" fill="#1f4482"/>
<line x1="418.7" y1="1414.5" x2="418.7" y2="1462.6" stroke="#000" stroke-width="2.2" stroke-linecap="butt"/>
<line x1="411.4" y1="1414.5" x2="426.1" y2="1414.5" stroke="#000" stroke-width="2.2" stroke-linecap="butt"/>
<line x1="411.4" y1="1462.6" x2="426.1" y2="1462.6" stroke="#000" stroke-width="2.2" stroke-linecap="butt"/>
<line x1="439.0" y1="1496.9" x2="439.0" y2="1575.6" stroke="#000" stroke-width="2.2" stroke-linecap="butt"/>
<line x1="431.7" y1="1496.9" x2="446.4" y2="1496.9" stroke="#000" stroke-width="2.2" stroke-linecap="butt"/>
<line x1="431.7" y1="1575.6" x2="446.4" y2="1575.6" stroke="#000" stroke-width="2.2" stroke-linecap="butt"/>
<rect x="478.9" y="1497.0" width="20.3" height="256.2" fill="#c80000"/>
<rect x="499.2" y="1501.4" width="20.3" height="251.8" fill="#1f4482"/>
<line x1="489.1" y1="1484.8" x2="489.1" y2="1509.0" stroke="#000" stroke-width="2.2" stroke-linecap="butt"/>
<line x1="481.7" y1="1484.8" x2="496.4" y2="1484.8" stroke="#000" stroke-width="2.2" stroke-linecap="butt"/>
<line x1="481.7" y1="1509.0" x2="496.4" y2="1509.0" stroke="#000" stroke-width="2.2" stroke-linecap="butt"/>
<line x1="509.4" y1="1486.7" x2="509.4" y2="1516.5" stroke="#000" stroke-width="2.2" stroke-linecap="butt"/>
<line x1="502.0" y1="1486.7" x2="516.7" y2="1486.7" stroke="#000" stroke-width="2.2" stroke-linecap="butt"/>
<line x1="502.0" y1="1516.5" x2="516.7" y2="1516.5" stroke="#000" stroke-width="2.2" stroke-linecap="butt"/>
<rect x="549.3" y="1631.3" width="20.3" height="121.9" fill="#c80000"/>
<rect x="569.6" y="1579.7" width="20.3" height="173.5" fill="#1f4482"/>
<line x1="559.4" y1="1606.0" x2="559.4" y2="1656.2" stroke="#000" stroke-width="2.2" stroke-linecap="butt"/>
<line x1="552.1" y1="1606.0" x2="566.8" y2="1606.0" stroke="#000" stroke-width="2.2" stroke-linecap="butt"/>
<line x1="552.1" y1="1656.2" x2="566.8" y2="1656.2" stroke="#000" stroke-width="2.2" stroke-linecap="butt"/>
<line x1="579.7" y1="1559.2" x2="579.7" y2="1599.7" stroke="#000" stroke-width="2.2" stroke-linecap="butt"/>
<line x1="572.4" y1="1559.2" x2="587.1" y2="1559.2" stroke="#000" stroke-width="2.2" stroke-linecap="butt"/>
<line x1="572.4" y1="1599.7" x2="587.1" y2="1599.7" stroke="#000" stroke-width="2.2" stroke-linecap="butt"/>
<rect x="619.6" y="1687.6" width="20.3" height="65.6" fill="#c80000"/>
<rect x="639.9" y="1669.2" width="20.3" height="84.0" fill="#1f4482"/>
<line x1="629.8" y1="1682.1" x2="629.8" y2="1693.3" stroke="#000" stroke-width="2.2" stroke-linecap="butt"/>
<line x1="622.4" y1="1682.1" x2="637.1" y2="1682.1" stroke="#000" stroke-width="2.2" stroke-linecap="butt"/>
<line x1="622.4" y1="1693.3" x2="637.1" y2="1693.3" stroke="#000" stroke-width="2.2" stroke-linecap="butt"/>
<line x1="650.1" y1="1649.1" x2="650.1" y2="1688.8" stroke="#000" stroke-width="2.2" stroke-linecap="butt"/>
<line x1="642.7" y1="1649.1" x2="657.4" y2="1649.1" stroke="#000" stroke-width="2.2" stroke-linecap="butt"/>
<line x1="642.7" y1="1688.8" x2="657.4" y2="1688.8" stroke="#000" stroke-width="2.2" stroke-linecap="butt"/>
<rect x="690.0" y="1733.8" width="20.3" height="19.4" fill="#c80000"/>
<rect x="710.3" y="1708.3" width="20.3" height="44.9" fill="#1f4482"/>
<line x1="700.1" y1="1727.2" x2="700.1" y2="1741.1" stroke="#000" stroke-width="2.2" stroke-linecap="butt"/>
<line x1="692.8" y1="1727.2" x2="707.5" y2="1727.2" stroke="#000" stroke-width="2.2" stroke-linecap="butt"/>
<line x1="692.8" y1="1741.1" x2="707.5" y2="1741.1" stroke="#000" stroke-width="2.2" stroke-linecap="butt"/>
<line x1="720.4" y1="1700.0" x2="720.4" y2="1717.1" stroke="#000" stroke-width="2.2" stroke-linecap="butt"/>
<line x1="713.1" y1="1700.0" x2="727.8" y2="1700.0" stroke="#000" stroke-width="2.2" stroke-linecap="butt"/>
<line x1="713.1" y1="1717.1" x2="727.8" y2="1717.1" stroke="#000" stroke-width="2.2" stroke-linecap="butt"/>
<rect x="780.6" y="1736.0" width="20.3" height="17.2" fill="#1f4482"/>
<line x1="790.8" y1="1729.4" x2="790.8" y2="1742.6" stroke="#000" stroke-width="2.2" stroke-linecap="butt"/>
<line x1="783.4" y1="1729.4" x2="798.1" y2="1729.4" stroke="#000" stroke-width="2.2" stroke-linecap="butt"/>
<line x1="783.4" y1="1742.6" x2="798.1" y2="1742.6" stroke="#000" stroke-width="2.2" stroke-linecap="butt"/>
<rect x="851.0" y="1745.9" width="20.3" height="7.3" fill="#1f4482"/>
<line x1="252.4" y1="1399.7" x2="252.4" y2="1754.5" stroke="#868686" stroke-width="2.6" stroke-linecap="butt"/>
<line x1="251.1" y1="1753.2" x2="886.8" y2="1753.2" stroke="#868686" stroke-width="2.6" stroke-linecap="butt"/>
<line x1="252.4" y1="1401.0" x2="262.4" y2="1401.0" stroke="#868686" stroke-width="2.4" stroke-linecap="butt"/>
<text x="224.8" y="1411.3" font-size="30" text-anchor="end" fill="#000">40</text>
<line x1="252.4" y1="1489.0" x2="262.4" y2="1489.0" stroke="#868686" stroke-width="2.4" stroke-linecap="butt"/>
<text x="224.8" y="1499.3" font-size="30" text-anchor="end" fill="#000">30</text>
<line x1="252.4" y1="1577.1" x2="262.4" y2="1577.1" stroke="#868686" stroke-width="2.4" stroke-linecap="butt"/>
<text x="224.8" y="1587.4" font-size="30" text-anchor="end" fill="#000">20</text>
<line x1="252.4" y1="1665.2" x2="262.4" y2="1665.2" stroke="#868686" stroke-width="2.4" stroke-linecap="butt"/>
<text x="224.8" y="1675.5" font-size="30" text-anchor="end" fill="#000">10</text>
<text x="224.8" y="1763.5" font-size="30" text-anchor="end" fill="#000">0</text>
<line x1="252.4" y1="1753.2" x2="252.4" y2="1762.7" stroke="#868686" stroke-width="2.4" stroke-linecap="butt"/>
<line x1="322.8" y1="1753.2" x2="322.8" y2="1762.7" stroke="#868686" stroke-width="2.4" stroke-linecap="butt"/>
<line x1="393.1" y1="1753.2" x2="393.1" y2="1762.7" stroke="#868686" stroke-width="2.4" stroke-linecap="butt"/>
<line x1="463.4" y1="1753.2" x2="463.4" y2="1762.7" stroke="#868686" stroke-width="2.4" stroke-linecap="butt"/>
<line x1="533.8" y1="1753.2" x2="533.8" y2="1762.7" stroke="#868686" stroke-width="2.4" stroke-linecap="butt"/>
<line x1="604.1" y1="1753.2" x2="604.1" y2="1762.7" stroke="#868686" stroke-width="2.4" stroke-linecap="butt"/>
<line x1="674.5" y1="1753.2" x2="674.5" y2="1762.7" stroke="#868686" stroke-width="2.4" stroke-linecap="butt"/>
<line x1="744.8" y1="1753.2" x2="744.8" y2="1762.7" stroke="#868686" stroke-width="2.4" stroke-linecap="butt"/>
<line x1="815.2" y1="1753.2" x2="815.2" y2="1762.7" stroke="#868686" stroke-width="2.4" stroke-linecap="butt"/>
<line x1="885.5" y1="1753.2" x2="885.5" y2="1762.7" stroke="#868686" stroke-width="2.4" stroke-linecap="butt"/>
<text x="291.1" y="1800.3" font-size="30" text-anchor="middle" fill="#000">0-1</text>
<text x="361.4" y="1800.3" font-size="30" text-anchor="middle" fill="#000">1-2</text>
<text x="431.8" y="1800.3" font-size="30" text-anchor="middle" fill="#000">2-3</text>
<text x="502.1" y="1800.3" font-size="30" text-anchor="middle" fill="#000">3-4</text>
<text x="572.5" y="1800.3" font-size="30" text-anchor="middle" fill="#000">4-5</text>
<text x="642.8" y="1800.3" font-size="30" text-anchor="middle" fill="#000">5-6</text>
<text x="713.2" y="1800.3" font-size="30" text-anchor="middle" fill="#000">6-7</text>
<text x="783.5" y="1800.3" font-size="30" text-anchor="middle" fill="#000">7-8</text>
<text x="853.9" y="1800.3" font-size="30" text-anchor="middle" fill="#000">8-9</text>
<text x="431.0" y="1415.0" font-size="24" text-anchor="middle" fill="#000">**</text>
<rect x="538.6" y="1407.0" width="16.4" height="16.0" fill="#c80000"/>
<rect x="538.6" y="1461.5" width="16.4" height="16.0" fill="#1f4482"/>
<text x="561.3" y="1423.7" font-size="31" text-anchor="start" fill="#000">Crush+pCK</text>
<text x="561.3" y="1478.7" font-size="31" text-anchor="start" fill="#000">Crush+pCK-HGF-X7</text>
<text x="569.5" y="1847.0" font-size="31" font-weight="bold" text-anchor="middle" fill="#000">Axon diameter (µm)</text>
<text x="148.8" y="1574.5" font-size="31" font-weight="bold" text-anchor="middle" fill="#000" transform="rotate(-90 148.8 1574.5)">percentage (%)</text>
<text x="90.0" y="1434.5" font-size="36" font-weight="bold" text-anchor="start" fill="#000">(C)</text>
</g>
<g id="boxes">
<line x1="1097.3" y1="1421.8" x2="1097.3" y2="1753.8" stroke="#000" stroke-width="2.7" stroke-linecap="butt"/>
<line x1="1096.0" y1="1752.5" x2="1384.0" y2="1752.5" stroke="#000" stroke-width="2.7" stroke-linecap="butt"/>
<line x1="1089.7" y1="1423.2" x2="1097.3" y2="1423.2" stroke="#000" stroke-width="2.5" stroke-linecap="butt"/>
<text x="1087.5" y="1429.8" font-size="19" font-weight="bold" text-anchor="end" fill="#000">100</text>
<line x1="1089.7" y1="1489.1" x2="1097.3" y2="1489.1" stroke="#000" stroke-width="2.5" stroke-linecap="butt"/>
<text x="1087.5" y="1495.7" font-size="19" font-weight="bold" text-anchor="end" fill="#000">80</text>
<line x1="1089.7" y1="1554.9" x2="1097.3" y2="1554.9" stroke="#000" stroke-width="2.5" stroke-linecap="butt"/>
<text x="1087.5" y="1561.5" font-size="19" font-weight="bold" text-anchor="end" fill="#000">60</text>
<line x1="1089.7" y1="1620.8" x2="1097.3" y2="1620.8" stroke="#000" stroke-width="2.5" stroke-linecap="butt"/>
<text x="1087.5" y="1627.4" font-size="19" font-weight="bold" text-anchor="end" fill="#000">40</text>
<line x1="1089.7" y1="1686.6" x2="1097.3" y2="1686.6" stroke="#000" stroke-width="2.5" stroke-linecap="butt"/>
<text x="1087.5" y="1693.2" font-size="19" font-weight="bold" text-anchor="end" fill="#000">20</text>
<line x1="1089.7" y1="1752.5" x2="1097.3" y2="1752.5" stroke="#000" stroke-width="2.5" stroke-linecap="butt"/>
<text x="1087.5" y="1759.1" font-size="19" font-weight="bold" text-anchor="end" fill="#000">0</text>
<line x1="1154.3" y1="1752.5" x2="1154.3" y2="1759.5" stroke="#000" stroke-width="2.5" stroke-linecap="butt"/>
<rect x="1126.6" y="1510.5" width="55.4" height="92.6" fill="#fff" stroke="#000" stroke-width="2.7"/>
<line x1="1125.3" y1="1569.7" x2="1183.3" y2="1569.7" stroke="#000" stroke-width="2.7" stroke-linecap="butt"/>
<line x1="1154.3" y1="1453.1" x2="1154.3" y2="1509.2" stroke="#000" stroke-width="2.7" stroke-linecap="butt"/>
<line x1="1154.3" y1="1604.4" x2="1154.3" y2="1643.8" stroke="#000" stroke-width="2.7" stroke-linecap="butt"/>
<line x1="1140.6" y1="1453.1" x2="1168.0" y2="1453.1" stroke="#000" stroke-width="2.7" stroke-linecap="butt"/>
<line x1="1140.6" y1="1643.8" x2="1168.0" y2="1643.8" stroke="#000" stroke-width="2.7" stroke-linecap="butt"/>
<line x1="1239.4" y1="1752.5" x2="1239.4" y2="1759.5" stroke="#000" stroke-width="2.5" stroke-linecap="butt"/>
<rect x="1211.7" y="1538.9" width="55.7" height="87.2" fill="#fff" stroke="#000" stroke-width="2.7"/>
<line x1="1210.4" y1="1574.8" x2="1268.7" y2="1574.8" stroke="#000" stroke-width="2.7" stroke-linecap="butt"/>
<line x1="1239.4" y1="1525.6" x2="1239.4" y2="1537.6" stroke="#000" stroke-width="2.7" stroke-linecap="butt"/>
<line x1="1239.4" y1="1627.4" x2="1239.4" y2="1633.7" stroke="#000" stroke-width="2.7" stroke-linecap="butt"/>
<line x1="1225.7" y1="1525.6" x2="1253.1" y2="1525.6" stroke="#000" stroke-width="2.7" stroke-linecap="butt"/>
<line x1="1225.7" y1="1633.7" x2="1253.1" y2="1633.7" stroke="#000" stroke-width="2.7" stroke-linecap="butt"/>
<line x1="1325.1" y1="1752.5" x2="1325.1" y2="1759.5" stroke="#000" stroke-width="2.5" stroke-linecap="butt"/>
<rect x="1297.4" y="1566.6" width="55.1" height="51.6" fill="#fff" stroke="#000" stroke-width="2.7"/>
<line x1="1296.1" y1="1591.2" x2="1353.8" y2="1591.2" stroke="#000" stroke-width="2.7" stroke-linecap="butt"/>
<line x1="1325.1" y1="1542.0" x2="1325.1" y2="1565.3" stroke="#000" stroke-width="2.7" stroke-linecap="butt"/>
<line x1="1325.1" y1="1619.5" x2="1325.1" y2="1646.9" stroke="#000" stroke-width="2.7" stroke-linecap="butt"/>
<line x1="1311.4" y1="1542.0" x2="1338.8" y2="1542.0" stroke="#000" stroke-width="2.7" stroke-linecap="butt"/>
<line x1="1311.4" y1="1646.9" x2="1338.8" y2="1646.9" stroke="#000" stroke-width="2.7" stroke-linecap="butt"/>
<path d="M1155.9 1439.2 V1427.3 H1236.9 V1499.8 M1247.9 1509.8 V1427.3 H1327 V1525.6" fill="none" stroke="#000" stroke-width="1.1"/>
<text x="1196.4" y="1421.0" font-size="20.5" text-anchor="middle" fill="#000">n.s</text>
<text x="1287.8" y="1421.0" font-size="20.5" text-anchor="middle" fill="#000">n.s</text>
<text x="1152.3" y="1796.6" font-size="24.5" text-anchor="middle" fill="#000">Sham</text>
<text x="1230.8" y="1796.6" font-size="24.5" text-anchor="middle" fill="#000">pCK</text>
<text x="1345.8" y="1796.6" font-size="24.5" text-anchor="middle" fill="#000">pCK-HGF-X7</text>
<text x="1021.0" y="1587.3" font-size="20" font-weight="bold" text-anchor="middle" fill="#000" transform="rotate(-90 1021.0 1587.3)">Number of myelinated</text>
<text x="1046.8" y="1587.3" font-size="20" font-weight="bold" text-anchor="middle" fill="#000" transform="rotate(-90 1046.8 1587.3)">neurons / area</text>
<text x="932.5" y="1434.5" font-size="36" font-weight="bold" text-anchor="start" fill="#000">(D)</text>
</g>
</svg>
</body></html>
